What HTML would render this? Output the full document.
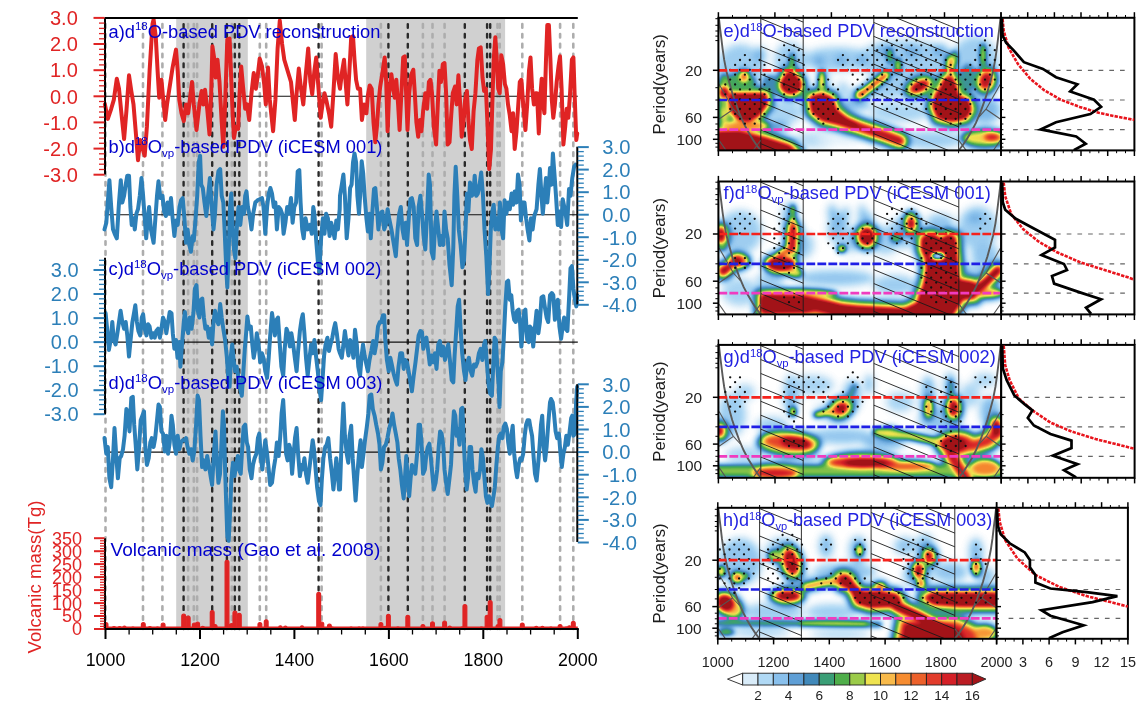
<!DOCTYPE html>
<html><head><meta charset="utf-8"><title>PDV reconstruction figure</title>
<style>html,body{margin:0;padding:0;background:#fff}svg{display:block}</style></head>
<body>
<svg width="1146" height="716" viewBox="0 0 1146 716">
<rect width="1146" height="716" fill="#fff"/>
<rect x="176.2" y="18.0" width="71.6" height="611.0" fill="#d0d0d0"/>
<rect x="366.2" y="18.0" width="138.9" height="611.0" fill="#d0d0d0"/>
<line x1="105.5" x2="105.5" y1="24.1" y2="629.0" stroke="#adadad" stroke-width="2.6" stroke-dasharray="3.6 6.268" stroke-linecap="round"/>
<line x1="143.0" x2="143.0" y1="24.1" y2="629.0" stroke="#adadad" stroke-width="2.6" stroke-dasharray="3.6 6.268" stroke-linecap="round"/>
<line x1="162.4" x2="162.4" y1="24.1" y2="629.0" stroke="#adadad" stroke-width="2.6" stroke-dasharray="3.6 6.268" stroke-linecap="round"/>
<line x1="188.1" x2="188.1" y1="24.1" y2="629.0" stroke="#adadad" stroke-width="2.6" stroke-dasharray="3.6 6.268" stroke-linecap="round"/>
<line x1="193.8" x2="193.8" y1="24.1" y2="629.0" stroke="#adadad" stroke-width="2.6" stroke-dasharray="3.6 6.268" stroke-linecap="round"/>
<line x1="197.1" x2="197.1" y1="24.1" y2="629.0" stroke="#adadad" stroke-width="2.6" stroke-dasharray="3.6 6.268" stroke-linecap="round"/>
<line x1="231.8" x2="231.8" y1="24.1" y2="629.0" stroke="#adadad" stroke-width="2.6" stroke-dasharray="3.6 6.268" stroke-linecap="round"/>
<line x1="259.8" x2="259.8" y1="24.1" y2="629.0" stroke="#adadad" stroke-width="2.6" stroke-dasharray="3.6 6.268" stroke-linecap="round"/>
<line x1="266.2" x2="266.2" y1="24.1" y2="629.0" stroke="#adadad" stroke-width="2.6" stroke-dasharray="3.6 6.268" stroke-linecap="round"/>
<line x1="321.6" x2="321.6" y1="24.1" y2="629.0" stroke="#adadad" stroke-width="2.6" stroke-dasharray="3.6 6.268" stroke-linecap="round"/>
<line x1="380.9" x2="380.9" y1="24.1" y2="629.0" stroke="#adadad" stroke-width="2.6" stroke-dasharray="3.6 6.268" stroke-linecap="round"/>
<line x1="422.9" x2="422.9" y1="24.1" y2="629.0" stroke="#adadad" stroke-width="2.6" stroke-dasharray="3.6 6.268" stroke-linecap="round"/>
<line x1="432.5" x2="432.5" y1="24.1" y2="629.0" stroke="#adadad" stroke-width="2.6" stroke-dasharray="3.6 6.268" stroke-linecap="round"/>
<line x1="444.6" x2="444.6" y1="24.1" y2="629.0" stroke="#adadad" stroke-width="2.6" stroke-dasharray="3.6 6.268" stroke-linecap="round"/>
<line x1="497.5" x2="497.5" y1="24.1" y2="629.0" stroke="#adadad" stroke-width="2.6" stroke-dasharray="3.6 6.268" stroke-linecap="round"/>
<line x1="499.7" x2="499.7" y1="24.1" y2="629.0" stroke="#adadad" stroke-width="2.6" stroke-dasharray="3.6 6.268" stroke-linecap="round"/>
<line x1="522.3" x2="522.3" y1="24.1" y2="629.0" stroke="#adadad" stroke-width="2.6" stroke-dasharray="3.6 6.268" stroke-linecap="round"/>
<line x1="560.1" x2="560.1" y1="24.1" y2="629.0" stroke="#adadad" stroke-width="2.6" stroke-dasharray="3.6 6.268" stroke-linecap="round"/>
<line x1="573.3" x2="573.3" y1="24.1" y2="629.0" stroke="#adadad" stroke-width="2.6" stroke-dasharray="3.6 6.268" stroke-linecap="round"/>
<line x1="183.6" x2="183.6" y1="24.1" y2="629.0" stroke="#2a2a2a" stroke-width="2.4" stroke-dasharray="3.6 6.268" stroke-linecap="round"/>
<line x1="212.2" x2="212.2" y1="24.1" y2="629.0" stroke="#2a2a2a" stroke-width="2.4" stroke-dasharray="3.6 6.268" stroke-linecap="round"/>
<line x1="226.9" x2="226.9" y1="24.1" y2="629.0" stroke="#2a2a2a" stroke-width="2.4" stroke-dasharray="3.6 6.268" stroke-linecap="round"/>
<line x1="234.8" x2="234.8" y1="24.1" y2="629.0" stroke="#2a2a2a" stroke-width="2.4" stroke-dasharray="3.6 6.268" stroke-linecap="round"/>
<line x1="239.3" x2="239.3" y1="24.1" y2="629.0" stroke="#2a2a2a" stroke-width="2.4" stroke-dasharray="3.6 6.268" stroke-linecap="round"/>
<line x1="318.6" x2="318.6" y1="24.1" y2="629.0" stroke="#2a2a2a" stroke-width="2.4" stroke-dasharray="3.6 6.268" stroke-linecap="round"/>
<line x1="388.4" x2="388.4" y1="24.1" y2="629.0" stroke="#2a2a2a" stroke-width="2.4" stroke-dasharray="3.6 6.268" stroke-linecap="round"/>
<line x1="407.8" x2="407.8" y1="24.1" y2="629.0" stroke="#2a2a2a" stroke-width="2.4" stroke-dasharray="3.6 6.268" stroke-linecap="round"/>
<line x1="464.8" x2="464.8" y1="24.1" y2="629.0" stroke="#2a2a2a" stroke-width="2.4" stroke-dasharray="3.6 6.268" stroke-linecap="round"/>
<line x1="487.1" x2="487.1" y1="24.1" y2="629.0" stroke="#2a2a2a" stroke-width="2.4" stroke-dasharray="3.6 6.268" stroke-linecap="round"/>
<line x1="490.2" x2="490.2" y1="24.1" y2="629.0" stroke="#2a2a2a" stroke-width="2.4" stroke-dasharray="3.6 6.268" stroke-linecap="round"/>
<line x1="105.5" x2="577.8" y1="96.3" y2="96.3" stroke="#111" stroke-width="1.1"/>
<line x1="105.5" x2="577.8" y1="214.7" y2="214.7" stroke="#111" stroke-width="1.1"/>
<line x1="105.5" x2="577.8" y1="342.1" y2="342.1" stroke="#111" stroke-width="1.1"/>
<line x1="105.5" x2="577.8" y1="452.1" y2="452.1" stroke="#111" stroke-width="1.1"/>
<path d="M105.5,629.0 L104.1,629.0 L104.1,624.4 Q104.1,622.5 106.0,622.5 L106.0,622.5 Q107.9,622.5 107.9,624.4 L107.9,629.0 L112.4,629.0 L112.4,628.1 Q112.4,626.7 113.8,626.7 L114.2,626.7 Q115.6,626.7 115.6,628.1 L115.6,629.0 L118.1,629.0 L118.1,628.0 Q118.1,626.5 119.6,626.5 L119.8,626.5 Q121.3,626.5 121.3,628.0 L121.3,629.0 L122.8,629.0 L122.8,627.6 Q122.8,626.0 124.4,626.0 L124.4,626.0 Q126.0,626.0 126.0,627.6 L126.0,629.0 L131.3,629.0 L131.3,628.2 Q131.3,627.0 132.5,627.0 L133.3,627.0 Q134.5,627.0 134.5,628.2 L134.5,629.0 L141.4,629.0 L141.4,624.4 Q141.4,622.5 143.3,622.5 L143.3,622.5 Q145.2,622.5 145.2,624.4 L145.2,629.0 L148.3,629.0 L148.3,628.0 Q148.3,626.5 149.8,626.5 L150.0,626.5 Q151.5,626.5 151.5,628.0 L151.5,629.0 L155.9,629.0 L155.9,628.2 Q155.9,627.0 157.1,627.0 L157.9,627.0 Q159.1,627.0 159.1,628.2 L159.1,629.0 L161.2,629.0 L161.2,624.9 Q161.2,623.0 163.1,623.0 L163.1,623.0 Q165.0,623.0 165.0,624.9 L165.0,629.0 L170.0,629.0 L170.0,628.4 Q170.0,627.5 170.9,627.5 L172.3,627.5 Q173.2,627.5 173.2,628.4 L173.2,629.0 L181.8,629.0 L181.8,616.1 Q181.8,614.2 183.7,614.2 L183.7,614.2 Q185.6,614.2 185.6,616.1 L185.6,629.0 L186.3,629.0 L186.3,617.9 Q186.3,616.0 188.2,616.0 L188.2,616.0 Q190.1,616.0 190.1,617.9 L190.1,629.0 L192.4,629.0 L192.4,624.9 Q192.4,623.0 194.3,623.0 L194.3,623.0 Q196.2,623.0 196.2,624.9 L196.2,629.0 L195.7,629.0 L195.7,623.9 Q195.7,622.0 197.6,622.0 L197.6,622.0 Q199.5,622.0 199.5,623.9 L199.5,629.0 L201.2,629.0 L201.2,628.0 Q201.2,626.4 202.8,626.4 L202.8,626.4 Q204.4,626.4 204.4,628.0 L204.4,629.0 L210.3,629.0 L210.3,612.4 Q210.3,610.5 212.2,610.5 L212.2,610.5 Q214.1,610.5 214.1,612.4 L214.1,629.0 L213.2,629.0 L213.2,626.4 Q213.2,624.5 215.1,624.5 L215.1,624.5 Q217.0,624.5 217.0,626.4 L217.0,629.0 L225.1,629.0 L225.1,562.2 Q225.1,560.3 227.0,560.3 L227.0,560.3 Q228.9,560.3 228.9,562.2 L228.9,629.0 L229.7,629.0 L229.7,625.4 Q229.7,623.5 231.6,623.5 L231.6,623.5 Q233.5,623.5 233.5,625.4 L233.5,629.0 L233.0,629.0 L233.0,612.9 Q233.0,611.0 234.9,611.0 L234.9,611.0 Q236.8,611.0 236.8,612.9 L236.8,629.0 L237.4,629.0 L237.4,615.2 Q237.4,613.3 239.3,613.3 L239.3,613.3 Q241.2,613.3 241.2,615.2 L241.2,629.0 L252.7,629.0 L252.7,628.4 Q252.7,627.5 253.6,627.5 L255.0,627.5 Q255.9,627.5 255.9,628.4 L255.9,629.0 L258.0,629.0 L258.0,624.4 Q258.0,622.5 259.9,622.5 L259.9,622.5 Q261.8,622.5 261.8,624.4 L261.8,629.0 L264.3,629.0 L264.3,621.7 Q264.3,619.8 266.2,619.8 L266.2,619.8 Q268.1,619.8 268.1,621.7 L268.1,629.0 L278.7,629.0 L278.7,627.4 Q278.7,625.8 280.3,625.8 L280.3,625.8 Q281.9,625.8 281.9,627.4 L281.9,629.0 L283.8,629.0 L283.8,627.6 Q283.8,626.0 285.4,626.0 L285.4,626.0 Q287.0,626.0 287.0,627.6 L287.0,629.0 L300.4,629.0 L300.4,627.4 Q300.4,625.8 302.0,625.8 L302.0,625.8 Q303.6,625.8 303.6,627.4 L303.6,629.0 L316.8,629.0 L316.8,594.3 Q316.8,592.4 318.7,592.4 L318.7,592.4 Q320.6,592.4 320.6,594.3 L320.6,629.0 L319.9,629.0 L319.9,623.9 Q319.9,622.0 321.8,622.0 L321.8,622.0 Q323.7,622.0 323.7,623.9 L323.7,629.0 L327.5,629.0 L327.5,626.1 Q327.5,624.2 329.4,624.2 L329.4,624.2 Q331.3,624.2 331.3,626.1 L331.3,629.0 L330.6,629.0 L330.6,628.2 Q330.6,627.0 331.8,627.0 L332.6,627.0 Q333.8,627.0 333.8,628.2 L333.8,629.0 L342.4,629.0 L342.4,628.4 Q342.4,627.5 343.3,627.5 L344.7,627.5 Q345.6,627.5 345.6,628.4 L345.6,629.0 L349.5,629.0 L349.5,628.2 Q349.5,627.0 350.7,627.0 L351.5,627.0 Q352.7,627.0 352.7,628.2 L352.7,629.0 L357.5,629.0 L357.5,628.2 Q357.5,627.0 358.7,627.0 L359.5,627.0 Q360.7,627.0 360.7,628.2 L360.7,629.0 L361.3,629.0 L361.3,628.2 Q361.3,627.0 362.5,627.0 L363.3,627.0 Q364.5,627.0 364.5,628.2 L364.5,629.0 L379.0,629.0 L379.0,624.4 Q379.0,622.5 380.9,622.5 L380.9,622.5 Q382.8,622.5 382.8,624.4 L382.8,629.0 L383.5,629.0 L383.5,628.0 Q383.5,626.4 385.1,626.4 L385.1,626.4 Q386.7,626.4 386.7,628.0 L386.7,629.0 L386.5,629.0 L386.5,616.3 Q386.5,614.4 388.4,614.4 L388.4,614.4 Q390.3,614.4 390.3,616.3 L390.3,629.0 L396.3,629.0 L396.3,628.3 Q396.3,627.2 397.3,627.2 L398.4,627.2 Q399.5,627.2 399.5,628.3 L399.5,629.0 L405.9,629.0 L405.9,617.2 Q405.9,615.3 407.8,615.3 L407.8,615.3 Q409.7,615.3 409.7,617.2 L409.7,629.0 L421.0,629.0 L421.0,626.5 Q421.0,624.6 422.9,624.6 L422.9,624.6 Q424.8,624.6 424.8,626.5 L424.8,629.0 L430.6,629.0 L430.6,623.7 Q430.6,621.8 432.5,621.8 L432.5,621.8 Q434.4,621.8 434.4,623.7 L434.4,629.0 L439.7,629.0 L439.7,628.5 Q439.7,627.8 440.4,627.8 L442.2,627.8 Q442.9,627.8 442.9,628.5 L442.9,629.0 L442.7,629.0 L442.7,622.9 Q442.7,621.0 444.6,621.0 L444.6,621.0 Q446.5,621.0 446.5,622.9 L446.5,629.0 L448.2,629.0 L448.2,627.8 Q448.2,626.2 449.8,626.2 L449.8,626.2 Q451.4,626.2 451.4,627.8 L451.4,629.0 L452.9,629.0 L452.9,628.5 Q452.9,627.8 453.6,627.8 L455.4,627.8 Q456.1,627.8 456.1,628.5 L456.1,629.0 L460.5,629.0 L460.5,628.3 Q460.5,627.2 461.6,627.2 L462.6,627.2 Q463.7,627.2 463.7,628.3 L463.7,629.0 L463.0,629.0 L463.0,606.5 Q463.0,604.6 464.9,604.6 L464.9,604.6 Q466.8,604.6 466.8,606.5 L466.8,629.0 L479.9,629.0 L479.9,628.3 Q479.9,627.2 480.9,627.2 L482.0,627.2 Q483.1,627.2 483.1,628.3 L483.1,629.0 L485.2,629.0 L485.2,617.2 Q485.2,615.3 487.1,615.3 L487.1,615.3 Q489.0,615.3 489.0,617.2 L489.0,629.0 L488.3,629.0 L488.3,602.5 Q488.3,600.6 490.2,600.6 L490.2,600.6 Q492.1,600.6 492.1,602.5 L492.1,629.0 L496.1,629.0 L496.1,626.5 Q496.1,624.6 498.0,624.6 L498.0,624.6 Q499.9,624.6 499.9,626.5 L499.9,629.0 L498.0,629.0 L498.0,620.4 Q498.0,618.5 499.9,618.5 L499.9,618.5 Q501.8,618.5 501.8,620.4 L501.8,629.0 L511.0,629.0 L511.0,628.5 Q511.0,627.8 511.7,627.8 L513.5,627.8 Q514.2,627.8 514.2,628.5 L514.2,629.0 L520.4,629.0 L520.4,625.0 Q520.4,623.1 522.3,623.1 L522.3,623.1 Q524.2,623.1 524.2,625.0 L524.2,629.0 L529.9,629.0 L529.9,628.5 Q529.9,627.8 530.6,627.8 L532.4,627.8 Q533.1,627.8 533.1,628.5 L533.1,629.0 L534.6,629.0 L534.6,628.0 Q534.6,626.4 536.2,626.4 L536.3,626.4 Q537.8,626.4 537.8,628.0 L537.8,629.0 L540.8,629.0 L540.8,628.0 Q540.8,626.4 542.3,626.4 L542.4,626.4 Q544.0,626.4 544.0,628.0 L544.0,629.0 L549.3,629.0 L549.3,628.3 Q549.3,627.2 550.4,627.2 L551.4,627.2 Q552.5,627.2 552.5,628.3 L552.5,629.0 L558.2,629.0 L558.2,626.5 Q558.2,624.6 560.1,624.6 L560.1,624.6 Q562.0,624.6 562.0,626.5 L562.0,629.0 L564.9,629.0 L564.9,628.3 Q564.9,627.2 565.9,627.2 L567.0,627.2 Q568.1,627.2 568.1,628.3 L568.1,629.0 L567.7,629.0 L567.7,627.4 Q567.7,625.8 569.3,625.8 L569.3,625.8 Q570.9,625.8 570.9,627.4 L570.9,629.0 L571.4,629.0 L571.4,623.3 Q571.4,621.4 573.3,621.4 L573.3,621.4 Q575.2,621.4 575.2,623.3 L575.2,629.0 L577.8,629.0 Z" fill="#e02424" stroke="#e02424" stroke-width="1.2" stroke-linejoin="round"/>
<line x1="105.5" x2="577.8" y1="627.8" y2="627.8" stroke="#e02424" stroke-width="2.4"/>
<polyline points="104.9,104.4 107.8,118.9 111.2,108.8 113.8,99.9 116.8,78.7 119.0,88.7 121.2,111.1 124.1,139.0 126.4,111.1 129.0,75.3 131.3,91.0 133.5,104.4 135.7,131.2 138.0,160.2 140.2,140.1 142.0,146.8 144.7,155.7 146.9,126.7 149.6,70.8 152.5,23.9 153.6,19.5 155.8,37.3 157.6,70.8 159.2,97.7 161.4,79.8 163.7,104.4 165.2,120.0 167.0,104.4 170.4,82.0 172.6,67.5 176.0,49.6 177.7,70.8 179.3,99.9 181.5,113.3 183.8,121.1 186.0,104.4 188.2,113.3 189.8,99.9 192.0,82.0 193.8,104.4 196.5,130.0 199.4,104.4 201.6,91.0 203.2,104.4 205.0,89.8 207.2,108.8 209.5,134.5 211.2,93.2 212.4,46.3 214.4,59.7 215.7,77.5 217.5,59.7 219.5,82.0 221.7,122.2 223.3,146.8 225.1,104.4 227.3,39.6 229.6,38.5 230.9,70.8 232.7,115.5 234.0,137.9 235.8,126.7 238.1,128.9 239.6,93.2 241.2,66.4 243.0,86.5 245.2,108.8 247.0,104.4 249.2,120.0 251.5,93.2 253.7,73.1 255.9,88.7 257.5,77.5 259.7,58.6 262.0,66.4 264.2,84.2 265.8,104.4 268.0,67.5 269.8,99.9 273.1,131.2 275.4,99.9 277.6,48.5 279.8,20.6 282.1,44.0 284.3,59.7 287.6,70.8 291.0,82.0 293.2,104.4 294.8,120.0 296.6,93.2 298.8,68.6 301.0,88.7 303.3,104.4 305.5,77.5 308.2,48.5 310.4,82.0 312.2,94.3 314.4,70.8 316.2,57.4 318.5,88.7 320.7,117.8 322.5,104.4 324.5,93.2 326.7,102.1 329.0,113.3 331.2,126.7 333.4,93.2 335.7,54.1 337.9,77.5 340.0,88.7 342.2,70.8 344.0,59.7 345.6,82.0 347.4,104.4 349.4,70.8 351.2,37.3 353.0,36.2 354.5,59.7 356.1,79.8 357.9,88.7 360.1,88.7 361.9,120.0 364.1,104.4 366.4,113.3 367.9,95.4 369.7,85.4 371.7,88.7 373.5,122.2 375.3,142.3 376.9,126.7 378.4,104.4 380.2,86.5 382.4,73.1 384.7,57.4 386.2,82.0 387.6,131.2 389.1,93.2 391.4,74.2 393.2,88.7 394.7,97.7 396.3,79.8 398.1,104.4 399.6,130.0 401.4,93.2 403.2,57.4 404.8,56.3 406.1,93.2 407.5,130.0 409.2,93.2 411.0,75.3 413.3,69.7 414.8,93.2 416.4,122.2 418.2,136.7 420.0,120.0 421.5,131.2 423.1,111.1 425.3,93.2 427.1,108.8 428.9,82.0 430.5,79.8 432.0,93.2 433.8,126.7 436.1,144.6 437.8,104.4 439.4,70.8 441.0,82.0 442.8,64.1 444.5,63.0 446.1,93.2 447.7,144.6 449.5,142.3 451.2,115.5 452.8,93.2 455.0,86.5 456.6,104.4 458.4,75.3 460.2,104.4 461.7,136.7 463.5,122.2 465.1,99.9 466.9,91.0 468.4,120.0 470.0,140.1 471.8,149.0 473.6,111.1 475.4,93.2 477.4,59.7 478.9,48.5 480.7,47.4 482.5,77.5 484.1,91.0 485.9,88.7 487.4,122.2 489.2,169.1 491.0,149.0 492.3,104.4 493.7,59.7 495.3,37.3 496.8,59.7 498.2,88.7 499.7,93.2 501.3,55.2 503.1,64.1 504.9,84.2 506.4,88.7 508.0,104.4 509.8,115.5 511.6,131.2 513.1,113.3 514.7,149.0 516.5,131.2 518.3,104.4 519.8,82.0 521.4,79.8 523.2,104.4 525.4,130.0 527.2,104.4 529.0,70.8 530.5,57.4 532.1,88.7 533.9,104.4 535.5,93.2 537.0,93.2 538.8,133.4 540.6,93.2 541.7,78.7 543.3,104.4 544.4,113.3 546.0,59.7 547.3,25.1 548.9,25.1 550.4,59.7 551.8,99.9 553.3,117.8 554.9,104.4 556.7,82.0 558.5,66.4 560.0,56.3 561.6,88.7 563.4,144.6 565.2,126.7 566.7,108.8 568.3,117.8 570.1,93.2 571.9,59.7 573.4,57.4 574.6,93.2 576.3,140.1 577.2,133.4" fill="none" stroke="#e02424" stroke-width="4" stroke-linejoin="round" stroke-linecap="round"/>
<polyline points="104.5,229.4 106.3,222.7 107.8,202.5 109.4,180.2 111.2,207.0 113.0,229.4 114.7,233.8 116.8,238.3 119.0,202.5 120.8,180.2 122.3,202.5 124.1,195.8 125.7,184.7 127.3,175.7 129.0,175.7 130.4,207.0 131.7,224.9 133.5,218.2 134.8,229.4 136.4,213.7 138.0,209.2 139.8,195.8 141.5,178.0 143.1,195.8 144.7,218.2 146.2,238.3 147.8,218.2 149.1,207.0 150.9,229.4 153.6,242.8 155.4,218.2 157.0,195.8 158.5,181.3 160.3,198.1 162.5,195.8 164.1,211.5 165.9,216.0 167.5,202.5 169.2,213.7 171.0,198.1 172.6,218.2 174.4,236.1 176.0,220.4 177.7,224.9 179.5,207.0 181.1,200.3 182.7,198.1 184.4,218.2 186.0,242.8 187.6,229.4 189.4,245.0 190.9,251.7 192.7,236.1 193.8,240.5 195.6,218.2 197.2,195.8 198.7,162.3 200.1,155.6 201.2,184.7 202.8,188.0 204.5,202.5 206.3,216.0 208.1,195.8 209.9,178.0 211.7,207.0 213.5,229.4 215.0,213.7 216.6,184.7 218.4,171.3 220.2,169.0 221.7,195.8 223.3,202.5 224.6,229.4 226.2,267.3 227.3,287.4 228.7,251.7 230.0,207.0 231.3,193.6 232.7,229.4 234.0,249.5 235.4,258.4 236.7,229.4 238.5,207.0 240.3,224.9 242.1,207.0 243.9,213.7 245.2,195.8 246.5,191.4 247.9,207.0 249.7,216.0 251.5,229.4 253.2,213.7 255.3,202.5 257.5,200.3 259.7,199.2 262.0,198.1 263.5,207.0 265.3,233.8 267.1,207.0 268.7,193.6 270.4,188.0 272.0,193.6 273.8,207.0 275.4,202.5 276.9,229.4 278.7,207.0 280.5,209.2 282.1,213.7 283.6,233.8 285.4,222.7 287.2,207.0 289.0,213.7 291.0,198.1 292.6,222.7 294.3,207.0 296.1,202.5 297.7,171.3 299.3,170.2 300.6,202.5 302.2,229.4 303.7,238.3 305.5,218.2 307.7,229.4 310.0,224.9 311.8,233.8 313.3,207.0 314.4,213.7 316.2,240.5 317.8,260.6 319.4,271.8 321.1,238.3 322.9,218.2 324.5,233.8 326.1,213.7 327.9,218.2 329.6,236.1 331.2,222.7 332.8,229.4 334.6,238.3 336.3,220.4 337.9,229.4 339.7,209.2 340.0,195.8 341.8,184.7 343.4,174.6 344.9,195.8 346.7,238.3 348.5,218.2 350.1,188.0 351.6,184.7 353.0,162.3 354.5,153.4 356.1,162.3 357.4,195.8 359.0,213.7 360.1,195.8 361.7,161.2 363.2,173.5 364.6,195.8 366.4,218.2 367.9,231.6 369.5,213.7 370.8,238.3 372.4,211.5 374.0,189.1 375.3,188.0 376.9,207.0 378.4,229.4 380.2,213.7 382.4,211.5 384.2,229.4 385.8,224.9 387.6,209.2 389.1,218.2 391.4,229.4 393.6,242.8 395.8,256.2 397.6,229.4 399.2,213.7 400.8,207.0 402.5,229.4 404.1,238.3 405.7,222.7 407.0,245.0 408.8,218.2 410.4,199.2 411.9,198.1 413.7,207.0 415.3,238.3 417.1,245.0 418.6,207.0 420.4,195.8 422.0,213.7 423.8,238.3 425.3,249.5 427.1,213.7 428.7,174.6 430.0,184.7 431.6,251.7 433.4,258.4 434.9,229.4 436.5,211.5 438.3,229.4 439.9,245.0 441.6,236.1 443.2,245.0 444.5,211.5 446.1,229.4 447.7,238.3 449.5,265.1 451.7,285.2 453.3,247.2 454.4,195.8 455.7,166.8 457.3,195.8 458.8,229.4 460.6,245.0 462.4,267.3 464.0,260.6 465.5,229.4 466.9,193.6 468.4,211.5 470.0,182.4 471.8,195.8 473.4,193.6 474.7,175.7 476.3,195.8 477.8,193.6 479.6,184.7 481.2,172.4 483.0,195.8 484.5,229.4 486.3,256.2 488.1,294.1 489.2,274.0 490.8,229.4 492.3,211.5 493.7,204.8 495.3,229.4 497.0,218.2 498.6,229.4 499.9,202.5 501.5,229.4 503.1,238.3 504.6,200.3 506.4,213.7 508.0,202.5 509.8,209.2 511.6,193.6 513.1,204.8 514.7,191.4 516.5,202.5 518.0,174.6 519.6,184.7 520.9,220.4 522.7,202.5 524.5,202.5 526.1,218.2 527.6,229.4 529.4,240.5 531.0,218.2 532.6,229.4 534.3,216.0 536.6,209.2 538.4,184.7 539.9,169.0 541.5,195.8 542.8,213.7 544.4,195.8 546.0,178.0 547.3,202.5 548.9,184.7 550.0,167.9 551.5,184.7 552.9,153.4 554.4,173.5 556.0,195.8 557.8,224.9 559.4,211.5 561.1,227.1 562.7,199.2 564.3,207.0 565.6,213.7 567.2,224.9 569.0,189.1 570.5,195.8 572.3,178.0 574.1,166.8 575.7,164.6" fill="none" stroke="#2c7fb8" stroke-width="4" stroke-linejoin="round" stroke-linecap="round"/>
<polyline points="105.6,313.1 107.1,328.7 108.9,349.9 110.7,339.9 112.3,322.0 113.8,339.9 115.6,344.4 117.4,333.2 119.0,322.0 120.6,310.8 122.3,322.0 124.1,328.7 125.7,322.0 127.3,335.4 129.0,356.6 130.6,339.9 132.4,322.0 134.0,313.1 135.3,305.3 136.9,322.0 138.4,331.0 140.2,335.4 141.8,317.5 143.1,314.2 144.7,328.7 146.5,335.4 148.0,324.2 149.6,326.5 151.4,337.7 153.2,333.2 154.7,337.7 156.3,331.0 158.1,328.7 159.9,337.7 161.4,328.7 163.0,317.5 164.8,322.0 166.3,333.2 168.1,322.0 169.7,312.0 171.5,313.1 172.8,333.2 174.4,348.8 176.0,339.9 177.5,357.8 179.3,342.1 180.4,366.7 182.0,344.4 183.8,322.0 184.9,312.0 186.7,328.7 188.2,333.2 189.8,317.5 191.6,328.7 193.4,313.1 194.9,288.5 196.5,285.2 197.8,310.8 199.4,317.5 201.0,299.7 202.3,298.6 203.9,317.5 205.4,328.7 207.2,326.5 208.8,337.7 210.6,328.7 212.1,344.4 213.5,322.0 215.0,310.8 216.6,319.8 218.4,324.2 220.2,304.1 221.7,317.5 223.3,328.7 225.1,339.9 226.9,357.8 228.4,380.1 229.6,386.8 230.9,355.5 232.2,344.4 233.6,360.0 235.1,371.2 236.7,366.7 238.5,377.9 240.3,389.0 241.8,395.7 243.4,371.2 244.8,348.8 246.3,331.0 247.4,316.4 249.0,328.7 250.8,326.5 252.3,344.4 253.7,357.8 255.3,348.8 256.8,333.2 258.6,344.4 260.2,362.2 262.0,353.3 263.5,357.8 265.3,371.2 267.1,377.9 268.7,357.8 270.2,335.4 272.0,313.1 273.3,322.0 274.9,335.4 276.5,319.8 278.0,317.5 279.8,344.4 281.4,366.7 283.2,375.6 284.7,348.8 286.5,328.7 288.1,333.2 289.9,346.6 291.4,333.2 293.2,344.4 294.8,357.8 296.6,371.2 298.1,351.1 299.9,331.0 301.5,319.8 302.8,314.2 304.4,333.2 306.0,357.8 307.7,375.6 309.3,360.0 311.1,344.4 312.7,353.3 314.4,339.9 316.2,357.8 317.8,371.2 319.4,389.0 321.1,400.2 322.5,380.1 324.1,355.5 325.6,344.4 327.4,337.7 329.0,351.1 330.5,344.4 332.3,337.7 333.9,328.7 335.2,323.1 336.8,333.2 338.6,348.8 340.0,353.3 341.8,357.8 343.4,344.4 344.9,331.0 346.7,344.4 348.5,355.5 350.1,339.9 351.6,344.4 353.4,357.8 355.0,329.8 356.8,344.4 358.3,366.7 360.1,375.6 361.7,355.5 363.0,344.4 364.6,355.5 366.4,364.5 367.9,371.2 369.5,360.0 371.3,351.1 373.1,341.0 374.6,353.3 376.2,344.4 378.0,326.5 379.8,322.0 381.3,322.0 382.9,315.3 384.2,315.3 385.3,339.9 386.9,360.0 388.7,371.2 390.3,357.8 391.8,364.5 393.6,373.4 395.4,380.1 397.0,384.6 398.5,366.7 400.3,353.3 402.1,353.3 403.7,368.9 405.2,360.0 407.0,362.2 408.6,371.2 410.4,382.3 411.9,391.3 413.7,375.6 415.5,362.2 417.1,348.8 418.6,335.4 420.4,331.0 422.0,332.1 423.3,348.8 424.9,339.9 426.4,337.7 428.2,351.1 429.8,364.5 431.6,355.5 433.4,362.2 434.9,353.3 436.5,368.9 438.3,344.4 439.9,341.0 441.6,355.5 443.2,346.6 445.0,360.0 446.6,351.1 448.3,344.4 449.9,360.0 451.7,380.1 453.3,382.3 454.6,355.5 456.2,331.0 457.7,306.4 459.1,299.7 460.6,328.7 462.2,353.3 464.0,371.2 465.5,380.1 467.3,362.2 468.9,357.8 470.7,371.2 472.2,375.6 474.0,364.5 475.6,366.7 477.4,362.2 478.9,353.3 480.7,348.8 482.3,360.0 484.1,344.4 485.2,341.0 486.8,362.2 488.6,384.6 490.1,393.5 491.9,395.7 493.2,366.7 494.6,337.7 495.9,339.9 497.3,366.7 498.6,384.6 499.5,406.9 500.8,371.2 502.4,362.2 503.7,339.9 505.3,306.4 506.9,281.8 508.2,280.7 509.8,299.7 511.3,295.2 512.7,310.8 514.2,319.8 515.8,322.0 517.1,310.8 518.7,309.7 520.0,322.0 521.4,346.6 522.7,331.0 524.3,310.8 525.4,309.7 527.2,339.9 528.8,342.1 529.9,326.5 531.7,328.7 533.2,346.6 534.8,328.7 536.6,310.8 538.4,333.2 539.9,322.0 541.5,297.4 543.3,296.3 545.1,308.6 546.6,317.5 548.2,322.0 550.0,295.2 551.8,293.0 553.3,295.2 554.9,319.8 556.2,306.4 557.8,299.7 559.4,326.5 561.1,338.8 562.7,326.5 564.1,317.5 565.6,328.7 567.4,331.0 569.0,299.7 570.5,268.4 571.9,266.2 573.4,288.5 574.6,297.4 576.3,306.4 577.2,295.2" fill="none" stroke="#2c7fb8" stroke-width="4" stroke-linejoin="round" stroke-linecap="round"/>
<polyline points="104.5,438.1 106.3,453.7 107.8,447.0 109.4,478.3 111.2,487.2 113.0,458.2 114.5,428.0 116.1,453.7 117.9,478.3 119.7,458.2 121.2,456.0 123.0,449.2 124.6,435.8 126.4,409.0 127.9,413.5 129.5,431.4 131.3,397.9 132.8,396.8 134.2,424.7 135.7,444.8 137.3,469.4 139.1,447.0 140.7,420.2 142.4,415.7 144.0,411.3 145.3,447.0 146.9,464.9 148.7,458.2 150.3,442.5 151.8,438.1 153.6,447.0 155.2,438.1 157.0,420.2 158.5,404.6 159.9,406.8 161.4,431.4 163.0,433.6 164.8,451.5 166.3,435.8 168.1,453.7 169.7,442.5 171.5,415.7 172.8,424.7 174.4,444.8 176.0,453.7 177.7,435.8 179.3,449.2 180.9,442.5 182.7,440.3 184.4,440.3 186.0,438.1 187.6,447.0 189.4,453.7 191.1,449.2 192.7,460.4 194.3,451.5 196.1,424.7 197.6,395.6 199.0,400.1 200.5,435.8 202.1,467.1 203.9,460.4 205.4,469.4 207.2,456.0 208.8,464.9 210.6,476.1 212.1,485.0 213.9,453.7 215.5,431.4 216.8,458.2 218.4,482.8 220.0,473.8 221.3,447.0 222.9,411.3 224.0,424.7 225.1,469.4 226.2,502.9 227.3,536.4 228.7,540.8 230.0,514.0 231.3,480.5 232.9,462.7 234.5,476.1 236.3,464.9 237.8,456.0 239.2,469.4 240.7,473.8 242.3,447.0 243.6,426.9 245.2,424.7 246.8,442.5 248.1,447.0 249.7,469.4 251.5,478.3 253.0,464.9 254.6,458.2 256.4,453.7 257.9,438.1 259.3,433.6 260.8,458.2 262.4,469.4 263.7,453.7 265.3,440.3 267.1,453.7 268.7,469.4 270.2,485.0 272.0,482.8 273.6,469.4 275.4,458.2 276.9,442.5 278.7,456.0 280.3,435.8 281.6,413.5 283.2,400.1 284.5,424.7 286.1,453.7 287.6,460.4 289.2,444.8 290.5,449.2 292.1,473.8 293.7,453.7 295.0,438.1 296.6,428.0 298.1,453.7 299.9,476.1 301.5,464.9 302.8,469.4 304.4,458.2 306.0,473.8 307.7,482.8 309.3,469.4 311.1,453.7 312.7,440.3 314.0,449.2 315.6,469.4 317.1,487.2 318.9,500.6 320.5,505.1 321.8,480.5 323.4,458.2 325.2,447.0 326.7,444.8 328.3,438.1 330.1,458.2 331.9,473.8 333.4,489.5 335.0,473.8 336.3,458.2 337.9,473.8 339.0,489.5 340.0,489.5 341.8,435.8 343.4,403.5 344.9,435.8 346.7,453.7 348.3,462.7 349.6,435.8 351.2,425.8 352.7,458.2 354.1,478.3 355.6,500.6 357.2,476.1 359.0,453.7 360.6,440.3 361.9,467.1 363.5,453.7 365.0,440.3 366.8,426.9 368.4,413.5 369.7,395.6 371.3,394.5 372.8,409.0 374.6,415.7 376.2,424.7 378.0,433.6 379.5,444.8 380.9,469.4 382.4,462.7 384.0,447.0 385.8,444.8 387.4,438.1 389.1,429.1 390.9,422.4 392.5,413.5 394.1,424.7 395.8,433.6 397.4,442.5 398.7,458.2 400.3,469.4 401.9,485.0 403.7,498.4 405.2,473.8 406.3,456.0 407.7,478.3 409.2,496.2 410.6,478.3 411.9,464.9 413.7,469.4 415.3,473.8 417.1,453.7 418.6,424.7 420.0,424.7 421.5,442.5 423.1,473.8 424.9,469.4 426.4,453.7 427.8,447.0 429.4,443.7 430.9,458.2 432.3,473.8 433.8,489.5 435.6,482.8 437.2,469.4 438.7,447.0 440.1,431.4 441.6,433.6 443.2,444.8 444.5,469.4 446.1,482.8 447.7,493.9 449.5,478.3 451.0,464.9 452.4,435.8 453.9,411.3 455.3,415.7 456.6,435.8 457.9,429.1 459.5,444.8 461.1,409.0 462.4,407.9 463.5,435.8 465.1,469.4 466.7,489.5 468.0,478.3 469.6,447.0 471.1,447.0 472.5,469.4 474.0,482.8 475.6,491.7 476.9,473.8 478.5,478.3 480.1,469.4 481.4,449.2 483.0,458.2 484.5,478.3 485.9,496.2 487.4,502.9 489.0,496.2 490.3,500.6 491.9,506.2 493.5,496.2 494.8,487.2 496.4,464.9 497.9,447.0 499.3,435.8 500.8,433.6 502.4,438.1 503.7,426.9 505.3,423.6 506.9,429.1 508.2,442.5 509.8,453.7 511.3,435.8 512.7,425.8 514.2,453.7 515.8,469.4 517.1,477.2 518.7,464.9 520.3,458.2 521.6,460.4 523.2,453.7 524.7,435.8 526.1,424.7 527.6,420.2 529.2,420.2 530.5,428.0 532.1,435.8 533.7,458.2 535.0,473.8 536.6,480.5 538.1,464.9 539.5,447.0 541.0,424.7 542.2,415.7 543.7,447.0 545.1,460.4 546.6,447.0 548.2,424.7 550.0,402.3 551.1,399.0 552.7,402.3 554.0,413.5 555.6,431.4 557.1,438.1 558.9,433.6 560.5,453.7 561.8,467.1 563.4,453.7 564.9,447.0 566.3,435.8 567.9,444.8 569.4,433.6 571.2,418.0 572.3,415.7 573.4,435.8 575.0,433.6 576.1,402.3 577.2,386.7" fill="none" stroke="#2c7fb8" stroke-width="4" stroke-linejoin="round" stroke-linecap="round"/>
<line x1="104.5" x2="577.8" y1="18.0" y2="18.0" stroke="#000" stroke-width="2"/>
<line x1="104.5" x2="578.8" y1="629.0" y2="629.0" stroke="#000" stroke-width="2"/>
<line x1="105.0" x2="105.0" y1="18.0" y2="174.6" stroke="#000" stroke-width="2"/>
<line x1="105.0" x2="105.0" y1="257.8" y2="414.5" stroke="#000" stroke-width="2"/>
<line x1="105.0" x2="105.0" y1="538.3" y2="629.0" stroke="#000" stroke-width="2"/>
<line x1="577.3" x2="577.3" y1="146.7" y2="304.4" stroke="#000" stroke-width="2"/>
<line x1="577.3" x2="577.3" y1="384.1" y2="542.0" stroke="#000" stroke-width="2"/>
<line x1="93.5" x2="104.5" y1="17.9" y2="17.9" stroke="#e02424" stroke-width="2"/>
<text x="77.8" y="25.1" font-family="Liberation Sans, Arial, sans-serif" font-size="20.0" fill="#e02424" text-anchor="end">3.0</text>
<line x1="99.0" x2="104.5" y1="23.1" y2="23.1" stroke="#e02424" stroke-width="1.3"/>
<line x1="99.0" x2="104.5" y1="28.4" y2="28.4" stroke="#e02424" stroke-width="1.3"/>
<line x1="99.0" x2="104.5" y1="33.6" y2="33.6" stroke="#e02424" stroke-width="1.3"/>
<line x1="99.0" x2="104.5" y1="38.8" y2="38.8" stroke="#e02424" stroke-width="1.3"/>
<line x1="93.5" x2="104.5" y1="44.0" y2="44.0" stroke="#e02424" stroke-width="2"/>
<text x="77.8" y="51.2" font-family="Liberation Sans, Arial, sans-serif" font-size="20.0" fill="#e02424" text-anchor="end">2.0</text>
<line x1="99.0" x2="104.5" y1="49.3" y2="49.3" stroke="#e02424" stroke-width="1.3"/>
<line x1="99.0" x2="104.5" y1="54.5" y2="54.5" stroke="#e02424" stroke-width="1.3"/>
<line x1="99.0" x2="104.5" y1="59.7" y2="59.7" stroke="#e02424" stroke-width="1.3"/>
<line x1="99.0" x2="104.5" y1="64.9" y2="64.9" stroke="#e02424" stroke-width="1.3"/>
<line x1="93.5" x2="104.5" y1="70.2" y2="70.2" stroke="#e02424" stroke-width="2"/>
<text x="77.8" y="77.3" font-family="Liberation Sans, Arial, sans-serif" font-size="20.0" fill="#e02424" text-anchor="end">1.0</text>
<line x1="99.0" x2="104.5" y1="75.4" y2="75.4" stroke="#e02424" stroke-width="1.3"/>
<line x1="99.0" x2="104.5" y1="80.6" y2="80.6" stroke="#e02424" stroke-width="1.3"/>
<line x1="99.0" x2="104.5" y1="85.8" y2="85.8" stroke="#e02424" stroke-width="1.3"/>
<line x1="99.0" x2="104.5" y1="91.1" y2="91.1" stroke="#e02424" stroke-width="1.3"/>
<line x1="93.5" x2="104.5" y1="96.3" y2="96.3" stroke="#e02424" stroke-width="2"/>
<text x="77.8" y="103.5" font-family="Liberation Sans, Arial, sans-serif" font-size="20.0" fill="#e02424" text-anchor="end">0.0</text>
<line x1="99.0" x2="104.5" y1="101.5" y2="101.5" stroke="#e02424" stroke-width="1.3"/>
<line x1="99.0" x2="104.5" y1="106.8" y2="106.8" stroke="#e02424" stroke-width="1.3"/>
<line x1="99.0" x2="104.5" y1="112.0" y2="112.0" stroke="#e02424" stroke-width="1.3"/>
<line x1="99.0" x2="104.5" y1="117.2" y2="117.2" stroke="#e02424" stroke-width="1.3"/>
<line x1="93.5" x2="104.5" y1="122.4" y2="122.4" stroke="#e02424" stroke-width="2"/>
<text x="77.8" y="129.6" font-family="Liberation Sans, Arial, sans-serif" font-size="20.0" fill="#e02424" text-anchor="end">-1.0</text>
<line x1="99.0" x2="104.5" y1="127.7" y2="127.7" stroke="#e02424" stroke-width="1.3"/>
<line x1="99.0" x2="104.5" y1="132.9" y2="132.9" stroke="#e02424" stroke-width="1.3"/>
<line x1="99.0" x2="104.5" y1="138.1" y2="138.1" stroke="#e02424" stroke-width="1.3"/>
<line x1="99.0" x2="104.5" y1="143.3" y2="143.3" stroke="#e02424" stroke-width="1.3"/>
<line x1="93.5" x2="104.5" y1="148.6" y2="148.6" stroke="#e02424" stroke-width="2"/>
<text x="77.8" y="155.7" font-family="Liberation Sans, Arial, sans-serif" font-size="20.0" fill="#e02424" text-anchor="end">-2.0</text>
<line x1="99.0" x2="104.5" y1="153.8" y2="153.8" stroke="#e02424" stroke-width="1.3"/>
<line x1="99.0" x2="104.5" y1="159.0" y2="159.0" stroke="#e02424" stroke-width="1.3"/>
<line x1="99.0" x2="104.5" y1="164.2" y2="164.2" stroke="#e02424" stroke-width="1.3"/>
<line x1="99.0" x2="104.5" y1="169.5" y2="169.5" stroke="#e02424" stroke-width="1.3"/>
<line x1="93.5" x2="104.5" y1="174.7" y2="174.7" stroke="#e02424" stroke-width="2"/>
<text x="77.8" y="181.8" font-family="Liberation Sans, Arial, sans-serif" font-size="20.0" fill="#e02424" text-anchor="end">-3.0</text>
<line x1="577.8" x2="588.8" y1="147.1" y2="147.1" stroke="#2c7fb8" stroke-width="2"/>
<text x="602.3" y="154.3" font-family="Liberation Sans, Arial, sans-serif" font-size="20.2" fill="#2c7fb8" text-anchor="start">3.0</text>
<line x1="577.8" x2="583.8" y1="151.6" y2="151.6" stroke="#2c7fb8" stroke-width="1.3"/>
<line x1="577.8" x2="583.8" y1="156.1" y2="156.1" stroke="#2c7fb8" stroke-width="1.3"/>
<line x1="577.8" x2="583.8" y1="160.6" y2="160.6" stroke="#2c7fb8" stroke-width="1.3"/>
<line x1="577.8" x2="583.8" y1="165.1" y2="165.1" stroke="#2c7fb8" stroke-width="1.3"/>
<line x1="577.8" x2="588.8" y1="169.6" y2="169.6" stroke="#2c7fb8" stroke-width="2"/>
<text x="602.3" y="176.9" font-family="Liberation Sans, Arial, sans-serif" font-size="20.2" fill="#2c7fb8" text-anchor="start">2.0</text>
<line x1="577.8" x2="583.8" y1="174.1" y2="174.1" stroke="#2c7fb8" stroke-width="1.3"/>
<line x1="577.8" x2="583.8" y1="178.7" y2="178.7" stroke="#2c7fb8" stroke-width="1.3"/>
<line x1="577.8" x2="583.8" y1="183.2" y2="183.2" stroke="#2c7fb8" stroke-width="1.3"/>
<line x1="577.8" x2="583.8" y1="187.7" y2="187.7" stroke="#2c7fb8" stroke-width="1.3"/>
<line x1="577.8" x2="588.8" y1="192.2" y2="192.2" stroke="#2c7fb8" stroke-width="2"/>
<text x="602.3" y="199.4" font-family="Liberation Sans, Arial, sans-serif" font-size="20.2" fill="#2c7fb8" text-anchor="start">1.0</text>
<line x1="577.8" x2="583.8" y1="196.7" y2="196.7" stroke="#2c7fb8" stroke-width="1.3"/>
<line x1="577.8" x2="583.8" y1="201.2" y2="201.2" stroke="#2c7fb8" stroke-width="1.3"/>
<line x1="577.8" x2="583.8" y1="205.7" y2="205.7" stroke="#2c7fb8" stroke-width="1.3"/>
<line x1="577.8" x2="583.8" y1="210.2" y2="210.2" stroke="#2c7fb8" stroke-width="1.3"/>
<line x1="577.8" x2="588.8" y1="214.7" y2="214.7" stroke="#2c7fb8" stroke-width="2"/>
<text x="602.3" y="221.9" font-family="Liberation Sans, Arial, sans-serif" font-size="20.2" fill="#2c7fb8" text-anchor="start">0.0</text>
<line x1="577.8" x2="583.8" y1="219.2" y2="219.2" stroke="#2c7fb8" stroke-width="1.3"/>
<line x1="577.8" x2="583.8" y1="223.7" y2="223.7" stroke="#2c7fb8" stroke-width="1.3"/>
<line x1="577.8" x2="583.8" y1="228.2" y2="228.2" stroke="#2c7fb8" stroke-width="1.3"/>
<line x1="577.8" x2="583.8" y1="232.7" y2="232.7" stroke="#2c7fb8" stroke-width="1.3"/>
<line x1="577.8" x2="588.8" y1="237.2" y2="237.2" stroke="#2c7fb8" stroke-width="2"/>
<text x="602.3" y="244.5" font-family="Liberation Sans, Arial, sans-serif" font-size="20.2" fill="#2c7fb8" text-anchor="start">-1.0</text>
<line x1="577.8" x2="583.8" y1="241.7" y2="241.7" stroke="#2c7fb8" stroke-width="1.3"/>
<line x1="577.8" x2="583.8" y1="246.2" y2="246.2" stroke="#2c7fb8" stroke-width="1.3"/>
<line x1="577.8" x2="583.8" y1="250.7" y2="250.7" stroke="#2c7fb8" stroke-width="1.3"/>
<line x1="577.8" x2="583.8" y1="255.3" y2="255.3" stroke="#2c7fb8" stroke-width="1.3"/>
<line x1="577.8" x2="588.8" y1="259.8" y2="259.8" stroke="#2c7fb8" stroke-width="2"/>
<text x="602.3" y="267.0" font-family="Liberation Sans, Arial, sans-serif" font-size="20.2" fill="#2c7fb8" text-anchor="start">-2.0</text>
<line x1="577.8" x2="583.8" y1="264.3" y2="264.3" stroke="#2c7fb8" stroke-width="1.3"/>
<line x1="577.8" x2="583.8" y1="268.8" y2="268.8" stroke="#2c7fb8" stroke-width="1.3"/>
<line x1="577.8" x2="583.8" y1="273.3" y2="273.3" stroke="#2c7fb8" stroke-width="1.3"/>
<line x1="577.8" x2="583.8" y1="277.8" y2="277.8" stroke="#2c7fb8" stroke-width="1.3"/>
<line x1="577.8" x2="588.8" y1="282.3" y2="282.3" stroke="#2c7fb8" stroke-width="2"/>
<text x="602.3" y="289.5" font-family="Liberation Sans, Arial, sans-serif" font-size="20.2" fill="#2c7fb8" text-anchor="start">-3.0</text>
<line x1="577.8" x2="583.8" y1="286.8" y2="286.8" stroke="#2c7fb8" stroke-width="1.3"/>
<line x1="577.8" x2="583.8" y1="291.3" y2="291.3" stroke="#2c7fb8" stroke-width="1.3"/>
<line x1="577.8" x2="583.8" y1="295.8" y2="295.8" stroke="#2c7fb8" stroke-width="1.3"/>
<line x1="577.8" x2="583.8" y1="300.3" y2="300.3" stroke="#2c7fb8" stroke-width="1.3"/>
<line x1="577.8" x2="588.8" y1="304.8" y2="304.8" stroke="#2c7fb8" stroke-width="2"/>
<text x="602.3" y="312.1" font-family="Liberation Sans, Arial, sans-serif" font-size="20.2" fill="#2c7fb8" text-anchor="start">-4.0</text>
<line x1="99.0" x2="104.5" y1="260.3" y2="260.3" stroke="#2c7fb8" stroke-width="1.3"/>
<line x1="99.0" x2="104.5" y1="265.1" y2="265.1" stroke="#2c7fb8" stroke-width="1.3"/>
<line x1="93.5" x2="104.5" y1="270.0" y2="270.0" stroke="#2c7fb8" stroke-width="2"/>
<text x="78.6" y="277.1" font-family="Liberation Sans, Arial, sans-serif" font-size="20.0" fill="#2c7fb8" text-anchor="end">3.0</text>
<line x1="99.0" x2="104.5" y1="274.8" y2="274.8" stroke="#2c7fb8" stroke-width="1.3"/>
<line x1="99.0" x2="104.5" y1="279.6" y2="279.6" stroke="#2c7fb8" stroke-width="1.3"/>
<line x1="99.0" x2="104.5" y1="284.4" y2="284.4" stroke="#2c7fb8" stroke-width="1.3"/>
<line x1="99.0" x2="104.5" y1="289.2" y2="289.2" stroke="#2c7fb8" stroke-width="1.3"/>
<line x1="93.5" x2="104.5" y1="294.0" y2="294.0" stroke="#2c7fb8" stroke-width="2"/>
<text x="78.6" y="301.2" font-family="Liberation Sans, Arial, sans-serif" font-size="20.0" fill="#2c7fb8" text-anchor="end">2.0</text>
<line x1="99.0" x2="104.5" y1="298.8" y2="298.8" stroke="#2c7fb8" stroke-width="1.3"/>
<line x1="99.0" x2="104.5" y1="303.6" y2="303.6" stroke="#2c7fb8" stroke-width="1.3"/>
<line x1="99.0" x2="104.5" y1="308.4" y2="308.4" stroke="#2c7fb8" stroke-width="1.3"/>
<line x1="99.0" x2="104.5" y1="313.2" y2="313.2" stroke="#2c7fb8" stroke-width="1.3"/>
<line x1="93.5" x2="104.5" y1="318.1" y2="318.1" stroke="#2c7fb8" stroke-width="2"/>
<text x="78.6" y="325.2" font-family="Liberation Sans, Arial, sans-serif" font-size="20.0" fill="#2c7fb8" text-anchor="end">1.0</text>
<line x1="99.0" x2="104.5" y1="322.9" y2="322.9" stroke="#2c7fb8" stroke-width="1.3"/>
<line x1="99.0" x2="104.5" y1="327.7" y2="327.7" stroke="#2c7fb8" stroke-width="1.3"/>
<line x1="99.0" x2="104.5" y1="332.5" y2="332.5" stroke="#2c7fb8" stroke-width="1.3"/>
<line x1="99.0" x2="104.5" y1="337.3" y2="337.3" stroke="#2c7fb8" stroke-width="1.3"/>
<line x1="93.5" x2="104.5" y1="342.1" y2="342.1" stroke="#2c7fb8" stroke-width="2"/>
<text x="78.6" y="349.3" font-family="Liberation Sans, Arial, sans-serif" font-size="20.0" fill="#2c7fb8" text-anchor="end">0.0</text>
<line x1="99.0" x2="104.5" y1="346.9" y2="346.9" stroke="#2c7fb8" stroke-width="1.3"/>
<line x1="99.0" x2="104.5" y1="351.7" y2="351.7" stroke="#2c7fb8" stroke-width="1.3"/>
<line x1="99.0" x2="104.5" y1="356.5" y2="356.5" stroke="#2c7fb8" stroke-width="1.3"/>
<line x1="99.0" x2="104.5" y1="361.3" y2="361.3" stroke="#2c7fb8" stroke-width="1.3"/>
<line x1="93.5" x2="104.5" y1="366.2" y2="366.2" stroke="#2c7fb8" stroke-width="2"/>
<text x="78.6" y="373.3" font-family="Liberation Sans, Arial, sans-serif" font-size="20.0" fill="#2c7fb8" text-anchor="end">-1.0</text>
<line x1="99.0" x2="104.5" y1="371.0" y2="371.0" stroke="#2c7fb8" stroke-width="1.3"/>
<line x1="99.0" x2="104.5" y1="375.8" y2="375.8" stroke="#2c7fb8" stroke-width="1.3"/>
<line x1="99.0" x2="104.5" y1="380.6" y2="380.6" stroke="#2c7fb8" stroke-width="1.3"/>
<line x1="99.0" x2="104.5" y1="385.4" y2="385.4" stroke="#2c7fb8" stroke-width="1.3"/>
<line x1="93.5" x2="104.5" y1="390.2" y2="390.2" stroke="#2c7fb8" stroke-width="2"/>
<text x="78.6" y="397.4" font-family="Liberation Sans, Arial, sans-serif" font-size="20.0" fill="#2c7fb8" text-anchor="end">-2.0</text>
<line x1="99.0" x2="104.5" y1="395.0" y2="395.0" stroke="#2c7fb8" stroke-width="1.3"/>
<line x1="99.0" x2="104.5" y1="399.8" y2="399.8" stroke="#2c7fb8" stroke-width="1.3"/>
<line x1="99.0" x2="104.5" y1="404.6" y2="404.6" stroke="#2c7fb8" stroke-width="1.3"/>
<line x1="99.0" x2="104.5" y1="409.4" y2="409.4" stroke="#2c7fb8" stroke-width="1.3"/>
<line x1="93.5" x2="104.5" y1="414.2" y2="414.2" stroke="#2c7fb8" stroke-width="2"/>
<text x="78.6" y="421.4" font-family="Liberation Sans, Arial, sans-serif" font-size="20.0" fill="#2c7fb8" text-anchor="end">-3.0</text>
<line x1="577.8" x2="588.8" y1="384.3" y2="384.3" stroke="#2c7fb8" stroke-width="2"/>
<text x="602.3" y="391.5" font-family="Liberation Sans, Arial, sans-serif" font-size="20.2" fill="#2c7fb8" text-anchor="start">3.0</text>
<line x1="577.8" x2="583.8" y1="388.8" y2="388.8" stroke="#2c7fb8" stroke-width="1.3"/>
<line x1="577.8" x2="583.8" y1="393.3" y2="393.3" stroke="#2c7fb8" stroke-width="1.3"/>
<line x1="577.8" x2="583.8" y1="397.9" y2="397.9" stroke="#2c7fb8" stroke-width="1.3"/>
<line x1="577.8" x2="583.8" y1="402.4" y2="402.4" stroke="#2c7fb8" stroke-width="1.3"/>
<line x1="577.8" x2="588.8" y1="406.9" y2="406.9" stroke="#2c7fb8" stroke-width="2"/>
<text x="602.3" y="414.1" font-family="Liberation Sans, Arial, sans-serif" font-size="20.2" fill="#2c7fb8" text-anchor="start">2.0</text>
<line x1="577.8" x2="583.8" y1="411.4" y2="411.4" stroke="#2c7fb8" stroke-width="1.3"/>
<line x1="577.8" x2="583.8" y1="415.9" y2="415.9" stroke="#2c7fb8" stroke-width="1.3"/>
<line x1="577.8" x2="583.8" y1="420.5" y2="420.5" stroke="#2c7fb8" stroke-width="1.3"/>
<line x1="577.8" x2="583.8" y1="425.0" y2="425.0" stroke="#2c7fb8" stroke-width="1.3"/>
<line x1="577.8" x2="588.8" y1="429.5" y2="429.5" stroke="#2c7fb8" stroke-width="2"/>
<text x="602.3" y="436.7" font-family="Liberation Sans, Arial, sans-serif" font-size="20.2" fill="#2c7fb8" text-anchor="start">1.0</text>
<line x1="577.8" x2="583.8" y1="434.0" y2="434.0" stroke="#2c7fb8" stroke-width="1.3"/>
<line x1="577.8" x2="583.8" y1="438.5" y2="438.5" stroke="#2c7fb8" stroke-width="1.3"/>
<line x1="577.8" x2="583.8" y1="443.1" y2="443.1" stroke="#2c7fb8" stroke-width="1.3"/>
<line x1="577.8" x2="583.8" y1="447.6" y2="447.6" stroke="#2c7fb8" stroke-width="1.3"/>
<line x1="577.8" x2="588.8" y1="452.1" y2="452.1" stroke="#2c7fb8" stroke-width="2"/>
<text x="602.3" y="459.3" font-family="Liberation Sans, Arial, sans-serif" font-size="20.2" fill="#2c7fb8" text-anchor="start">0.0</text>
<line x1="577.8" x2="583.8" y1="456.6" y2="456.6" stroke="#2c7fb8" stroke-width="1.3"/>
<line x1="577.8" x2="583.8" y1="461.1" y2="461.1" stroke="#2c7fb8" stroke-width="1.3"/>
<line x1="577.8" x2="583.8" y1="465.7" y2="465.7" stroke="#2c7fb8" stroke-width="1.3"/>
<line x1="577.8" x2="583.8" y1="470.2" y2="470.2" stroke="#2c7fb8" stroke-width="1.3"/>
<line x1="577.8" x2="588.8" y1="474.7" y2="474.7" stroke="#2c7fb8" stroke-width="2"/>
<text x="602.3" y="481.9" font-family="Liberation Sans, Arial, sans-serif" font-size="20.2" fill="#2c7fb8" text-anchor="start">-1.0</text>
<line x1="577.8" x2="583.8" y1="479.2" y2="479.2" stroke="#2c7fb8" stroke-width="1.3"/>
<line x1="577.8" x2="583.8" y1="483.7" y2="483.7" stroke="#2c7fb8" stroke-width="1.3"/>
<line x1="577.8" x2="583.8" y1="488.3" y2="488.3" stroke="#2c7fb8" stroke-width="1.3"/>
<line x1="577.8" x2="583.8" y1="492.8" y2="492.8" stroke="#2c7fb8" stroke-width="1.3"/>
<line x1="577.8" x2="588.8" y1="497.3" y2="497.3" stroke="#2c7fb8" stroke-width="2"/>
<text x="602.3" y="504.5" font-family="Liberation Sans, Arial, sans-serif" font-size="20.2" fill="#2c7fb8" text-anchor="start">-2.0</text>
<line x1="577.8" x2="583.8" y1="501.8" y2="501.8" stroke="#2c7fb8" stroke-width="1.3"/>
<line x1="577.8" x2="583.8" y1="506.3" y2="506.3" stroke="#2c7fb8" stroke-width="1.3"/>
<line x1="577.8" x2="583.8" y1="510.9" y2="510.9" stroke="#2c7fb8" stroke-width="1.3"/>
<line x1="577.8" x2="583.8" y1="515.4" y2="515.4" stroke="#2c7fb8" stroke-width="1.3"/>
<line x1="577.8" x2="588.8" y1="519.9" y2="519.9" stroke="#2c7fb8" stroke-width="2"/>
<text x="602.3" y="527.1" font-family="Liberation Sans, Arial, sans-serif" font-size="20.2" fill="#2c7fb8" text-anchor="start">-3.0</text>
<line x1="577.8" x2="583.8" y1="524.4" y2="524.4" stroke="#2c7fb8" stroke-width="1.3"/>
<line x1="577.8" x2="583.8" y1="528.9" y2="528.9" stroke="#2c7fb8" stroke-width="1.3"/>
<line x1="577.8" x2="583.8" y1="533.5" y2="533.5" stroke="#2c7fb8" stroke-width="1.3"/>
<line x1="577.8" x2="583.8" y1="538.0" y2="538.0" stroke="#2c7fb8" stroke-width="1.3"/>
<line x1="577.8" x2="588.8" y1="542.5" y2="542.5" stroke="#2c7fb8" stroke-width="2"/>
<text x="602.3" y="549.7" font-family="Liberation Sans, Arial, sans-serif" font-size="20.2" fill="#2c7fb8" text-anchor="start">-4.0</text>
<line x1="94.0" x2="104.5" y1="629.0" y2="629.0" stroke="#e02424" stroke-width="2"/>
<text x="82" y="635.4" font-family="Liberation Sans, Arial, sans-serif" font-size="18" fill="#e02424" text-anchor="end">0</text>
<line x1="100.0" x2="104.5" y1="626.4" y2="626.4" stroke="#e02424" stroke-width="1.2"/>
<line x1="100.0" x2="104.5" y1="623.8" y2="623.8" stroke="#e02424" stroke-width="1.2"/>
<line x1="100.0" x2="104.5" y1="621.2" y2="621.2" stroke="#e02424" stroke-width="1.2"/>
<line x1="100.0" x2="104.5" y1="618.6" y2="618.6" stroke="#e02424" stroke-width="1.2"/>
<line x1="94.0" x2="104.5" y1="616.0" y2="616.0" stroke="#e02424" stroke-width="2"/>
<text x="82" y="622.4" font-family="Liberation Sans, Arial, sans-serif" font-size="18" fill="#e02424" text-anchor="end">50</text>
<line x1="100.0" x2="104.5" y1="613.4" y2="613.4" stroke="#e02424" stroke-width="1.2"/>
<line x1="100.0" x2="104.5" y1="610.8" y2="610.8" stroke="#e02424" stroke-width="1.2"/>
<line x1="100.0" x2="104.5" y1="608.2" y2="608.2" stroke="#e02424" stroke-width="1.2"/>
<line x1="100.0" x2="104.5" y1="605.7" y2="605.7" stroke="#e02424" stroke-width="1.2"/>
<line x1="94.0" x2="104.5" y1="603.1" y2="603.1" stroke="#e02424" stroke-width="2"/>
<text x="82" y="609.5" font-family="Liberation Sans, Arial, sans-serif" font-size="18" fill="#e02424" text-anchor="end">100</text>
<line x1="100.0" x2="104.5" y1="600.5" y2="600.5" stroke="#e02424" stroke-width="1.2"/>
<line x1="100.0" x2="104.5" y1="597.9" y2="597.9" stroke="#e02424" stroke-width="1.2"/>
<line x1="100.0" x2="104.5" y1="595.3" y2="595.3" stroke="#e02424" stroke-width="1.2"/>
<line x1="100.0" x2="104.5" y1="592.7" y2="592.7" stroke="#e02424" stroke-width="1.2"/>
<line x1="94.0" x2="104.5" y1="590.1" y2="590.1" stroke="#e02424" stroke-width="2"/>
<text x="82" y="596.5" font-family="Liberation Sans, Arial, sans-serif" font-size="18" fill="#e02424" text-anchor="end">150</text>
<line x1="100.0" x2="104.5" y1="587.5" y2="587.5" stroke="#e02424" stroke-width="1.2"/>
<line x1="100.0" x2="104.5" y1="584.9" y2="584.9" stroke="#e02424" stroke-width="1.2"/>
<line x1="100.0" x2="104.5" y1="582.3" y2="582.3" stroke="#e02424" stroke-width="1.2"/>
<line x1="100.0" x2="104.5" y1="579.7" y2="579.7" stroke="#e02424" stroke-width="1.2"/>
<line x1="94.0" x2="104.5" y1="577.1" y2="577.1" stroke="#e02424" stroke-width="2"/>
<text x="82" y="583.5" font-family="Liberation Sans, Arial, sans-serif" font-size="18" fill="#e02424" text-anchor="end">200</text>
<line x1="100.0" x2="104.5" y1="574.5" y2="574.5" stroke="#e02424" stroke-width="1.2"/>
<line x1="100.0" x2="104.5" y1="571.9" y2="571.9" stroke="#e02424" stroke-width="1.2"/>
<line x1="100.0" x2="104.5" y1="569.3" y2="569.3" stroke="#e02424" stroke-width="1.2"/>
<line x1="100.0" x2="104.5" y1="566.7" y2="566.7" stroke="#e02424" stroke-width="1.2"/>
<line x1="94.0" x2="104.5" y1="564.1" y2="564.1" stroke="#e02424" stroke-width="2"/>
<text x="82" y="570.5" font-family="Liberation Sans, Arial, sans-serif" font-size="18" fill="#e02424" text-anchor="end">250</text>
<line x1="100.0" x2="104.5" y1="561.6" y2="561.6" stroke="#e02424" stroke-width="1.2"/>
<line x1="100.0" x2="104.5" y1="559.0" y2="559.0" stroke="#e02424" stroke-width="1.2"/>
<line x1="100.0" x2="104.5" y1="556.4" y2="556.4" stroke="#e02424" stroke-width="1.2"/>
<line x1="100.0" x2="104.5" y1="553.8" y2="553.8" stroke="#e02424" stroke-width="1.2"/>
<line x1="94.0" x2="104.5" y1="551.2" y2="551.2" stroke="#e02424" stroke-width="2"/>
<text x="82" y="557.6" font-family="Liberation Sans, Arial, sans-serif" font-size="18" fill="#e02424" text-anchor="end">300</text>
<line x1="100.0" x2="104.5" y1="548.6" y2="548.6" stroke="#e02424" stroke-width="1.2"/>
<line x1="100.0" x2="104.5" y1="546.0" y2="546.0" stroke="#e02424" stroke-width="1.2"/>
<line x1="100.0" x2="104.5" y1="543.4" y2="543.4" stroke="#e02424" stroke-width="1.2"/>
<line x1="100.0" x2="104.5" y1="540.8" y2="540.8" stroke="#e02424" stroke-width="1.2"/>
<line x1="94.0" x2="104.5" y1="538.2" y2="538.2" stroke="#e02424" stroke-width="2"/>
<text x="82" y="544.6" font-family="Liberation Sans, Arial, sans-serif" font-size="18" fill="#e02424" text-anchor="end">350</text>
<text transform="translate(41,577) rotate(-90)" font-family="Liberation Sans, Arial, sans-serif" font-size="18.6" fill="#e02424" text-anchor="middle">Volcanic mass(Tg)</text>
<line x1="105.5" x2="105.5" y1="629.0" y2="639.0" stroke="#000" stroke-width="2"/>
<text x="105.5" y="665.7" font-family="Liberation Sans, Arial, sans-serif" font-size="17.8" fill="#000" text-anchor="middle">1000</text>
<line x1="129.1" x2="129.1" y1="629.0" y2="634.5" stroke="#000" stroke-width="1.3"/>
<line x1="152.7" x2="152.7" y1="629.0" y2="634.5" stroke="#000" stroke-width="1.3"/>
<line x1="176.3" x2="176.3" y1="629.0" y2="634.5" stroke="#000" stroke-width="1.3"/>
<line x1="200.0" x2="200.0" y1="629.0" y2="639.0" stroke="#000" stroke-width="2"/>
<text x="200.0" y="665.7" font-family="Liberation Sans, Arial, sans-serif" font-size="17.8" fill="#000" text-anchor="middle">1200</text>
<line x1="223.6" x2="223.6" y1="629.0" y2="634.5" stroke="#000" stroke-width="1.3"/>
<line x1="247.2" x2="247.2" y1="629.0" y2="634.5" stroke="#000" stroke-width="1.3"/>
<line x1="270.8" x2="270.8" y1="629.0" y2="634.5" stroke="#000" stroke-width="1.3"/>
<line x1="294.4" x2="294.4" y1="629.0" y2="639.0" stroke="#000" stroke-width="2"/>
<text x="294.4" y="665.7" font-family="Liberation Sans, Arial, sans-serif" font-size="17.8" fill="#000" text-anchor="middle">1400</text>
<line x1="318.0" x2="318.0" y1="629.0" y2="634.5" stroke="#000" stroke-width="1.3"/>
<line x1="341.6" x2="341.6" y1="629.0" y2="634.5" stroke="#000" stroke-width="1.3"/>
<line x1="365.3" x2="365.3" y1="629.0" y2="634.5" stroke="#000" stroke-width="1.3"/>
<line x1="388.9" x2="388.9" y1="629.0" y2="639.0" stroke="#000" stroke-width="2"/>
<text x="388.9" y="665.7" font-family="Liberation Sans, Arial, sans-serif" font-size="17.8" fill="#000" text-anchor="middle">1600</text>
<line x1="412.5" x2="412.5" y1="629.0" y2="634.5" stroke="#000" stroke-width="1.3"/>
<line x1="436.1" x2="436.1" y1="629.0" y2="634.5" stroke="#000" stroke-width="1.3"/>
<line x1="459.7" x2="459.7" y1="629.0" y2="634.5" stroke="#000" stroke-width="1.3"/>
<line x1="483.3" x2="483.3" y1="629.0" y2="639.0" stroke="#000" stroke-width="2"/>
<text x="483.3" y="665.7" font-family="Liberation Sans, Arial, sans-serif" font-size="17.8" fill="#000" text-anchor="middle">1800</text>
<line x1="507.0" x2="507.0" y1="629.0" y2="634.5" stroke="#000" stroke-width="1.3"/>
<line x1="530.6" x2="530.6" y1="629.0" y2="634.5" stroke="#000" stroke-width="1.3"/>
<line x1="554.2" x2="554.2" y1="629.0" y2="634.5" stroke="#000" stroke-width="1.3"/>
<line x1="577.8" x2="577.8" y1="629.0" y2="639.0" stroke="#000" stroke-width="2"/>
<text x="577.8" y="665.7" font-family="Liberation Sans, Arial, sans-serif" font-size="17.8" fill="#000" text-anchor="middle">2000</text>
<text x="108.5" y="37.6" font-family="Liberation Sans, Arial, sans-serif" font-size="18.3" fill="#0000cd">a)d<tspan font-size="11.5" dy="-7.5">18</tspan><tspan dy="7.5">O</tspan>-based PDV reconstruction</text>
<text x="108.5" y="152.6" font-family="Liberation Sans, Arial, sans-serif" font-size="18.3" fill="#0000cd">b)d<tspan font-size="11.5" dy="-7.5">18</tspan><tspan dy="7.5">O</tspan><tspan font-size="11.5" dy="4">vp</tspan><tspan dy="-4">-based PDV (iCESM 001)</tspan></text>
<text x="108.5" y="275.4" font-family="Liberation Sans, Arial, sans-serif" font-size="18.3" fill="#0000cd">c)d<tspan font-size="11.5" dy="-7.5">18</tspan><tspan dy="7.5">O</tspan><tspan font-size="11.5" dy="4">vp</tspan><tspan dy="-4">-based PDV (iCESM 002)</tspan></text>
<text x="108.5" y="389.0" font-family="Liberation Sans, Arial, sans-serif" font-size="18.3" fill="#0000cd">d)d<tspan font-size="11.5" dy="-7.5">18</tspan><tspan dy="7.5">O</tspan><tspan font-size="11.5" dy="4">vp</tspan><tspan dy="-4">-based PDV (iCESM 003)</tspan></text>
<text x="110.5" y="556" font-family="Liberation Sans, Arial, sans-serif" font-size="19.05" fill="#0000cd">Volcanic mass (Gao et al. 2008)</text>
<defs>
<filter id="cm" filterUnits="userSpaceOnUse" x="700" y="0" width="320" height="716" color-interpolation-filters="sRGB"><feGaussianBlur stdDeviation="2.8"/><feComponentTransfer><feFuncR type="table" tableValues="1.000 0.851 0.690 0.537 0.373 0.255 0.227 0.310 0.608 0.937 0.973 0.965 0.925 0.886 0.831 0.733 0.639 0.639 0.639 0.639"/><feFuncG type="table" tableValues="1.000 0.925 0.851 0.753 0.624 0.537 0.620 0.682 0.796 0.890 0.729 0.549 0.380 0.235 0.125 0.110 0.078 0.078 0.078 0.078"/><feFuncB type="table" tableValues="1.000 0.976 0.961 0.925 0.839 0.729 0.463 0.290 0.286 0.310 0.294 0.188 0.169 0.169 0.153 0.137 0.098 0.098 0.098 0.098"/></feComponentTransfer></filter>
<filter id="bl2" filterUnits="userSpaceOnUse" x="700" y="0" width="320" height="716" color-interpolation-filters="sRGB"><feGaussianBlur stdDeviation="1.6"/></filter>
<filter id="bl" filterUnits="userSpaceOnUse" x="700" y="0" width="320" height="716" color-interpolation-filters="sRGB"><feGaussianBlur stdDeviation="3"/></filter>
<clipPath id="cpe"><rect x="718.4" y="17.8" width="282.6" height="132.6"/></clipPath>
<clipPath id="cpf"><rect x="718.4" y="181.5" width="282.8" height="132.9"/></clipPath>
<clipPath id="cpg"><rect x="718.4" y="344.9" width="282.8" height="132.9"/></clipPath>
<clipPath id="cph"><rect x="717.8" y="507.8" width="278.8" height="131.0"/></clipPath>
</defs>
<defs><clipPath id="cse"><rect x="1001.0" y="17.8" width="133.4" height="132.6"/></clipPath><clipPath id="csf"><rect x="1001.2" y="181.5" width="133.2" height="132.9"/></clipPath><clipPath id="csg"><rect x="1001.2" y="344.9" width="133.4" height="132.9"/></clipPath><clipPath id="csh"><rect x="996.6" y="507.8" width="131.3" height="131.0"/></clipPath></defs>
<g clip-path="url(#cpe)">
<g filter="url(#cm)">
<rect x="703.4" y="2.8" width="312.6" height="162.6" fill="#000000"/>
<g filter="url(#bl)">
<rect x="703.4" y="2.8" width="312.6" height="162.6" fill="#000000"/>
<ellipse cx="740.0" cy="70.0" rx="24.0" ry="26.0" fill="#212121"/>
<ellipse cx="790.0" cy="62.0" rx="16.0" ry="20.0" fill="#212121"/>
<ellipse cx="838.0" cy="59.0" rx="36.0" ry="12.0" fill="#212121"/>
<ellipse cx="823.0" cy="84.0" rx="6.0" ry="14.0" fill="#343434"/>
<ellipse cx="905.0" cy="60.0" rx="50.0" ry="20.0" fill="#212121"/>
<ellipse cx="975.0" cy="62.0" rx="24.0" ry="26.0" fill="#212121"/>
<ellipse cx="900.0" cy="88.0" rx="40.0" ry="12.0" fill="#212121"/>
<ellipse cx="819.0" cy="62.0" rx="5.0" ry="7.0" fill="#343434"/>
<ellipse cx="841.0" cy="60.0" rx="5.0" ry="6.0" fill="#343434"/>
<ellipse cx="862.0" cy="60.0" rx="5.0" ry="6.0" fill="#343434"/>
<ellipse cx="885.0" cy="50.0" rx="8.0" ry="6.0" fill="#343434"/>
<ellipse cx="912.0" cy="52.0" rx="8.0" ry="6.0" fill="#343434"/>
<ellipse cx="940.0" cy="50.0" rx="8.0" ry="6.0" fill="#343434"/>
<ellipse cx="760.0" cy="55.0" rx="6.0" ry="8.0" fill="#303030"/>
<ellipse cx="785.0" cy="112.0" rx="18.0" ry="12.0" fill="#1d1d1d"/>
<ellipse cx="855.0" cy="104.0" rx="16.0" ry="7.0" fill="#2b2b2b"/>
<ellipse cx="900.0" cy="112.0" rx="30.0" ry="10.0" fill="#1d1d1d"/>
<ellipse cx="985.0" cy="110.0" rx="16.0" ry="14.0" fill="#2b2b2b"/>
<ellipse cx="845.0" cy="88.0" rx="8.0" ry="8.0" fill="#1d1d1d"/>
<ellipse cx="760.0" cy="127.0" rx="30.0" ry="5.0" fill="#444444"/>
<ellipse cx="930.0" cy="140.0" rx="32.0" ry="9.0" fill="#212121"/>
<ellipse cx="985.0" cy="140.0" rx="20.0" ry="10.0" fill="#444444"/>
<ellipse cx="815.0" cy="140.0" rx="22.0" ry="8.0" fill="#181818"/>
<ellipse cx="722.0" cy="105.0" rx="6.0" ry="30.0" fill="#444444"/>
<ellipse cx="858.0" cy="80.0" rx="14.0" ry="9.0" fill="#000000"/>
<ellipse cx="976.0" cy="77.0" rx="5.0" ry="5.0" fill="#000000"/>
<ellipse cx="838.0" cy="140.0" rx="22.0" ry="5.0" fill="#0a0a0a"/>
<ellipse cx="905.0" cy="100.0" rx="14.0" ry="5.0" fill="#0a0a0a"/>
</g>
<g filter="url(#bl2)">
<ellipse cx="745.0" cy="126.0" rx="28.5" ry="9.0" fill="#3e3e3e"/>
<ellipse cx="744.0" cy="76.6" rx="8.5" ry="9.5" fill="#3e3e3e"/>
<ellipse cx="860.7" cy="94.0" rx="8.5" ry="7.5" fill="#3e3e3e"/>
<ellipse cx="724.0" cy="92.5" rx="11.5" ry="13.0" fill="#3e3e3e"/>
<polyline points="729.0,94.0 766.0,94.0 767.0,104.0 758.0,116.0 748.0,121.0 738.0,119.0 731.0,110.0 729.0,94.0" fill="none" stroke="#3e3e3e" stroke-width="18.0" stroke-linecap="round" stroke-linejoin="round"/>
<ellipse cx="791.0" cy="84.5" rx="18.0" ry="17.0" fill="#3e3e3e"/>
<ellipse cx="790.0" cy="76.0" rx="13.0" ry="12.0" fill="#3e3e3e"/>
<polyline points="850.0,124.0 868.0,130.0 885.0,135.5 900.0,141.0" fill="none" stroke="#3e3e3e" stroke-width="23.5" stroke-linecap="round" stroke-linejoin="round"/>
<polyline points="810.0,97.0 822.0,94.0 832.0,98.0 836.0,110.0 846.0,118.0 856.0,123.0 858.0,128.0 848.0,127.0 838.0,124.0 822.0,120.0 812.0,112.0 810.0,97.0" fill="none" stroke="#3e3e3e" stroke-width="18.0" stroke-linecap="round" stroke-linejoin="round"/>
<ellipse cx="985.0" cy="138.0" rx="26.5" ry="11.5" fill="#3e3e3e"/>
<ellipse cx="992.0" cy="137.0" rx="12.5" ry="7.5" fill="#3e3e3e"/>
<polyline points="716.0,132.0 740.0,132.0 765.0,138.0 790.0,146.0 797.0,153.0 716.0,153.0 716.0,132.0" fill="none" stroke="#3e3e3e" stroke-width="18.0" stroke-linecap="round" stroke-linejoin="round"/>
<polyline points="859.0,96.0 872.0,86.0 886.0,75.0" fill="none" stroke="#3e3e3e" stroke-width="14.0" stroke-linecap="round" stroke-linejoin="round"/>
<polyline points="862.0,94.0 874.0,85.0 884.0,77.0" fill="none" stroke="#3e3e3e" stroke-width="11.0" stroke-linecap="round" stroke-linejoin="round"/>
<ellipse cx="919.5" cy="86.4" rx="18.5" ry="12.5" fill="#3e3e3e" transform="rotate(-25 919.5 86.4)"/>
<ellipse cx="919.5" cy="86.4" rx="13.0" ry="10.5" fill="#3e3e3e" transform="rotate(-25 919.5 86.4)"/>
<ellipse cx="950.0" cy="66.0" rx="7.0" ry="14.5" fill="#3e3e3e"/>
<polyline points="944.0,80.0 951.0,76.0 955.0,84.0 958.0,96.0 968.0,100.0 971.0,110.0 966.0,118.0 952.0,121.0 938.0,118.0 933.0,106.0 936.0,94.0 941.0,88.0 944.0,80.0" fill="none" stroke="#3e3e3e" stroke-width="18.0" stroke-linecap="round" stroke-linejoin="round"/>
<ellipse cx="986.0" cy="80.5" rx="14.0" ry="16.5" fill="#3e3e3e" transform="rotate(15 986.0 80.5)"/>
<ellipse cx="724.0" cy="92.5" rx="8.0" ry="9.5" fill="#6b6b6b"/>
<polyline points="729.0,94.0 766.0,94.0 767.0,104.0 758.0,116.0 748.0,121.0 738.0,119.0 731.0,110.0 729.0,94.0" fill="none" stroke="#6b6b6b" stroke-width="11.0" stroke-linecap="round" stroke-linejoin="round"/>
<ellipse cx="791.0" cy="84.5" rx="14.5" ry="13.5" fill="#6b6b6b"/>
<ellipse cx="790.0" cy="76.0" rx="9.5" ry="8.5" fill="#6b6b6b"/>
<polyline points="850.0,124.0 868.0,130.0 885.0,135.5 900.0,141.0" fill="none" stroke="#6b6b6b" stroke-width="16.5" stroke-linecap="round" stroke-linejoin="round"/>
<polyline points="810.0,97.0 822.0,94.0 832.0,98.0 836.0,110.0 846.0,118.0 856.0,123.0 858.0,128.0 848.0,127.0 838.0,124.0 822.0,120.0 812.0,112.0 810.0,97.0" fill="none" stroke="#6b6b6b" stroke-width="11.0" stroke-linecap="round" stroke-linejoin="round"/>
<polyline points="716.0,132.0 740.0,132.0 765.0,138.0 790.0,146.0 797.0,153.0 716.0,153.0 716.0,132.0" fill="none" stroke="#6b6b6b" stroke-width="11.0" stroke-linecap="round" stroke-linejoin="round"/>
<ellipse cx="919.5" cy="86.4" rx="15.0" ry="9.0" fill="#6b6b6b" transform="rotate(-25 919.5 86.4)"/>
<ellipse cx="919.5" cy="86.4" rx="9.5" ry="7.0" fill="#6b6b6b" transform="rotate(-25 919.5 86.4)"/>
<polyline points="944.0,80.0 951.0,76.0 955.0,84.0 958.0,96.0 968.0,100.0 971.0,110.0 966.0,118.0 952.0,121.0 938.0,118.0 933.0,106.0 936.0,94.0 941.0,88.0 944.0,80.0" fill="none" stroke="#6b6b6b" stroke-width="11.0" stroke-linecap="round" stroke-linejoin="round"/>
<ellipse cx="986.0" cy="80.5" rx="10.5" ry="13.0" fill="#6b6b6b" transform="rotate(15 986.0 80.5)"/>
</g>
<ellipse cx="740.0" cy="82.0" rx="16.0" ry="9.0" fill="#575757"/>
<ellipse cx="770.0" cy="82.0" rx="8.0" ry="8.0" fill="#444444"/>
<ellipse cx="745.0" cy="126.0" rx="24.0" ry="4.5" fill="#969696"/>
<ellipse cx="724.0" cy="112.0" rx="5.0" ry="14.0" fill="#787878"/>
<ellipse cx="968.0" cy="78.0" rx="8.0" ry="14.0" fill="#4a4a4a"/>
<ellipse cx="898.0" cy="66.0" rx="3.0" ry="8.0" fill="#808080"/>
<ellipse cx="744.0" cy="76.6" rx="4.0" ry="5.0" fill="#a9a9a9"/>
<ellipse cx="792.0" cy="61.0" rx="2.5" ry="8.0" fill="#767676"/>
<ellipse cx="821.6" cy="80.0" rx="2.8" ry="10.0" fill="#9e9e9e"/>
<ellipse cx="860.7" cy="94.0" rx="4.0" ry="3.0" fill="#b2b2b2"/>
<ellipse cx="890.0" cy="56.0" rx="2.5" ry="8.0" fill="#767676"/>
<ellipse cx="955.0" cy="58.0" rx="2.5" ry="8.0" fill="#767676"/>
<ellipse cx="983.0" cy="55.0" rx="2.5" ry="12.0" fill="#8a8a8a"/>
<ellipse cx="724.0" cy="92.0" rx="5.0" ry="18.0" fill="#696969"/>
<ellipse cx="724.0" cy="92.5" rx="3.5" ry="5.0" fill="#ffffff"/>
<polygon points="729.0,94.0 766.0,94.0 767.0,104.0 758.0,116.0 748.0,121.0 738.0,119.0 731.0,110.0" fill="#ffffff"/>
<ellipse cx="791.0" cy="84.5" rx="10.0" ry="9.0" fill="#ffffff"/>
<ellipse cx="790.0" cy="76.0" rx="5.0" ry="4.0" fill="#ffffff"/>
<polyline points="850.0,124.0 868.0,130.0 885.0,135.5 900.0,141.0" fill="none" stroke="#dbdbdb" stroke-width="7.5" stroke-linecap="round" stroke-linejoin="round"/>
<polygon points="810.0,97.0 822.0,94.0 832.0,98.0 836.0,110.0 846.0,118.0 856.0,123.0 858.0,128.0 848.0,127.0 838.0,124.0 822.0,120.0 812.0,112.0" fill="#ffffff"/>
<ellipse cx="985.0" cy="138.0" rx="22.0" ry="7.0" fill="#7c7c7c"/>
<ellipse cx="992.0" cy="137.0" rx="8.0" ry="3.0" fill="#cfcfcf"/>
<polygon points="716.0,132.0 740.0,132.0 765.0,138.0 790.0,146.0 797.0,153.0 716.0,153.0" fill="#ffffff"/>
<polyline points="859.0,96.0 872.0,86.0 886.0,75.0" fill="none" stroke="#c5c5c5" stroke-width="5.0" stroke-linecap="round" stroke-linejoin="round"/>
<polyline points="862.0,94.0 874.0,85.0 884.0,77.0" fill="none" stroke="#c5c5c5" stroke-width="2.0" stroke-linecap="round" stroke-linejoin="round"/>
<ellipse cx="919.5" cy="86.4" rx="10.5" ry="4.5" fill="#d2d2d2" transform="rotate(-25 919.5 86.4)"/>
<ellipse cx="919.5" cy="86.4" rx="5.0" ry="2.5" fill="#ffffff" transform="rotate(-25 919.5 86.4)"/>
<ellipse cx="950.0" cy="66.0" rx="2.5" ry="10.0" fill="#b2b2b2"/>
<polygon points="944.0,80.0 951.0,76.0 955.0,84.0 958.0,96.0 968.0,100.0 971.0,110.0 966.0,118.0 952.0,121.0 938.0,118.0 933.0,106.0 936.0,94.0 941.0,88.0" fill="#ffffff"/>
<ellipse cx="986.0" cy="80.5" rx="6.0" ry="8.5" fill="#d0d0d0" transform="rotate(15 986.0 80.5)"/>
</g>
<g stroke="#1a1a1a" stroke-width="0.9">
<line x1="760.8" x2="760.8" y1="17.8" y2="150.4"/>
<line x1="803.2" x2="803.2" y1="17.8" y2="150.4"/>
<line x1="760.8" y1="4.7" x2="803.2" y2="22.1"/>
<line x1="760.8" y1="18.6" x2="803.2" y2="36.0"/>
<line x1="760.8" y1="32.5" x2="803.2" y2="49.9"/>
<line x1="760.8" y1="46.4" x2="803.2" y2="63.8"/>
<line x1="760.8" y1="60.3" x2="803.2" y2="77.7"/>
<line x1="760.8" y1="74.2" x2="803.2" y2="91.6"/>
<line x1="760.8" y1="88.1" x2="803.2" y2="105.5"/>
<line x1="760.8" y1="102.0" x2="803.2" y2="119.4"/>
<line x1="760.8" y1="115.9" x2="803.2" y2="133.3"/>
<line x1="760.8" y1="129.8" x2="803.2" y2="147.2"/>
<line x1="760.8" y1="143.7" x2="803.2" y2="161.1"/>
</g>
<g stroke="#1a1a1a" stroke-width="0.9">
<line x1="873.8" x2="873.8" y1="17.8" y2="150.4"/>
<line x1="958.6" x2="958.6" y1="17.8" y2="150.4"/>
<line x1="873.8" y1="-5.3" x2="958.6" y2="29.5"/>
<line x1="873.8" y1="8.6" x2="958.6" y2="43.4"/>
<line x1="873.8" y1="22.5" x2="958.6" y2="57.3"/>
<line x1="873.8" y1="36.4" x2="958.6" y2="71.2"/>
<line x1="873.8" y1="50.3" x2="958.6" y2="85.1"/>
<line x1="873.8" y1="64.2" x2="958.6" y2="99.0"/>
<line x1="873.8" y1="78.1" x2="958.6" y2="112.9"/>
<line x1="873.8" y1="92.0" x2="958.6" y2="126.8"/>
<line x1="873.8" y1="105.9" x2="958.6" y2="140.7"/>
<line x1="873.8" y1="119.8" x2="958.6" y2="154.6"/>
<line x1="873.8" y1="133.7" x2="958.6" y2="168.5"/>
<line x1="873.8" y1="147.6" x2="958.6" y2="182.4"/>
</g>
<polyline points="718.9,17.8 720.0,27.8 721.2,37.4 722.6,48.8 724.2,59.9 726.5,71.8 729.3,82.3 732.2,92.8 735.5,102.7 739.2,112.8 743.6,123.1 747.9,131.3 752.8,139.4 756.7,145.3 761.0,150.8 762.4,152.8" fill="none" stroke="#5a5a5a" stroke-width="1.9"/>
<polyline points="1000.5,17.8 999.4,27.8 998.2,37.4 996.8,48.8 995.2,59.9 992.9,71.8 990.1,82.3 987.2,92.8 983.9,102.7 980.2,112.8 975.8,123.1 971.5,131.3 966.6,139.4 962.7,145.3 958.4,150.8 957.0,152.8" fill="none" stroke="#5a5a5a" stroke-width="1.9"/>
<line x1="719.1" y1="84.3" x2="733.4" y2="109.2" stroke="#555" stroke-width="1.1"/>
<line x1="719.1" y1="119.0" x2="733.4" y2="109.2" stroke="#555" stroke-width="1.1"/>
<line x1="719.1" y1="140.4" x2="728.3" y2="153.7" stroke="#555" stroke-width="1.1"/>
<line x1="750.8" y1="153.7" x2="760.6" y2="140.4" stroke="#555" stroke-width="1.1"/>
<line x1="733.4" y1="109.2" x2="740.4" y2="116.8" stroke="#555" stroke-width="1.1"/>
<line x1="1000.3" y1="84.3" x2="986.0" y2="109.2" stroke="#555" stroke-width="1.1"/>
<line x1="1000.3" y1="119.0" x2="986.0" y2="109.2" stroke="#555" stroke-width="1.1"/>
<line x1="1000.3" y1="140.4" x2="991.1" y2="153.7" stroke="#555" stroke-width="1.1"/>
<line x1="968.6" y1="153.7" x2="958.8" y2="140.4" stroke="#555" stroke-width="1.1"/>
<line x1="986.0" y1="109.2" x2="979.0" y2="116.8" stroke="#555" stroke-width="1.1"/>
<g fill="#111">
<circle cx="887.0" cy="40.4" r="1.15"/>
<circle cx="896.8" cy="40.4" r="1.15"/>
<circle cx="906.6" cy="40.4" r="1.15"/>
<circle cx="916.4" cy="40.4" r="1.15"/>
<circle cx="985.0" cy="40.4" r="1.15"/>
<circle cx="784.1" cy="45.3" r="1.15"/>
<circle cx="793.9" cy="45.3" r="1.15"/>
<circle cx="872.3" cy="45.3" r="1.15"/>
<circle cx="882.1" cy="45.3" r="1.15"/>
<circle cx="891.9" cy="45.3" r="1.15"/>
<circle cx="901.7" cy="45.3" r="1.15"/>
<circle cx="911.5" cy="45.3" r="1.15"/>
<circle cx="921.3" cy="45.3" r="1.15"/>
<circle cx="931.1" cy="45.3" r="1.15"/>
<circle cx="980.1" cy="45.3" r="1.15"/>
<circle cx="989.9" cy="45.3" r="1.15"/>
<circle cx="789.0" cy="50.2" r="1.15"/>
<circle cx="798.8" cy="50.2" r="1.15"/>
<circle cx="867.4" cy="50.2" r="1.15"/>
<circle cx="877.2" cy="50.2" r="1.15"/>
<circle cx="887.0" cy="50.2" r="1.15"/>
<circle cx="896.8" cy="50.2" r="1.15"/>
<circle cx="906.6" cy="50.2" r="1.15"/>
<circle cx="916.4" cy="50.2" r="1.15"/>
<circle cx="926.2" cy="50.2" r="1.15"/>
<circle cx="936.0" cy="50.2" r="1.15"/>
<circle cx="975.2" cy="50.2" r="1.15"/>
<circle cx="985.0" cy="50.2" r="1.15"/>
<circle cx="994.8" cy="50.2" r="1.15"/>
<circle cx="744.9" cy="55.1" r="1.15"/>
<circle cx="784.1" cy="55.1" r="1.15"/>
<circle cx="793.9" cy="55.1" r="1.15"/>
<circle cx="803.7" cy="55.1" r="1.15"/>
<circle cx="842.9" cy="55.1" r="1.15"/>
<circle cx="862.5" cy="55.1" r="1.15"/>
<circle cx="872.3" cy="55.1" r="1.15"/>
<circle cx="882.1" cy="55.1" r="1.15"/>
<circle cx="891.9" cy="55.1" r="1.15"/>
<circle cx="901.7" cy="55.1" r="1.15"/>
<circle cx="911.5" cy="55.1" r="1.15"/>
<circle cx="921.3" cy="55.1" r="1.15"/>
<circle cx="931.1" cy="55.1" r="1.15"/>
<circle cx="940.9" cy="55.1" r="1.15"/>
<circle cx="980.1" cy="55.1" r="1.15"/>
<circle cx="989.9" cy="55.1" r="1.15"/>
<circle cx="740.0" cy="60.0" r="1.15"/>
<circle cx="749.8" cy="60.0" r="1.15"/>
<circle cx="759.6" cy="60.0" r="1.15"/>
<circle cx="779.2" cy="60.0" r="1.15"/>
<circle cx="789.0" cy="60.0" r="1.15"/>
<circle cx="798.8" cy="60.0" r="1.15"/>
<circle cx="838.0" cy="60.0" r="1.15"/>
<circle cx="847.8" cy="60.0" r="1.15"/>
<circle cx="857.6" cy="60.0" r="1.15"/>
<circle cx="867.4" cy="60.0" r="1.15"/>
<circle cx="877.2" cy="60.0" r="1.15"/>
<circle cx="887.0" cy="60.0" r="1.15"/>
<circle cx="896.8" cy="60.0" r="1.15"/>
<circle cx="906.6" cy="60.0" r="1.15"/>
<circle cx="916.4" cy="60.0" r="1.15"/>
<circle cx="926.2" cy="60.0" r="1.15"/>
<circle cx="936.0" cy="60.0" r="1.15"/>
<circle cx="945.8" cy="60.0" r="1.15"/>
<circle cx="975.2" cy="60.0" r="1.15"/>
<circle cx="985.0" cy="60.0" r="1.15"/>
<circle cx="994.8" cy="60.0" r="1.15"/>
<circle cx="735.1" cy="64.9" r="1.15"/>
<circle cx="744.9" cy="64.9" r="1.15"/>
<circle cx="754.7" cy="64.9" r="1.15"/>
<circle cx="764.5" cy="64.9" r="1.15"/>
<circle cx="784.1" cy="64.9" r="1.15"/>
<circle cx="793.9" cy="64.9" r="1.15"/>
<circle cx="803.7" cy="64.9" r="1.15"/>
<circle cx="842.9" cy="64.9" r="1.15"/>
<circle cx="852.7" cy="64.9" r="1.15"/>
<circle cx="862.5" cy="64.9" r="1.15"/>
<circle cx="872.3" cy="64.9" r="1.15"/>
<circle cx="882.1" cy="64.9" r="1.15"/>
<circle cx="891.9" cy="64.9" r="1.15"/>
<circle cx="901.7" cy="64.9" r="1.15"/>
<circle cx="911.5" cy="64.9" r="1.15"/>
<circle cx="921.3" cy="64.9" r="1.15"/>
<circle cx="931.1" cy="64.9" r="1.15"/>
<circle cx="940.9" cy="64.9" r="1.15"/>
<circle cx="950.7" cy="64.9" r="1.15"/>
<circle cx="970.3" cy="64.9" r="1.15"/>
<circle cx="980.1" cy="64.9" r="1.15"/>
<circle cx="989.9" cy="64.9" r="1.15"/>
<circle cx="999.7" cy="64.9" r="1.15"/>
<circle cx="730.2" cy="69.8" r="1.15"/>
<circle cx="740.0" cy="69.8" r="1.15"/>
<circle cx="749.8" cy="69.8" r="1.15"/>
<circle cx="759.6" cy="69.8" r="1.15"/>
<circle cx="779.2" cy="69.8" r="1.15"/>
<circle cx="789.0" cy="69.8" r="1.15"/>
<circle cx="798.8" cy="69.8" r="1.15"/>
<circle cx="847.8" cy="69.8" r="1.15"/>
<circle cx="857.6" cy="69.8" r="1.15"/>
<circle cx="867.4" cy="69.8" r="1.15"/>
<circle cx="877.2" cy="69.8" r="1.15"/>
<circle cx="887.0" cy="69.8" r="1.15"/>
<circle cx="896.8" cy="69.8" r="1.15"/>
<circle cx="906.6" cy="69.8" r="1.15"/>
<circle cx="916.4" cy="69.8" r="1.15"/>
<circle cx="926.2" cy="69.8" r="1.15"/>
<circle cx="936.0" cy="69.8" r="1.15"/>
<circle cx="945.8" cy="69.8" r="1.15"/>
<circle cx="955.6" cy="69.8" r="1.15"/>
<circle cx="965.4" cy="69.8" r="1.15"/>
<circle cx="975.2" cy="69.8" r="1.15"/>
<circle cx="985.0" cy="69.8" r="1.15"/>
<circle cx="994.8" cy="69.8" r="1.15"/>
<circle cx="735.1" cy="74.7" r="1.15"/>
<circle cx="744.9" cy="74.7" r="1.15"/>
<circle cx="754.7" cy="74.7" r="1.15"/>
<circle cx="764.5" cy="74.7" r="1.15"/>
<circle cx="784.1" cy="74.7" r="1.15"/>
<circle cx="793.9" cy="74.7" r="1.15"/>
<circle cx="803.7" cy="74.7" r="1.15"/>
<circle cx="852.7" cy="74.7" r="1.15"/>
<circle cx="862.5" cy="74.7" r="1.15"/>
<circle cx="872.3" cy="74.7" r="1.15"/>
<circle cx="882.1" cy="74.7" r="1.15"/>
<circle cx="891.9" cy="74.7" r="1.15"/>
<circle cx="901.7" cy="74.7" r="1.15"/>
<circle cx="911.5" cy="74.7" r="1.15"/>
<circle cx="921.3" cy="74.7" r="1.15"/>
<circle cx="931.1" cy="74.7" r="1.15"/>
<circle cx="940.9" cy="74.7" r="1.15"/>
<circle cx="950.7" cy="74.7" r="1.15"/>
<circle cx="960.5" cy="74.7" r="1.15"/>
<circle cx="970.3" cy="74.7" r="1.15"/>
<circle cx="980.1" cy="74.7" r="1.15"/>
<circle cx="989.9" cy="74.7" r="1.15"/>
<circle cx="730.2" cy="79.6" r="1.15"/>
<circle cx="740.0" cy="79.6" r="1.15"/>
<circle cx="749.8" cy="79.6" r="1.15"/>
<circle cx="759.6" cy="79.6" r="1.15"/>
<circle cx="769.4" cy="79.6" r="1.15"/>
<circle cx="779.2" cy="79.6" r="1.15"/>
<circle cx="789.0" cy="79.6" r="1.15"/>
<circle cx="798.8" cy="79.6" r="1.15"/>
<circle cx="818.4" cy="79.6" r="1.15"/>
<circle cx="828.2" cy="79.6" r="1.15"/>
<circle cx="857.6" cy="79.6" r="1.15"/>
<circle cx="867.4" cy="79.6" r="1.15"/>
<circle cx="877.2" cy="79.6" r="1.15"/>
<circle cx="887.0" cy="79.6" r="1.15"/>
<circle cx="896.8" cy="79.6" r="1.15"/>
<circle cx="906.6" cy="79.6" r="1.15"/>
<circle cx="916.4" cy="79.6" r="1.15"/>
<circle cx="926.2" cy="79.6" r="1.15"/>
<circle cx="936.0" cy="79.6" r="1.15"/>
<circle cx="945.8" cy="79.6" r="1.15"/>
<circle cx="955.6" cy="79.6" r="1.15"/>
<circle cx="965.4" cy="79.6" r="1.15"/>
<circle cx="975.2" cy="79.6" r="1.15"/>
<circle cx="985.0" cy="79.6" r="1.15"/>
<circle cx="994.8" cy="79.6" r="1.15"/>
<circle cx="725.3" cy="84.5" r="1.15"/>
<circle cx="735.1" cy="84.5" r="1.15"/>
<circle cx="744.9" cy="84.5" r="1.15"/>
<circle cx="754.7" cy="84.5" r="1.15"/>
<circle cx="764.5" cy="84.5" r="1.15"/>
<circle cx="784.1" cy="84.5" r="1.15"/>
<circle cx="793.9" cy="84.5" r="1.15"/>
<circle cx="803.7" cy="84.5" r="1.15"/>
<circle cx="813.5" cy="84.5" r="1.15"/>
<circle cx="823.3" cy="84.5" r="1.15"/>
<circle cx="833.1" cy="84.5" r="1.15"/>
<circle cx="852.7" cy="84.5" r="1.15"/>
<circle cx="862.5" cy="84.5" r="1.15"/>
<circle cx="872.3" cy="84.5" r="1.15"/>
<circle cx="882.1" cy="84.5" r="1.15"/>
<circle cx="891.9" cy="84.5" r="1.15"/>
<circle cx="901.7" cy="84.5" r="1.15"/>
<circle cx="911.5" cy="84.5" r="1.15"/>
<circle cx="921.3" cy="84.5" r="1.15"/>
<circle cx="931.1" cy="84.5" r="1.15"/>
<circle cx="940.9" cy="84.5" r="1.15"/>
<circle cx="950.7" cy="84.5" r="1.15"/>
<circle cx="960.5" cy="84.5" r="1.15"/>
<circle cx="970.3" cy="84.5" r="1.15"/>
<circle cx="980.1" cy="84.5" r="1.15"/>
<circle cx="989.9" cy="84.5" r="1.15"/>
<circle cx="730.2" cy="89.4" r="1.15"/>
<circle cx="740.0" cy="89.4" r="1.15"/>
<circle cx="749.8" cy="89.4" r="1.15"/>
<circle cx="759.6" cy="89.4" r="1.15"/>
<circle cx="769.4" cy="89.4" r="1.15"/>
<circle cx="789.0" cy="89.4" r="1.15"/>
<circle cx="798.8" cy="89.4" r="1.15"/>
<circle cx="808.6" cy="89.4" r="1.15"/>
<circle cx="818.4" cy="89.4" r="1.15"/>
<circle cx="828.2" cy="89.4" r="1.15"/>
<circle cx="838.0" cy="89.4" r="1.15"/>
<circle cx="857.6" cy="89.4" r="1.15"/>
<circle cx="867.4" cy="89.4" r="1.15"/>
<circle cx="877.2" cy="89.4" r="1.15"/>
<circle cx="887.0" cy="89.4" r="1.15"/>
<circle cx="896.8" cy="89.4" r="1.15"/>
<circle cx="906.6" cy="89.4" r="1.15"/>
<circle cx="916.4" cy="89.4" r="1.15"/>
<circle cx="926.2" cy="89.4" r="1.15"/>
<circle cx="936.0" cy="89.4" r="1.15"/>
<circle cx="945.8" cy="89.4" r="1.15"/>
<circle cx="955.6" cy="89.4" r="1.15"/>
<circle cx="965.4" cy="89.4" r="1.15"/>
<circle cx="975.2" cy="89.4" r="1.15"/>
<circle cx="985.0" cy="89.4" r="1.15"/>
<circle cx="725.3" cy="94.3" r="1.15"/>
<circle cx="735.1" cy="94.3" r="1.15"/>
<circle cx="744.9" cy="94.3" r="1.15"/>
<circle cx="754.7" cy="94.3" r="1.15"/>
<circle cx="764.5" cy="94.3" r="1.15"/>
<circle cx="784.1" cy="94.3" r="1.15"/>
<circle cx="793.9" cy="94.3" r="1.15"/>
<circle cx="813.5" cy="94.3" r="1.15"/>
<circle cx="823.3" cy="94.3" r="1.15"/>
<circle cx="833.1" cy="94.3" r="1.15"/>
<circle cx="862.5" cy="94.3" r="1.15"/>
<circle cx="872.3" cy="94.3" r="1.15"/>
<circle cx="882.1" cy="94.3" r="1.15"/>
<circle cx="891.9" cy="94.3" r="1.15"/>
<circle cx="901.7" cy="94.3" r="1.15"/>
<circle cx="911.5" cy="94.3" r="1.15"/>
<circle cx="921.3" cy="94.3" r="1.15"/>
<circle cx="931.1" cy="94.3" r="1.15"/>
<circle cx="940.9" cy="94.3" r="1.15"/>
<circle cx="950.7" cy="94.3" r="1.15"/>
<circle cx="960.5" cy="94.3" r="1.15"/>
<circle cx="970.3" cy="94.3" r="1.15"/>
<circle cx="730.2" cy="99.2" r="1.15"/>
<circle cx="740.0" cy="99.2" r="1.15"/>
<circle cx="749.8" cy="99.2" r="1.15"/>
<circle cx="759.6" cy="99.2" r="1.15"/>
<circle cx="769.4" cy="99.2" r="1.15"/>
<circle cx="808.6" cy="99.2" r="1.15"/>
<circle cx="818.4" cy="99.2" r="1.15"/>
<circle cx="828.2" cy="99.2" r="1.15"/>
<circle cx="838.0" cy="99.2" r="1.15"/>
<circle cx="867.4" cy="99.2" r="1.15"/>
<circle cx="877.2" cy="99.2" r="1.15"/>
<circle cx="887.0" cy="99.2" r="1.15"/>
<circle cx="896.8" cy="99.2" r="1.15"/>
<circle cx="906.6" cy="99.2" r="1.15"/>
<circle cx="916.4" cy="99.2" r="1.15"/>
<circle cx="926.2" cy="99.2" r="1.15"/>
<circle cx="936.0" cy="99.2" r="1.15"/>
<circle cx="945.8" cy="99.2" r="1.15"/>
<circle cx="955.6" cy="99.2" r="1.15"/>
<circle cx="965.4" cy="99.2" r="1.15"/>
<circle cx="975.2" cy="99.2" r="1.15"/>
<circle cx="735.1" cy="104.1" r="1.15"/>
<circle cx="744.9" cy="104.1" r="1.15"/>
<circle cx="754.7" cy="104.1" r="1.15"/>
<circle cx="764.5" cy="104.1" r="1.15"/>
<circle cx="813.5" cy="104.1" r="1.15"/>
<circle cx="823.3" cy="104.1" r="1.15"/>
<circle cx="833.1" cy="104.1" r="1.15"/>
<circle cx="872.3" cy="104.1" r="1.15"/>
<circle cx="882.1" cy="104.1" r="1.15"/>
<circle cx="891.9" cy="104.1" r="1.15"/>
<circle cx="901.7" cy="104.1" r="1.15"/>
<circle cx="911.5" cy="104.1" r="1.15"/>
<circle cx="921.3" cy="104.1" r="1.15"/>
<circle cx="931.1" cy="104.1" r="1.15"/>
<circle cx="940.9" cy="104.1" r="1.15"/>
<circle cx="950.7" cy="104.1" r="1.15"/>
<circle cx="960.5" cy="104.1" r="1.15"/>
<circle cx="970.3" cy="104.1" r="1.15"/>
<circle cx="730.2" cy="109.0" r="1.15"/>
<circle cx="740.0" cy="109.0" r="1.15"/>
<circle cx="749.8" cy="109.0" r="1.15"/>
<circle cx="759.6" cy="109.0" r="1.15"/>
<circle cx="808.6" cy="109.0" r="1.15"/>
<circle cx="818.4" cy="109.0" r="1.15"/>
<circle cx="828.2" cy="109.0" r="1.15"/>
<circle cx="838.0" cy="109.0" r="1.15"/>
<circle cx="887.0" cy="109.0" r="1.15"/>
<circle cx="896.8" cy="109.0" r="1.15"/>
<circle cx="906.6" cy="109.0" r="1.15"/>
<circle cx="916.4" cy="109.0" r="1.15"/>
<circle cx="926.2" cy="109.0" r="1.15"/>
<circle cx="936.0" cy="109.0" r="1.15"/>
<circle cx="945.8" cy="109.0" r="1.15"/>
<circle cx="955.6" cy="109.0" r="1.15"/>
<circle cx="965.4" cy="109.0" r="1.15"/>
<circle cx="735.1" cy="113.9" r="1.15"/>
<circle cx="744.9" cy="113.9" r="1.15"/>
<circle cx="754.7" cy="113.9" r="1.15"/>
<circle cx="764.5" cy="113.9" r="1.15"/>
<circle cx="813.5" cy="113.9" r="1.15"/>
<circle cx="823.3" cy="113.9" r="1.15"/>
<circle cx="833.1" cy="113.9" r="1.15"/>
<circle cx="940.9" cy="113.9" r="1.15"/>
<circle cx="950.7" cy="113.9" r="1.15"/>
<circle cx="960.5" cy="113.9" r="1.15"/>
<circle cx="970.3" cy="113.9" r="1.15"/>
<circle cx="740.0" cy="118.8" r="1.15"/>
<circle cx="749.8" cy="118.8" r="1.15"/>
<circle cx="759.6" cy="118.8" r="1.15"/>
<circle cx="818.4" cy="118.8" r="1.15"/>
<circle cx="828.2" cy="118.8" r="1.15"/>
<circle cx="945.8" cy="118.8" r="1.15"/>
<circle cx="955.6" cy="118.8" r="1.15"/>
<circle cx="965.4" cy="118.8" r="1.15"/>
<circle cx="744.9" cy="123.7" r="1.15"/>
<circle cx="754.7" cy="123.7" r="1.15"/>
<circle cx="823.3" cy="123.7" r="1.15"/>
<circle cx="950.7" cy="123.7" r="1.15"/>
<circle cx="960.5" cy="123.7" r="1.15"/>
</g>
<line x1="718.4" x2="1001.0" y1="70.3" y2="70.3" stroke="#f5221c" stroke-width="2.7" stroke-dasharray="8.8 2.2"/>
<line x1="718.4" x2="1001.0" y1="100.0" y2="100.0" stroke="#1f1fe6" stroke-width="2.7" stroke-dasharray="8.8 2.2"/>
<line x1="718.4" x2="1001.0" y1="129.7" y2="129.7" stroke="#f03cc0" stroke-width="2.7" stroke-dasharray="8.8 2.2"/>
</g>
<text x="723.6" y="37.0" font-family="Liberation Sans, Arial, sans-serif" font-size="18.2" fill="#2222e2">e)d<tspan font-size="11.3" dy="-6.2">18</tspan><tspan dy="6.2">O</tspan>-based PDV reconstruction</text>
<rect x="718.4" y="17.8" width="282.6" height="132.6" fill="none" stroke="#000" stroke-width="2"/>
<rect x="1001.0" y="17.8" width="133.4" height="132.6" fill="#fff" stroke="#000" stroke-width="2"/>
<line x1="718.4" x2="718.4" y1="17.8" y2="12.2" stroke="#000" stroke-width="1.5"/>
<line x1="718.4" x2="718.4" y1="150.4" y2="156.0" stroke="#000" stroke-width="1.5"/>
<line x1="732.5" x2="732.5" y1="17.8" y2="15.0" stroke="#000" stroke-width="1"/>
<line x1="732.5" x2="732.5" y1="150.4" y2="153.2" stroke="#000" stroke-width="1"/>
<line x1="746.7" x2="746.7" y1="17.8" y2="15.0" stroke="#000" stroke-width="1"/>
<line x1="746.7" x2="746.7" y1="150.4" y2="153.2" stroke="#000" stroke-width="1"/>
<line x1="760.8" x2="760.8" y1="17.8" y2="15.0" stroke="#000" stroke-width="1"/>
<line x1="760.8" x2="760.8" y1="150.4" y2="153.2" stroke="#000" stroke-width="1"/>
<line x1="774.9" x2="774.9" y1="17.8" y2="12.2" stroke="#000" stroke-width="1.5"/>
<line x1="774.9" x2="774.9" y1="150.4" y2="156.0" stroke="#000" stroke-width="1.5"/>
<line x1="789.0" x2="789.0" y1="17.8" y2="15.0" stroke="#000" stroke-width="1"/>
<line x1="789.0" x2="789.0" y1="150.4" y2="153.2" stroke="#000" stroke-width="1"/>
<line x1="803.2" x2="803.2" y1="17.8" y2="15.0" stroke="#000" stroke-width="1"/>
<line x1="803.2" x2="803.2" y1="150.4" y2="153.2" stroke="#000" stroke-width="1"/>
<line x1="817.3" x2="817.3" y1="17.8" y2="15.0" stroke="#000" stroke-width="1"/>
<line x1="817.3" x2="817.3" y1="150.4" y2="153.2" stroke="#000" stroke-width="1"/>
<line x1="831.4" x2="831.4" y1="17.8" y2="12.2" stroke="#000" stroke-width="1.5"/>
<line x1="831.4" x2="831.4" y1="150.4" y2="156.0" stroke="#000" stroke-width="1.5"/>
<line x1="845.6" x2="845.6" y1="17.8" y2="15.0" stroke="#000" stroke-width="1"/>
<line x1="845.6" x2="845.6" y1="150.4" y2="153.2" stroke="#000" stroke-width="1"/>
<line x1="859.7" x2="859.7" y1="17.8" y2="15.0" stroke="#000" stroke-width="1"/>
<line x1="859.7" x2="859.7" y1="150.4" y2="153.2" stroke="#000" stroke-width="1"/>
<line x1="873.8" x2="873.8" y1="17.8" y2="15.0" stroke="#000" stroke-width="1"/>
<line x1="873.8" x2="873.8" y1="150.4" y2="153.2" stroke="#000" stroke-width="1"/>
<line x1="888.0" x2="888.0" y1="17.8" y2="12.2" stroke="#000" stroke-width="1.5"/>
<line x1="888.0" x2="888.0" y1="150.4" y2="156.0" stroke="#000" stroke-width="1.5"/>
<line x1="902.1" x2="902.1" y1="17.8" y2="15.0" stroke="#000" stroke-width="1"/>
<line x1="902.1" x2="902.1" y1="150.4" y2="153.2" stroke="#000" stroke-width="1"/>
<line x1="916.2" x2="916.2" y1="17.8" y2="15.0" stroke="#000" stroke-width="1"/>
<line x1="916.2" x2="916.2" y1="150.4" y2="153.2" stroke="#000" stroke-width="1"/>
<line x1="930.4" x2="930.4" y1="17.8" y2="15.0" stroke="#000" stroke-width="1"/>
<line x1="930.4" x2="930.4" y1="150.4" y2="153.2" stroke="#000" stroke-width="1"/>
<line x1="944.5" x2="944.5" y1="17.8" y2="12.2" stroke="#000" stroke-width="1.5"/>
<line x1="944.5" x2="944.5" y1="150.4" y2="156.0" stroke="#000" stroke-width="1.5"/>
<line x1="958.6" x2="958.6" y1="17.8" y2="15.0" stroke="#000" stroke-width="1"/>
<line x1="958.6" x2="958.6" y1="150.4" y2="153.2" stroke="#000" stroke-width="1"/>
<line x1="972.7" x2="972.7" y1="17.8" y2="15.0" stroke="#000" stroke-width="1"/>
<line x1="972.7" x2="972.7" y1="150.4" y2="153.2" stroke="#000" stroke-width="1"/>
<line x1="986.9" x2="986.9" y1="17.8" y2="15.0" stroke="#000" stroke-width="1"/>
<line x1="986.9" x2="986.9" y1="150.4" y2="153.2" stroke="#000" stroke-width="1"/>
<line x1="1001.0" x2="1001.0" y1="17.8" y2="12.2" stroke="#000" stroke-width="1.5"/>
<line x1="1001.0" x2="1001.0" y1="150.4" y2="156.0" stroke="#000" stroke-width="1.5"/>
<line x1="1001.0" x2="1001.0" y1="17.8" y2="12.2" stroke="#000" stroke-width="1.5"/>
<line x1="1001.0" x2="1001.0" y1="150.4" y2="156.0" stroke="#000" stroke-width="1.5"/>
<line x1="1009.9" x2="1009.9" y1="17.8" y2="15.0" stroke="#000" stroke-width="1"/>
<line x1="1009.9" x2="1009.9" y1="150.4" y2="153.2" stroke="#000" stroke-width="1"/>
<line x1="1018.8" x2="1018.8" y1="17.8" y2="15.0" stroke="#000" stroke-width="1"/>
<line x1="1018.8" x2="1018.8" y1="150.4" y2="153.2" stroke="#000" stroke-width="1"/>
<line x1="1027.7" x2="1027.7" y1="17.8" y2="12.2" stroke="#000" stroke-width="1.5"/>
<line x1="1027.7" x2="1027.7" y1="150.4" y2="156.0" stroke="#000" stroke-width="1.5"/>
<line x1="1036.6" x2="1036.6" y1="17.8" y2="15.0" stroke="#000" stroke-width="1"/>
<line x1="1036.6" x2="1036.6" y1="150.4" y2="153.2" stroke="#000" stroke-width="1"/>
<line x1="1045.5" x2="1045.5" y1="17.8" y2="15.0" stroke="#000" stroke-width="1"/>
<line x1="1045.5" x2="1045.5" y1="150.4" y2="153.2" stroke="#000" stroke-width="1"/>
<line x1="1054.4" x2="1054.4" y1="17.8" y2="12.2" stroke="#000" stroke-width="1.5"/>
<line x1="1054.4" x2="1054.4" y1="150.4" y2="156.0" stroke="#000" stroke-width="1.5"/>
<line x1="1063.3" x2="1063.3" y1="17.8" y2="15.0" stroke="#000" stroke-width="1"/>
<line x1="1063.3" x2="1063.3" y1="150.4" y2="153.2" stroke="#000" stroke-width="1"/>
<line x1="1072.1" x2="1072.1" y1="17.8" y2="15.0" stroke="#000" stroke-width="1"/>
<line x1="1072.1" x2="1072.1" y1="150.4" y2="153.2" stroke="#000" stroke-width="1"/>
<line x1="1081.0" x2="1081.0" y1="17.8" y2="12.2" stroke="#000" stroke-width="1.5"/>
<line x1="1081.0" x2="1081.0" y1="150.4" y2="156.0" stroke="#000" stroke-width="1.5"/>
<line x1="1089.9" x2="1089.9" y1="17.8" y2="15.0" stroke="#000" stroke-width="1"/>
<line x1="1089.9" x2="1089.9" y1="150.4" y2="153.2" stroke="#000" stroke-width="1"/>
<line x1="1098.8" x2="1098.8" y1="17.8" y2="15.0" stroke="#000" stroke-width="1"/>
<line x1="1098.8" x2="1098.8" y1="150.4" y2="153.2" stroke="#000" stroke-width="1"/>
<line x1="1107.7" x2="1107.7" y1="17.8" y2="12.2" stroke="#000" stroke-width="1.5"/>
<line x1="1107.7" x2="1107.7" y1="150.4" y2="156.0" stroke="#000" stroke-width="1.5"/>
<line x1="1116.6" x2="1116.6" y1="17.8" y2="15.0" stroke="#000" stroke-width="1"/>
<line x1="1116.6" x2="1116.6" y1="150.4" y2="153.2" stroke="#000" stroke-width="1"/>
<line x1="1125.5" x2="1125.5" y1="17.8" y2="15.0" stroke="#000" stroke-width="1"/>
<line x1="1125.5" x2="1125.5" y1="150.4" y2="153.2" stroke="#000" stroke-width="1"/>
<line x1="1134.4" x2="1134.4" y1="17.8" y2="12.2" stroke="#000" stroke-width="1.5"/>
<line x1="1134.4" x2="1134.4" y1="150.4" y2="156.0" stroke="#000" stroke-width="1.5"/>
<line x1="715.4" x2="718.4" y1="18.7" y2="18.7" stroke="#000" stroke-width="1"/>
<line x1="1001.0" x2="1003.4" y1="18.7" y2="18.7" stroke="#000" stroke-width="1"/>
<line x1="715.4" x2="718.4" y1="25.3" y2="25.3" stroke="#000" stroke-width="1"/>
<line x1="1001.0" x2="1003.4" y1="25.3" y2="25.3" stroke="#000" stroke-width="1"/>
<line x1="715.4" x2="718.4" y1="31.0" y2="31.0" stroke="#000" stroke-width="1"/>
<line x1="1001.0" x2="1003.4" y1="31.0" y2="31.0" stroke="#000" stroke-width="1"/>
<line x1="715.4" x2="718.4" y1="36.1" y2="36.1" stroke="#000" stroke-width="1"/>
<line x1="1001.0" x2="1003.4" y1="36.1" y2="36.1" stroke="#000" stroke-width="1"/>
<line x1="715.4" x2="718.4" y1="40.6" y2="40.6" stroke="#000" stroke-width="1"/>
<line x1="1001.0" x2="1003.4" y1="40.6" y2="40.6" stroke="#000" stroke-width="1"/>
<line x1="712.9" x2="718.4" y1="70.3" y2="70.3" stroke="#000" stroke-width="1.5"/>
<line x1="1001.0" x2="1005.4" y1="70.3" y2="70.3" stroke="#000" stroke-width="1.4"/>
<text x="702.2" y="75.7" font-family="Liberation Sans, Arial, sans-serif" font-size="15.4" fill="#222" text-anchor="end">20</text>
<line x1="715.4" x2="718.4" y1="87.7" y2="87.7" stroke="#000" stroke-width="1"/>
<line x1="1001.0" x2="1003.4" y1="87.7" y2="87.7" stroke="#000" stroke-width="1"/>
<line x1="715.4" x2="718.4" y1="100.0" y2="100.0" stroke="#000" stroke-width="1"/>
<line x1="1001.0" x2="1003.4" y1="100.0" y2="100.0" stroke="#000" stroke-width="1"/>
<line x1="715.4" x2="718.4" y1="109.6" y2="109.6" stroke="#000" stroke-width="1"/>
<line x1="1001.0" x2="1003.4" y1="109.6" y2="109.6" stroke="#000" stroke-width="1"/>
<line x1="712.9" x2="718.4" y1="117.4" y2="117.4" stroke="#000" stroke-width="1.5"/>
<line x1="1001.0" x2="1005.4" y1="117.4" y2="117.4" stroke="#000" stroke-width="1.4"/>
<text x="702.2" y="122.8" font-family="Liberation Sans, Arial, sans-serif" font-size="15.4" fill="#222" text-anchor="end">60</text>
<line x1="715.4" x2="718.4" y1="124.0" y2="124.0" stroke="#000" stroke-width="1"/>
<line x1="1001.0" x2="1003.4" y1="124.0" y2="124.0" stroke="#000" stroke-width="1"/>
<line x1="715.4" x2="718.4" y1="129.7" y2="129.7" stroke="#000" stroke-width="1"/>
<line x1="1001.0" x2="1003.4" y1="129.7" y2="129.7" stroke="#000" stroke-width="1"/>
<line x1="715.4" x2="718.4" y1="134.7" y2="134.7" stroke="#000" stroke-width="1"/>
<line x1="1001.0" x2="1003.4" y1="134.7" y2="134.7" stroke="#000" stroke-width="1"/>
<line x1="712.9" x2="718.4" y1="139.3" y2="139.3" stroke="#000" stroke-width="1.5"/>
<line x1="1001.0" x2="1005.4" y1="139.3" y2="139.3" stroke="#000" stroke-width="1.4"/>
<text x="702.2" y="144.7" font-family="Liberation Sans, Arial, sans-serif" font-size="15.4" fill="#222" text-anchor="end">100</text>
<line x1="715.4" x2="718.4" y1="143.3" y2="143.3" stroke="#000" stroke-width="1"/>
<line x1="1001.0" x2="1003.4" y1="143.3" y2="143.3" stroke="#000" stroke-width="1"/>
<line x1="715.4" x2="718.4" y1="147.1" y2="147.1" stroke="#000" stroke-width="1"/>
<line x1="1001.0" x2="1003.4" y1="147.1" y2="147.1" stroke="#000" stroke-width="1"/>
<text transform="translate(665.0,84.3) rotate(-90)" font-family="Liberation Sans, Arial, sans-serif" font-size="16.7" fill="#1c1c1c" text-anchor="middle">Period(years)</text>
<line x1="1013.0" x2="1130.4" y1="70.3" y2="70.3" stroke="#666" stroke-width="1.2" stroke-dasharray="4.7 6"/>
<line x1="1013.0" x2="1130.4" y1="100.0" y2="100.0" stroke="#666" stroke-width="1.2" stroke-dasharray="4.7 6"/>
<line x1="1013.0" x2="1130.4" y1="129.7" y2="129.7" stroke="#666" stroke-width="1.2" stroke-dasharray="4.7 6"/>
<g clip-path="url(#cse)">
<polyline points="1002.6,19.0 1003.7,30.9 1008.5,47.5 1018.0,64.1 1029.9,78.4 1044.1,90.2 1060.7,99.7 1079.7,106.9 1098.7,112.8 1117.7,116.8 1134.4,119.9" fill="none" stroke="#e8141c" stroke-width="2.6" stroke-dasharray="3.4 1.2"/>
<polyline points="1001.8,19.0 1002.6,35.6 1006.1,42.7 1013.2,49.9 1023.9,62.2 1042.9,68.9 1056.0,77.2 1077.4,84.3 1070.2,91.4 1094.0,99.7 1101.1,106.9 1090.4,114.0 1056.0,122.3 1040.6,129.4 1076.2,136.5 1085.7,143.7 1073.8,150.1" fill="none" stroke="#000" stroke-width="2.7" stroke-linejoin="miter"/>
</g>
<g clip-path="url(#cpf)">
<g filter="url(#cm)">
<rect x="703.4" y="166.5" width="312.8" height="162.9" fill="#000000"/>
<g filter="url(#bl)">
<rect x="703.4" y="166.5" width="312.8" height="162.9" fill="#000000"/>
<ellipse cx="740.0" cy="232.0" rx="22.0" ry="22.0" fill="#212121"/>
<ellipse cx="790.0" cy="218.0" rx="8.0" ry="16.0" fill="#2b2b2b"/>
<ellipse cx="800.0" cy="245.0" rx="14.0" ry="14.0" fill="#212121"/>
<ellipse cx="838.0" cy="228.0" rx="10.0" ry="16.0" fill="#2b2b2b"/>
<ellipse cx="850.0" cy="240.0" rx="14.0" ry="12.0" fill="#212121"/>
<ellipse cx="866.0" cy="222.0" rx="8.0" ry="10.0" fill="#2b2b2b"/>
<ellipse cx="885.0" cy="240.0" rx="16.0" ry="14.0" fill="#212121"/>
<ellipse cx="905.0" cy="232.0" rx="16.0" ry="16.0" fill="#252525"/>
<ellipse cx="835.0" cy="278.0" rx="40.0" ry="8.0" fill="#252525"/>
<ellipse cx="895.0" cy="285.0" rx="22.0" ry="10.0" fill="#212121"/>
<ellipse cx="978.0" cy="228.0" rx="20.0" ry="22.0" fill="#212121"/>
<ellipse cx="985.0" cy="255.0" rx="14.0" ry="12.0" fill="#252525"/>
<ellipse cx="975.0" cy="270.0" rx="20.0" ry="6.0" fill="#212121"/>
<ellipse cx="740.0" cy="292.0" rx="18.0" ry="14.0" fill="#1d1d1d"/>
<ellipse cx="940.0" cy="222.0" rx="14.0" ry="8.0" fill="#252525"/>
<ellipse cx="770.0" cy="280.0" rx="14.0" ry="8.0" fill="#212121"/>
<ellipse cx="832.0" cy="212.0" rx="4.0" ry="8.0" fill="#303030"/>
<ellipse cx="846.0" cy="214.0" rx="3.0" ry="8.0" fill="#303030"/>
<ellipse cx="862.0" cy="212.0" rx="3.0" ry="8.0" fill="#303030"/>
<ellipse cx="975.0" cy="218.0" rx="8.0" ry="6.0" fill="#303030"/>
<ellipse cx="815.0" cy="262.0" rx="16.0" ry="4.0" fill="#000000"/>
<ellipse cx="870.0" cy="262.0" rx="30.0" ry="4.0" fill="#050505"/>
</g>
<g filter="url(#bl2)">
<ellipse cx="721.0" cy="235.0" rx="11.5" ry="15.0" fill="#3e3e3e"/>
<ellipse cx="738.5" cy="261.0" rx="14.5" ry="11.0" fill="#3e3e3e"/>
<ellipse cx="737.0" cy="261.0" rx="12.5" ry="11.5" fill="#3e3e3e"/>
<polyline points="723.0,272.0 730.0,266.0" fill="none" stroke="#3e3e3e" stroke-width="21.0" stroke-linecap="round" stroke-linejoin="round"/>
<ellipse cx="723.0" cy="270.5" rx="11.0" ry="11.0" fill="#3e3e3e"/>
<polyline points="792.5,219.0 792.5,226.0" fill="none" stroke="#3e3e3e" stroke-width="12.0" stroke-linecap="round" stroke-linejoin="round"/>
<polyline points="793.0,228.0 792.0,250.0" fill="none" stroke="#3e3e3e" stroke-width="20.5" stroke-linecap="round" stroke-linejoin="round"/>
<polyline points="790.0,250.0 784.0,252.0 778.0,256.0" fill="none" stroke="#3e3e3e" stroke-width="13.0" stroke-linecap="round" stroke-linejoin="round"/>
<ellipse cx="781.0" cy="264.0" rx="19.5" ry="12.5" fill="#3e3e3e"/>
<ellipse cx="781.0" cy="264.0" rx="20.5" ry="13.5" fill="#3e3e3e"/>
<ellipse cx="820.0" cy="312.0" rx="22.5" ry="8.5" fill="#3e3e3e"/>
<polyline points="761.0,295.0 803.0,296.5 826.0,301.0 842.0,305.0 857.0,306.5 885.0,308.0 905.0,309.0 918.0,303.0 924.0,292.0 958.0,290.0 962.0,300.0 950.0,318.0 838.0,318.0 830.0,313.0 815.0,309.0 803.0,312.5 761.0,313.0 761.0,295.0" fill="none" stroke="#3e3e3e" stroke-width="18.0" stroke-linecap="round" stroke-linejoin="round"/>
<ellipse cx="866.8" cy="236.6" rx="15.0" ry="16.0" fill="#3e3e3e"/>
<ellipse cx="911.0" cy="223.5" rx="10.8" ry="14.0" fill="#3e3e3e"/>
<ellipse cx="985.0" cy="293.0" rx="22.5" ry="8.5" fill="#3e3e3e"/>
<polyline points="922.0,238.0 927.0,235.0 934.0,235.0 941.0,240.0 948.0,235.0 955.0,237.0 957.0,262.0 958.0,280.0 975.0,283.0 975.0,298.0 940.0,300.0 918.0,300.0 924.0,285.0 927.0,270.0 926.0,258.0 922.0,250.0 922.0,238.0" fill="none" stroke="#3e3e3e" stroke-width="18.0" stroke-linecap="round" stroke-linejoin="round"/>
<polyline points="972.0,292.0 985.0,283.0 998.0,270.0" fill="none" stroke="#3e3e3e" stroke-width="22.0" stroke-linecap="round" stroke-linejoin="round"/>
<ellipse cx="721.0" cy="235.0" rx="8.0" ry="11.5" fill="#6b6b6b"/>
<ellipse cx="737.0" cy="261.0" rx="9.0" ry="8.0" fill="#6b6b6b"/>
<polyline points="723.0,272.0 730.0,266.0" fill="none" stroke="#6b6b6b" stroke-width="14.0" stroke-linecap="round" stroke-linejoin="round"/>
<ellipse cx="723.0" cy="270.5" rx="7.5" ry="7.5" fill="#6b6b6b"/>
<polyline points="793.0,228.0 792.0,250.0" fill="none" stroke="#6b6b6b" stroke-width="13.5" stroke-linecap="round" stroke-linejoin="round"/>
<ellipse cx="781.0" cy="264.0" rx="17.0" ry="10.0" fill="#6b6b6b"/>
<polyline points="761.0,295.0 803.0,296.5 826.0,301.0 842.0,305.0 857.0,306.5 885.0,308.0 905.0,309.0 918.0,303.0 924.0,292.0 958.0,290.0 962.0,300.0 950.0,318.0 838.0,318.0 830.0,313.0 815.0,309.0 803.0,312.5 761.0,313.0 761.0,295.0" fill="none" stroke="#6b6b6b" stroke-width="11.0" stroke-linecap="round" stroke-linejoin="round"/>
<ellipse cx="866.8" cy="236.6" rx="11.5" ry="12.5" fill="#6b6b6b"/>
<ellipse cx="911.0" cy="223.5" rx="7.3" ry="10.5" fill="#6b6b6b"/>
<polyline points="922.0,238.0 927.0,235.0 934.0,235.0 941.0,240.0 948.0,235.0 955.0,237.0 957.0,262.0 958.0,280.0 975.0,283.0 975.0,298.0 940.0,300.0 918.0,300.0 924.0,285.0 927.0,270.0 926.0,258.0 922.0,250.0 922.0,238.0" fill="none" stroke="#6b6b6b" stroke-width="11.0" stroke-linecap="round" stroke-linejoin="round"/>
<polyline points="972.0,292.0 985.0,283.0 998.0,270.0" fill="none" stroke="#6b6b6b" stroke-width="15.0" stroke-linecap="round" stroke-linejoin="round"/>
</g>
<ellipse cx="722.0" cy="240.0" rx="6.0" ry="12.0" fill="#636363"/>
<ellipse cx="721.0" cy="235.0" rx="3.5" ry="7.0" fill="#ffffff"/>
<ellipse cx="738.5" cy="261.0" rx="10.0" ry="6.5" fill="#999999"/>
<ellipse cx="737.0" cy="261.0" rx="4.5" ry="3.5" fill="#ffffff"/>
<polyline points="723.0,272.0 730.0,266.0" fill="none" stroke="#ededed" stroke-width="5.0" stroke-linecap="round" stroke-linejoin="round"/>
<ellipse cx="723.0" cy="270.5" rx="3.0" ry="3.0" fill="#ffffff"/>
<ellipse cx="793.0" cy="210.0" rx="2.5" ry="6.0" fill="#8a8a8a"/>
<polyline points="792.5,219.0 792.5,226.0" fill="none" stroke="#d9d9d9" stroke-width="3.0" stroke-linecap="round" stroke-linejoin="round"/>
<polyline points="793.0,228.0 792.0,250.0" fill="none" stroke="#ffffff" stroke-width="4.5" stroke-linecap="round" stroke-linejoin="round"/>
<polyline points="790.0,250.0 784.0,252.0 778.0,256.0" fill="none" stroke="#c5c5c5" stroke-width="4.0" stroke-linecap="round" stroke-linejoin="round"/>
<ellipse cx="795.0" cy="273.0" rx="8.0" ry="5.0" fill="#797979"/>
<ellipse cx="781.0" cy="264.0" rx="15.0" ry="8.0" fill="#959595"/>
<ellipse cx="781.0" cy="264.0" rx="12.5" ry="5.5" fill="#ffffff"/>
<ellipse cx="800.0" cy="293.0" rx="38.0" ry="4.0" fill="#868686"/>
<ellipse cx="820.0" cy="312.0" rx="18.0" ry="4.0" fill="#979797"/>
<polygon points="761.0,295.0 803.0,296.5 826.0,301.0 842.0,305.0 857.0,306.5 885.0,308.0 905.0,309.0 918.0,303.0 924.0,292.0 958.0,290.0 962.0,300.0 950.0,318.0 838.0,318.0 830.0,313.0 815.0,309.0 803.0,312.5 761.0,313.0" fill="#ffffff"/>
<ellipse cx="866.8" cy="236.6" rx="7.0" ry="8.0" fill="#ffffff"/>
<ellipse cx="841.5" cy="249.0" rx="4.5" ry="3.5" fill="#9e9e9e"/>
<ellipse cx="910.0" cy="222.0" rx="5.0" ry="12.0" fill="#696969"/>
<ellipse cx="911.0" cy="223.5" rx="2.8" ry="6.0" fill="#ffffff"/>
<ellipse cx="896.0" cy="238.0" rx="6.0" ry="5.0" fill="#5f5f5f"/>
<ellipse cx="985.0" cy="293.0" rx="18.0" ry="4.0" fill="#979797"/>
<polygon points="922.0,238.0 927.0,235.0 934.0,235.0 941.0,240.0 948.0,235.0 955.0,237.0 957.0,262.0 958.0,280.0 975.0,283.0 975.0,298.0 940.0,300.0 918.0,300.0 924.0,285.0 927.0,270.0 926.0,258.0 922.0,250.0" fill="#ffffff"/>
<ellipse cx="938.0" cy="256.0" rx="8.0" ry="4.0" fill="#000000"/>
<polyline points="972.0,292.0 985.0,283.0 998.0,270.0" fill="none" stroke="#ffffff" stroke-width="6.0" stroke-linecap="round" stroke-linejoin="round"/>
</g>
<g stroke="#1a1a1a" stroke-width="0.9">
<line x1="760.8" x2="760.8" y1="181.5" y2="314.4"/>
<line x1="803.2" x2="803.2" y1="181.5" y2="314.4"/>
<line x1="760.8" y1="168.4" x2="803.2" y2="185.8"/>
<line x1="760.8" y1="182.3" x2="803.2" y2="199.7"/>
<line x1="760.8" y1="196.2" x2="803.2" y2="213.6"/>
<line x1="760.8" y1="210.1" x2="803.2" y2="227.5"/>
<line x1="760.8" y1="224.0" x2="803.2" y2="241.4"/>
<line x1="760.8" y1="237.9" x2="803.2" y2="255.3"/>
<line x1="760.8" y1="251.8" x2="803.2" y2="269.2"/>
<line x1="760.8" y1="265.8" x2="803.2" y2="283.2"/>
<line x1="760.8" y1="279.7" x2="803.2" y2="297.1"/>
<line x1="760.8" y1="293.6" x2="803.2" y2="311.0"/>
<line x1="760.8" y1="307.5" x2="803.2" y2="324.9"/>
</g>
<g stroke="#1a1a1a" stroke-width="0.9">
<line x1="873.9" x2="873.9" y1="181.5" y2="314.4"/>
<line x1="958.8" x2="958.8" y1="181.5" y2="314.4"/>
<line x1="873.9" y1="158.4" x2="958.8" y2="193.2"/>
<line x1="873.9" y1="172.3" x2="958.8" y2="207.1"/>
<line x1="873.9" y1="186.2" x2="958.8" y2="221.0"/>
<line x1="873.9" y1="200.1" x2="958.8" y2="234.9"/>
<line x1="873.9" y1="214.0" x2="958.8" y2="248.8"/>
<line x1="873.9" y1="227.9" x2="958.8" y2="262.7"/>
<line x1="873.9" y1="241.8" x2="958.8" y2="276.6"/>
<line x1="873.9" y1="255.7" x2="958.8" y2="290.5"/>
<line x1="873.9" y1="269.7" x2="958.8" y2="304.4"/>
<line x1="873.9" y1="283.6" x2="958.8" y2="318.4"/>
<line x1="873.9" y1="297.5" x2="958.8" y2="332.3"/>
<line x1="873.9" y1="311.4" x2="958.8" y2="346.2"/>
</g>
<polyline points="718.9,181.5 720.0,191.5 721.2,201.1 722.6,212.5 724.2,223.6 726.5,235.5 729.3,246.0 732.2,256.6 735.5,266.5 739.2,276.6 743.6,286.9 747.9,295.1 752.8,303.2 756.7,309.1 761.0,314.6 762.4,316.6" fill="none" stroke="#5a5a5a" stroke-width="1.9"/>
<polyline points="1000.7,181.5 999.6,191.5 998.4,201.1 997.0,212.5 995.4,223.6 993.1,235.5 990.3,246.0 987.4,256.6 984.1,266.5 980.4,276.6 976.0,286.9 971.7,295.1 966.8,303.2 962.9,309.1 958.6,314.6 957.2,316.6" fill="none" stroke="#5a5a5a" stroke-width="1.9"/>
<line x1="719.1" y1="248.0" x2="733.4" y2="273.0" stroke="#555" stroke-width="1.1"/>
<line x1="719.1" y1="282.8" x2="733.4" y2="273.0" stroke="#555" stroke-width="1.1"/>
<line x1="719.1" y1="304.2" x2="728.3" y2="317.5" stroke="#555" stroke-width="1.1"/>
<line x1="750.8" y1="317.5" x2="760.6" y2="304.2" stroke="#555" stroke-width="1.1"/>
<line x1="733.4" y1="273.0" x2="740.4" y2="280.6" stroke="#555" stroke-width="1.1"/>
<line x1="1000.5" y1="248.0" x2="986.2" y2="273.0" stroke="#555" stroke-width="1.1"/>
<line x1="1000.5" y1="282.8" x2="986.2" y2="273.0" stroke="#555" stroke-width="1.1"/>
<line x1="1000.5" y1="304.2" x2="991.3" y2="317.5" stroke="#555" stroke-width="1.1"/>
<line x1="968.8" y1="317.5" x2="959.0" y2="304.2" stroke="#555" stroke-width="1.1"/>
<line x1="986.2" y1="273.0" x2="979.2" y2="280.6" stroke="#555" stroke-width="1.1"/>
<g fill="#111">
<circle cx="784.1" cy="209.0" r="1.15"/>
<circle cx="892.0" cy="209.0" r="1.15"/>
<circle cx="901.8" cy="209.0" r="1.15"/>
<circle cx="911.6" cy="209.0" r="1.15"/>
<circle cx="740.0" cy="213.9" r="1.15"/>
<circle cx="749.8" cy="213.9" r="1.15"/>
<circle cx="779.2" cy="213.9" r="1.15"/>
<circle cx="789.0" cy="213.9" r="1.15"/>
<circle cx="838.1" cy="213.9" r="1.15"/>
<circle cx="847.9" cy="213.9" r="1.15"/>
<circle cx="887.1" cy="213.9" r="1.15"/>
<circle cx="896.9" cy="213.9" r="1.15"/>
<circle cx="906.7" cy="213.9" r="1.15"/>
<circle cx="916.5" cy="213.9" r="1.15"/>
<circle cx="985.2" cy="213.9" r="1.15"/>
<circle cx="735.1" cy="218.8" r="1.15"/>
<circle cx="744.9" cy="218.8" r="1.15"/>
<circle cx="754.7" cy="218.8" r="1.15"/>
<circle cx="784.1" cy="218.8" r="1.15"/>
<circle cx="794.0" cy="218.8" r="1.15"/>
<circle cx="833.2" cy="218.8" r="1.15"/>
<circle cx="843.0" cy="218.8" r="1.15"/>
<circle cx="892.0" cy="218.8" r="1.15"/>
<circle cx="901.8" cy="218.8" r="1.15"/>
<circle cx="911.6" cy="218.8" r="1.15"/>
<circle cx="921.4" cy="218.8" r="1.15"/>
<circle cx="980.3" cy="218.8" r="1.15"/>
<circle cx="990.1" cy="218.8" r="1.15"/>
<circle cx="730.2" cy="223.7" r="1.15"/>
<circle cx="740.0" cy="223.7" r="1.15"/>
<circle cx="749.8" cy="223.7" r="1.15"/>
<circle cx="779.2" cy="223.7" r="1.15"/>
<circle cx="789.0" cy="223.7" r="1.15"/>
<circle cx="828.3" cy="223.7" r="1.15"/>
<circle cx="838.1" cy="223.7" r="1.15"/>
<circle cx="847.9" cy="223.7" r="1.15"/>
<circle cx="867.5" cy="223.7" r="1.15"/>
<circle cx="887.1" cy="223.7" r="1.15"/>
<circle cx="896.9" cy="223.7" r="1.15"/>
<circle cx="906.7" cy="223.7" r="1.15"/>
<circle cx="916.5" cy="223.7" r="1.15"/>
<circle cx="926.3" cy="223.7" r="1.15"/>
<circle cx="985.2" cy="223.7" r="1.15"/>
<circle cx="735.1" cy="228.6" r="1.15"/>
<circle cx="744.9" cy="228.6" r="1.15"/>
<circle cx="774.3" cy="228.6" r="1.15"/>
<circle cx="784.1" cy="228.6" r="1.15"/>
<circle cx="794.0" cy="228.6" r="1.15"/>
<circle cx="833.2" cy="228.6" r="1.15"/>
<circle cx="843.0" cy="228.6" r="1.15"/>
<circle cx="852.8" cy="228.6" r="1.15"/>
<circle cx="862.6" cy="228.6" r="1.15"/>
<circle cx="872.4" cy="228.6" r="1.15"/>
<circle cx="892.0" cy="228.6" r="1.15"/>
<circle cx="901.8" cy="228.6" r="1.15"/>
<circle cx="911.6" cy="228.6" r="1.15"/>
<circle cx="921.4" cy="228.6" r="1.15"/>
<circle cx="941.1" cy="228.6" r="1.15"/>
<circle cx="980.3" cy="228.6" r="1.15"/>
<circle cx="740.0" cy="233.5" r="1.15"/>
<circle cx="779.2" cy="233.5" r="1.15"/>
<circle cx="789.0" cy="233.5" r="1.15"/>
<circle cx="798.9" cy="233.5" r="1.15"/>
<circle cx="828.3" cy="233.5" r="1.15"/>
<circle cx="838.1" cy="233.5" r="1.15"/>
<circle cx="847.9" cy="233.5" r="1.15"/>
<circle cx="857.7" cy="233.5" r="1.15"/>
<circle cx="867.5" cy="233.5" r="1.15"/>
<circle cx="887.1" cy="233.5" r="1.15"/>
<circle cx="896.9" cy="233.5" r="1.15"/>
<circle cx="906.7" cy="233.5" r="1.15"/>
<circle cx="916.5" cy="233.5" r="1.15"/>
<circle cx="936.2" cy="233.5" r="1.15"/>
<circle cx="946.0" cy="233.5" r="1.15"/>
<circle cx="774.3" cy="238.4" r="1.15"/>
<circle cx="784.1" cy="238.4" r="1.15"/>
<circle cx="794.0" cy="238.4" r="1.15"/>
<circle cx="833.2" cy="238.4" r="1.15"/>
<circle cx="843.0" cy="238.4" r="1.15"/>
<circle cx="852.8" cy="238.4" r="1.15"/>
<circle cx="862.6" cy="238.4" r="1.15"/>
<circle cx="872.4" cy="238.4" r="1.15"/>
<circle cx="892.0" cy="238.4" r="1.15"/>
<circle cx="901.8" cy="238.4" r="1.15"/>
<circle cx="911.6" cy="238.4" r="1.15"/>
<circle cx="931.2" cy="238.4" r="1.15"/>
<circle cx="941.1" cy="238.4" r="1.15"/>
<circle cx="950.9" cy="238.4" r="1.15"/>
<circle cx="779.2" cy="243.3" r="1.15"/>
<circle cx="789.0" cy="243.3" r="1.15"/>
<circle cx="798.9" cy="243.3" r="1.15"/>
<circle cx="828.3" cy="243.3" r="1.15"/>
<circle cx="838.1" cy="243.3" r="1.15"/>
<circle cx="847.9" cy="243.3" r="1.15"/>
<circle cx="857.7" cy="243.3" r="1.15"/>
<circle cx="867.5" cy="243.3" r="1.15"/>
<circle cx="896.9" cy="243.3" r="1.15"/>
<circle cx="906.7" cy="243.3" r="1.15"/>
<circle cx="926.3" cy="243.3" r="1.15"/>
<circle cx="936.2" cy="243.3" r="1.15"/>
<circle cx="946.0" cy="243.3" r="1.15"/>
<circle cx="955.8" cy="243.3" r="1.15"/>
<circle cx="774.3" cy="248.2" r="1.15"/>
<circle cx="784.1" cy="248.2" r="1.15"/>
<circle cx="794.0" cy="248.2" r="1.15"/>
<circle cx="833.2" cy="248.2" r="1.15"/>
<circle cx="843.0" cy="248.2" r="1.15"/>
<circle cx="862.6" cy="248.2" r="1.15"/>
<circle cx="872.4" cy="248.2" r="1.15"/>
<circle cx="931.2" cy="248.2" r="1.15"/>
<circle cx="941.1" cy="248.2" r="1.15"/>
<circle cx="950.9" cy="248.2" r="1.15"/>
<circle cx="779.2" cy="253.1" r="1.15"/>
<circle cx="789.0" cy="253.1" r="1.15"/>
<circle cx="798.9" cy="253.1" r="1.15"/>
<circle cx="838.1" cy="253.1" r="1.15"/>
<circle cx="867.5" cy="253.1" r="1.15"/>
<circle cx="926.3" cy="253.1" r="1.15"/>
<circle cx="936.2" cy="253.1" r="1.15"/>
<circle cx="946.0" cy="253.1" r="1.15"/>
<circle cx="955.8" cy="253.1" r="1.15"/>
<circle cx="735.1" cy="258.1" r="1.15"/>
<circle cx="744.9" cy="258.1" r="1.15"/>
<circle cx="774.3" cy="258.1" r="1.15"/>
<circle cx="784.1" cy="258.1" r="1.15"/>
<circle cx="794.0" cy="258.1" r="1.15"/>
<circle cx="921.4" cy="258.1" r="1.15"/>
<circle cx="931.2" cy="258.1" r="1.15"/>
<circle cx="941.1" cy="258.1" r="1.15"/>
<circle cx="950.9" cy="258.1" r="1.15"/>
<circle cx="730.2" cy="263.0" r="1.15"/>
<circle cx="740.0" cy="263.0" r="1.15"/>
<circle cx="749.8" cy="263.0" r="1.15"/>
<circle cx="779.2" cy="263.0" r="1.15"/>
<circle cx="789.0" cy="263.0" r="1.15"/>
<circle cx="926.3" cy="263.0" r="1.15"/>
<circle cx="936.2" cy="263.0" r="1.15"/>
<circle cx="946.0" cy="263.0" r="1.15"/>
<circle cx="955.8" cy="263.0" r="1.15"/>
<circle cx="735.1" cy="267.9" r="1.15"/>
<circle cx="744.9" cy="267.9" r="1.15"/>
<circle cx="784.1" cy="267.9" r="1.15"/>
<circle cx="794.0" cy="267.9" r="1.15"/>
<circle cx="921.4" cy="267.9" r="1.15"/>
<circle cx="931.2" cy="267.9" r="1.15"/>
<circle cx="941.1" cy="267.9" r="1.15"/>
<circle cx="950.9" cy="267.9" r="1.15"/>
<circle cx="789.0" cy="272.8" r="1.15"/>
<circle cx="926.3" cy="272.8" r="1.15"/>
<circle cx="936.2" cy="272.8" r="1.15"/>
<circle cx="946.0" cy="272.8" r="1.15"/>
<circle cx="955.8" cy="272.8" r="1.15"/>
<circle cx="921.4" cy="277.7" r="1.15"/>
<circle cx="931.2" cy="277.7" r="1.15"/>
<circle cx="941.1" cy="277.7" r="1.15"/>
<circle cx="950.9" cy="277.7" r="1.15"/>
<circle cx="926.3" cy="282.6" r="1.15"/>
<circle cx="936.2" cy="282.6" r="1.15"/>
<circle cx="946.0" cy="282.6" r="1.15"/>
<circle cx="955.8" cy="282.6" r="1.15"/>
<circle cx="931.2" cy="287.5" r="1.15"/>
<circle cx="941.1" cy="287.5" r="1.15"/>
<circle cx="950.9" cy="287.5" r="1.15"/>
<circle cx="926.3" cy="292.4" r="1.15"/>
<circle cx="936.2" cy="292.4" r="1.15"/>
<circle cx="946.0" cy="292.4" r="1.15"/>
<circle cx="784.1" cy="297.3" r="1.15"/>
<circle cx="794.0" cy="297.3" r="1.15"/>
<circle cx="931.2" cy="297.3" r="1.15"/>
<circle cx="941.1" cy="297.3" r="1.15"/>
<circle cx="950.9" cy="297.3" r="1.15"/>
<circle cx="789.0" cy="302.2" r="1.15"/>
<circle cx="798.9" cy="302.2" r="1.15"/>
<circle cx="936.2" cy="302.2" r="1.15"/>
<circle cx="946.0" cy="302.2" r="1.15"/>
</g>
<line x1="718.4" x2="1001.2" y1="234.0" y2="234.0" stroke="#f5221c" stroke-width="2.7" stroke-dasharray="8.8 2.2"/>
<line x1="718.4" x2="1001.2" y1="263.8" y2="263.8" stroke="#1f1fe6" stroke-width="2.7" stroke-dasharray="8.8 2.2"/>
<line x1="718.4" x2="1001.2" y1="293.1" y2="293.1" stroke="#f03cc0" stroke-width="2.7" stroke-dasharray="8.8 2.2"/>
</g>
<text x="723.6" y="199.0" font-family="Liberation Sans, Arial, sans-serif" font-size="18.2" fill="#2222e2">f)d<tspan font-size="11.3" dy="-6.2">18</tspan><tspan dy="6.2">O</tspan><tspan font-size="11.3" dy="3.5">vp</tspan><tspan dy="-3.5">-based PDV (iCESM 001)</tspan></text>
<rect x="718.4" y="181.5" width="282.8" height="132.9" fill="none" stroke="#000" stroke-width="2"/>
<rect x="1001.2" y="181.5" width="133.2" height="132.9" fill="#fff" stroke="#000" stroke-width="2"/>
<line x1="718.4" x2="718.4" y1="181.5" y2="175.9" stroke="#000" stroke-width="1.5"/>
<line x1="718.4" x2="718.4" y1="314.4" y2="320.0" stroke="#000" stroke-width="1.5"/>
<line x1="732.5" x2="732.5" y1="181.5" y2="178.7" stroke="#000" stroke-width="1"/>
<line x1="732.5" x2="732.5" y1="314.4" y2="317.2" stroke="#000" stroke-width="1"/>
<line x1="746.7" x2="746.7" y1="181.5" y2="178.7" stroke="#000" stroke-width="1"/>
<line x1="746.7" x2="746.7" y1="314.4" y2="317.2" stroke="#000" stroke-width="1"/>
<line x1="760.8" x2="760.8" y1="181.5" y2="178.7" stroke="#000" stroke-width="1"/>
<line x1="760.8" x2="760.8" y1="314.4" y2="317.2" stroke="#000" stroke-width="1"/>
<line x1="775.0" x2="775.0" y1="181.5" y2="175.9" stroke="#000" stroke-width="1.5"/>
<line x1="775.0" x2="775.0" y1="314.4" y2="320.0" stroke="#000" stroke-width="1.5"/>
<line x1="789.1" x2="789.1" y1="181.5" y2="178.7" stroke="#000" stroke-width="1"/>
<line x1="789.1" x2="789.1" y1="314.4" y2="317.2" stroke="#000" stroke-width="1"/>
<line x1="803.2" x2="803.2" y1="181.5" y2="178.7" stroke="#000" stroke-width="1"/>
<line x1="803.2" x2="803.2" y1="314.4" y2="317.2" stroke="#000" stroke-width="1"/>
<line x1="817.4" x2="817.4" y1="181.5" y2="178.7" stroke="#000" stroke-width="1"/>
<line x1="817.4" x2="817.4" y1="314.4" y2="317.2" stroke="#000" stroke-width="1"/>
<line x1="831.5" x2="831.5" y1="181.5" y2="175.9" stroke="#000" stroke-width="1.5"/>
<line x1="831.5" x2="831.5" y1="314.4" y2="320.0" stroke="#000" stroke-width="1.5"/>
<line x1="845.7" x2="845.7" y1="181.5" y2="178.7" stroke="#000" stroke-width="1"/>
<line x1="845.7" x2="845.7" y1="314.4" y2="317.2" stroke="#000" stroke-width="1"/>
<line x1="859.8" x2="859.8" y1="181.5" y2="178.7" stroke="#000" stroke-width="1"/>
<line x1="859.8" x2="859.8" y1="314.4" y2="317.2" stroke="#000" stroke-width="1"/>
<line x1="873.9" x2="873.9" y1="181.5" y2="178.7" stroke="#000" stroke-width="1"/>
<line x1="873.9" x2="873.9" y1="314.4" y2="317.2" stroke="#000" stroke-width="1"/>
<line x1="888.1" x2="888.1" y1="181.5" y2="175.9" stroke="#000" stroke-width="1.5"/>
<line x1="888.1" x2="888.1" y1="314.4" y2="320.0" stroke="#000" stroke-width="1.5"/>
<line x1="902.2" x2="902.2" y1="181.5" y2="178.7" stroke="#000" stroke-width="1"/>
<line x1="902.2" x2="902.2" y1="314.4" y2="317.2" stroke="#000" stroke-width="1"/>
<line x1="916.4" x2="916.4" y1="181.5" y2="178.7" stroke="#000" stroke-width="1"/>
<line x1="916.4" x2="916.4" y1="314.4" y2="317.2" stroke="#000" stroke-width="1"/>
<line x1="930.5" x2="930.5" y1="181.5" y2="178.7" stroke="#000" stroke-width="1"/>
<line x1="930.5" x2="930.5" y1="314.4" y2="317.2" stroke="#000" stroke-width="1"/>
<line x1="944.6" x2="944.6" y1="181.5" y2="175.9" stroke="#000" stroke-width="1.5"/>
<line x1="944.6" x2="944.6" y1="314.4" y2="320.0" stroke="#000" stroke-width="1.5"/>
<line x1="958.8" x2="958.8" y1="181.5" y2="178.7" stroke="#000" stroke-width="1"/>
<line x1="958.8" x2="958.8" y1="314.4" y2="317.2" stroke="#000" stroke-width="1"/>
<line x1="972.9" x2="972.9" y1="181.5" y2="178.7" stroke="#000" stroke-width="1"/>
<line x1="972.9" x2="972.9" y1="314.4" y2="317.2" stroke="#000" stroke-width="1"/>
<line x1="987.1" x2="987.1" y1="181.5" y2="178.7" stroke="#000" stroke-width="1"/>
<line x1="987.1" x2="987.1" y1="314.4" y2="317.2" stroke="#000" stroke-width="1"/>
<line x1="1001.2" x2="1001.2" y1="181.5" y2="175.9" stroke="#000" stroke-width="1.5"/>
<line x1="1001.2" x2="1001.2" y1="314.4" y2="320.0" stroke="#000" stroke-width="1.5"/>
<line x1="1001.2" x2="1001.2" y1="181.5" y2="175.9" stroke="#000" stroke-width="1.5"/>
<line x1="1001.2" x2="1001.2" y1="314.4" y2="320.0" stroke="#000" stroke-width="1.5"/>
<line x1="1010.1" x2="1010.1" y1="181.5" y2="178.7" stroke="#000" stroke-width="1"/>
<line x1="1010.1" x2="1010.1" y1="314.4" y2="317.2" stroke="#000" stroke-width="1"/>
<line x1="1019.0" x2="1019.0" y1="181.5" y2="178.7" stroke="#000" stroke-width="1"/>
<line x1="1019.0" x2="1019.0" y1="314.4" y2="317.2" stroke="#000" stroke-width="1"/>
<line x1="1027.8" x2="1027.8" y1="181.5" y2="175.9" stroke="#000" stroke-width="1.5"/>
<line x1="1027.8" x2="1027.8" y1="314.4" y2="320.0" stroke="#000" stroke-width="1.5"/>
<line x1="1036.7" x2="1036.7" y1="181.5" y2="178.7" stroke="#000" stroke-width="1"/>
<line x1="1036.7" x2="1036.7" y1="314.4" y2="317.2" stroke="#000" stroke-width="1"/>
<line x1="1045.6" x2="1045.6" y1="181.5" y2="178.7" stroke="#000" stroke-width="1"/>
<line x1="1045.6" x2="1045.6" y1="314.4" y2="317.2" stroke="#000" stroke-width="1"/>
<line x1="1054.5" x2="1054.5" y1="181.5" y2="175.9" stroke="#000" stroke-width="1.5"/>
<line x1="1054.5" x2="1054.5" y1="314.4" y2="320.0" stroke="#000" stroke-width="1.5"/>
<line x1="1063.4" x2="1063.4" y1="181.5" y2="178.7" stroke="#000" stroke-width="1"/>
<line x1="1063.4" x2="1063.4" y1="314.4" y2="317.2" stroke="#000" stroke-width="1"/>
<line x1="1072.2" x2="1072.2" y1="181.5" y2="178.7" stroke="#000" stroke-width="1"/>
<line x1="1072.2" x2="1072.2" y1="314.4" y2="317.2" stroke="#000" stroke-width="1"/>
<line x1="1081.1" x2="1081.1" y1="181.5" y2="175.9" stroke="#000" stroke-width="1.5"/>
<line x1="1081.1" x2="1081.1" y1="314.4" y2="320.0" stroke="#000" stroke-width="1.5"/>
<line x1="1090.0" x2="1090.0" y1="181.5" y2="178.7" stroke="#000" stroke-width="1"/>
<line x1="1090.0" x2="1090.0" y1="314.4" y2="317.2" stroke="#000" stroke-width="1"/>
<line x1="1098.9" x2="1098.9" y1="181.5" y2="178.7" stroke="#000" stroke-width="1"/>
<line x1="1098.9" x2="1098.9" y1="314.4" y2="317.2" stroke="#000" stroke-width="1"/>
<line x1="1107.8" x2="1107.8" y1="181.5" y2="175.9" stroke="#000" stroke-width="1.5"/>
<line x1="1107.8" x2="1107.8" y1="314.4" y2="320.0" stroke="#000" stroke-width="1.5"/>
<line x1="1116.6" x2="1116.6" y1="181.5" y2="178.7" stroke="#000" stroke-width="1"/>
<line x1="1116.6" x2="1116.6" y1="314.4" y2="317.2" stroke="#000" stroke-width="1"/>
<line x1="1125.5" x2="1125.5" y1="181.5" y2="178.7" stroke="#000" stroke-width="1"/>
<line x1="1125.5" x2="1125.5" y1="314.4" y2="317.2" stroke="#000" stroke-width="1"/>
<line x1="1134.4" x2="1134.4" y1="181.5" y2="175.9" stroke="#000" stroke-width="1.5"/>
<line x1="1134.4" x2="1134.4" y1="314.4" y2="320.0" stroke="#000" stroke-width="1.5"/>
<line x1="715.4" x2="718.4" y1="182.2" y2="182.2" stroke="#000" stroke-width="1"/>
<line x1="1001.2" x2="1003.6" y1="182.2" y2="182.2" stroke="#000" stroke-width="1"/>
<line x1="715.4" x2="718.4" y1="188.9" y2="188.9" stroke="#000" stroke-width="1"/>
<line x1="1001.2" x2="1003.6" y1="188.9" y2="188.9" stroke="#000" stroke-width="1"/>
<line x1="715.4" x2="718.4" y1="194.6" y2="194.6" stroke="#000" stroke-width="1"/>
<line x1="1001.2" x2="1003.6" y1="194.6" y2="194.6" stroke="#000" stroke-width="1"/>
<line x1="715.4" x2="718.4" y1="199.7" y2="199.7" stroke="#000" stroke-width="1"/>
<line x1="1001.2" x2="1003.6" y1="199.7" y2="199.7" stroke="#000" stroke-width="1"/>
<line x1="715.4" x2="718.4" y1="204.2" y2="204.2" stroke="#000" stroke-width="1"/>
<line x1="1001.2" x2="1003.6" y1="204.2" y2="204.2" stroke="#000" stroke-width="1"/>
<line x1="712.9" x2="718.4" y1="234.0" y2="234.0" stroke="#000" stroke-width="1.5"/>
<line x1="1001.2" x2="1005.6" y1="234.0" y2="234.0" stroke="#000" stroke-width="1.4"/>
<text x="702.2" y="239.4" font-family="Liberation Sans, Arial, sans-serif" font-size="15.4" fill="#222" text-anchor="end">20</text>
<line x1="715.4" x2="718.4" y1="251.4" y2="251.4" stroke="#000" stroke-width="1"/>
<line x1="1001.2" x2="1003.6" y1="251.4" y2="251.4" stroke="#000" stroke-width="1"/>
<line x1="715.4" x2="718.4" y1="263.8" y2="263.8" stroke="#000" stroke-width="1"/>
<line x1="1001.2" x2="1003.6" y1="263.8" y2="263.8" stroke="#000" stroke-width="1"/>
<line x1="715.4" x2="718.4" y1="273.4" y2="273.4" stroke="#000" stroke-width="1"/>
<line x1="1001.2" x2="1003.6" y1="273.4" y2="273.4" stroke="#000" stroke-width="1"/>
<line x1="712.9" x2="718.4" y1="281.2" y2="281.2" stroke="#000" stroke-width="1.5"/>
<line x1="1001.2" x2="1005.6" y1="281.2" y2="281.2" stroke="#000" stroke-width="1.4"/>
<text x="702.2" y="286.6" font-family="Liberation Sans, Arial, sans-serif" font-size="15.4" fill="#222" text-anchor="end">60</text>
<line x1="715.4" x2="718.4" y1="287.9" y2="287.9" stroke="#000" stroke-width="1"/>
<line x1="1001.2" x2="1003.6" y1="287.9" y2="287.9" stroke="#000" stroke-width="1"/>
<line x1="715.4" x2="718.4" y1="293.6" y2="293.6" stroke="#000" stroke-width="1"/>
<line x1="1001.2" x2="1003.6" y1="293.6" y2="293.6" stroke="#000" stroke-width="1"/>
<line x1="715.4" x2="718.4" y1="298.7" y2="298.7" stroke="#000" stroke-width="1"/>
<line x1="1001.2" x2="1003.6" y1="298.7" y2="298.7" stroke="#000" stroke-width="1"/>
<line x1="712.9" x2="718.4" y1="303.2" y2="303.2" stroke="#000" stroke-width="1.5"/>
<line x1="1001.2" x2="1005.6" y1="303.2" y2="303.2" stroke="#000" stroke-width="1.4"/>
<text x="702.2" y="308.6" font-family="Liberation Sans, Arial, sans-serif" font-size="15.4" fill="#222" text-anchor="end">100</text>
<line x1="715.4" x2="718.4" y1="307.3" y2="307.3" stroke="#000" stroke-width="1"/>
<line x1="1001.2" x2="1003.6" y1="307.3" y2="307.3" stroke="#000" stroke-width="1"/>
<line x1="715.4" x2="718.4" y1="311.0" y2="311.0" stroke="#000" stroke-width="1"/>
<line x1="1001.2" x2="1003.6" y1="311.0" y2="311.0" stroke="#000" stroke-width="1"/>
<text transform="translate(665.0,248.1) rotate(-90)" font-family="Liberation Sans, Arial, sans-serif" font-size="16.7" fill="#1c1c1c" text-anchor="middle">Period(years)</text>
<line x1="1013.2" x2="1130.4" y1="234.0" y2="234.0" stroke="#666" stroke-width="1.2" stroke-dasharray="4.7 6"/>
<line x1="1013.2" x2="1130.4" y1="263.8" y2="263.8" stroke="#666" stroke-width="1.2" stroke-dasharray="4.7 6"/>
<line x1="1013.2" x2="1130.4" y1="293.1" y2="293.1" stroke="#666" stroke-width="1.2" stroke-dasharray="4.7 6"/>
<g clip-path="url(#csf)">
<polyline points="1003.7,182.6 1005.2,196.2 1011.3,214.3 1023.3,229.3 1038.4,241.4 1056.5,252.0 1080.6,262.5 1104.7,270.0 1128.8,277.6 1134.3,279.7" fill="none" stroke="#e8141c" stroke-width="2.6" stroke-dasharray="3.4 1.2"/>
<polyline points="1002.2,182.6 1002.8,202.2 1005.2,209.7 1015.8,218.8 1032.4,227.8 1055.0,239.9 1055.0,247.4 1041.4,255.0 1064.0,264.0 1067.0,270.0 1052.0,276.1 1054.1,283.6 1080.6,292.6 1101.1,299.3 1086.0,307.7 1091.1,313.8" fill="none" stroke="#000" stroke-width="2.7" stroke-linejoin="miter"/>
</g>
<g clip-path="url(#cpg)">
<g filter="url(#cm)">
<rect x="703.4" y="329.9" width="312.8" height="162.9" fill="#000000"/>
<g filter="url(#bl)">
<rect x="703.4" y="329.9" width="312.8" height="162.9" fill="#000000"/>
<ellipse cx="732.0" cy="415.0" rx="14.0" ry="22.0" fill="#212121"/>
<ellipse cx="745.0" cy="392.0" rx="10.0" ry="8.0" fill="#1d1d1d"/>
<ellipse cx="791.0" cy="395.0" rx="7.0" ry="20.0" fill="#303030"/>
<ellipse cx="772.0" cy="425.0" rx="16.0" ry="8.0" fill="#212121"/>
<ellipse cx="812.0" cy="385.0" rx="22.0" ry="10.0" fill="#1d1d1d"/>
<ellipse cx="852.0" cy="396.0" rx="9.0" ry="16.0" fill="#2b2b2b"/>
<ellipse cx="869.0" cy="384.0" rx="4.0" ry="10.0" fill="#2b2b2b"/>
<ellipse cx="900.0" cy="402.0" rx="14.0" ry="10.0" fill="#1d1d1d"/>
<ellipse cx="928.0" cy="396.0" rx="7.0" ry="20.0" fill="#303030"/>
<ellipse cx="950.0" cy="386.0" rx="6.0" ry="14.0" fill="#2b2b2b"/>
<ellipse cx="985.0" cy="380.0" rx="12.0" ry="7.0" fill="#1d1d1d"/>
<ellipse cx="990.0" cy="412.0" rx="10.0" ry="16.0" fill="#2b2b2b"/>
<ellipse cx="842.0" cy="436.0" rx="32.0" ry="8.0" fill="#252525"/>
<ellipse cx="800.0" cy="457.0" rx="22.0" ry="6.0" fill="#252525"/>
<ellipse cx="884.0" cy="442.0" rx="22.0" ry="8.0" fill="#2b2b2b"/>
<ellipse cx="832.0" cy="412.0" rx="18.0" ry="8.0" fill="#252525"/>
<ellipse cx="940.0" cy="420.0" rx="22.0" ry="12.0" fill="#252525"/>
<ellipse cx="745.0" cy="455.0" rx="20.0" ry="8.0" fill="#1d1d1d"/>
<ellipse cx="970.0" cy="395.0" rx="10.0" ry="12.0" fill="#1d1d1d"/>
</g>
<g filter="url(#bl2)">
<ellipse cx="719.5" cy="431.0" rx="11.0" ry="13.0" fill="#3e3e3e"/>
<ellipse cx="775.0" cy="473.0" rx="30.0" ry="12.5" fill="#3e3e3e"/>
<ellipse cx="789.0" cy="443.0" rx="34.5" ry="14.5" fill="#3e3e3e"/>
<ellipse cx="789.0" cy="443.0" rx="33.0" ry="15.0" fill="#3e3e3e" transform="rotate(6 789.0 443.0)"/>
<ellipse cx="796.0" cy="442.5" rx="22.0" ry="12.0" fill="#3e3e3e" transform="rotate(8 796.0 442.5)"/>
<ellipse cx="905.0" cy="466.0" rx="34.5" ry="8.5" fill="#3e3e3e"/>
<ellipse cx="862.0" cy="462.5" rx="42.0" ry="13.0" fill="#3e3e3e"/>
<ellipse cx="866.0" cy="463.0" rx="30.0" ry="11.0" fill="#3e3e3e"/>
<ellipse cx="841.0" cy="408.5" rx="16.0" ry="13.5" fill="#3e3e3e" transform="rotate(-30 841.0 408.5)"/>
<ellipse cx="841.5" cy="408.5" rx="12.0" ry="11.0" fill="#3e3e3e" transform="rotate(-30 841.5 408.5)"/>
<ellipse cx="928.5" cy="408.0" rx="8.0" ry="14.5" fill="#3e3e3e"/>
<ellipse cx="953.5" cy="408.0" rx="12.0" ry="16.0" fill="#3e3e3e"/>
<ellipse cx="889.0" cy="433.5" rx="11.5" ry="8.5" fill="#3e3e3e"/>
<ellipse cx="957.0" cy="444.0" rx="25.0" ry="17.0" fill="#3e3e3e"/>
<ellipse cx="954.0" cy="444.0" rx="19.0" ry="14.0" fill="#3e3e3e"/>
<polyline points="950.0,452.0 957.0,465.0 966.0,478.0" fill="none" stroke="#3e3e3e" stroke-width="25.0" stroke-linecap="round" stroke-linejoin="round"/>
<polyline points="972.0,446.0 988.0,441.0 998.0,432.0" fill="none" stroke="#3e3e3e" stroke-width="25.0" stroke-linecap="round" stroke-linejoin="round"/>
<ellipse cx="996.0" cy="428.0" rx="11.5" ry="16.0" fill="#3e3e3e"/>
<ellipse cx="985.0" cy="468.0" rx="18.5" ry="12.5" fill="#3e3e3e"/>
<ellipse cx="719.5" cy="431.0" rx="7.5" ry="9.5" fill="#6b6b6b"/>
<ellipse cx="775.0" cy="473.0" rx="26.5" ry="9.0" fill="#6b6b6b"/>
<ellipse cx="789.0" cy="443.0" rx="29.5" ry="11.5" fill="#6b6b6b" transform="rotate(6 789.0 443.0)"/>
<ellipse cx="796.0" cy="442.5" rx="18.5" ry="8.5" fill="#6b6b6b" transform="rotate(8 796.0 442.5)"/>
<ellipse cx="862.0" cy="462.5" rx="38.5" ry="9.5" fill="#6b6b6b"/>
<ellipse cx="866.0" cy="463.0" rx="26.5" ry="7.5" fill="#6b6b6b"/>
<ellipse cx="841.0" cy="408.5" rx="12.5" ry="10.0" fill="#6b6b6b" transform="rotate(-30 841.0 408.5)"/>
<ellipse cx="841.5" cy="408.5" rx="8.5" ry="7.5" fill="#6b6b6b" transform="rotate(-30 841.5 408.5)"/>
<ellipse cx="953.5" cy="408.0" rx="8.5" ry="12.5" fill="#6b6b6b"/>
<ellipse cx="957.0" cy="444.0" rx="21.5" ry="13.5" fill="#6b6b6b"/>
<ellipse cx="954.0" cy="444.0" rx="15.5" ry="10.5" fill="#6b6b6b"/>
<polyline points="950.0,452.0 957.0,465.0 966.0,478.0" fill="none" stroke="#6b6b6b" stroke-width="18.0" stroke-linecap="round" stroke-linejoin="round"/>
<polyline points="972.0,446.0 988.0,441.0 998.0,432.0" fill="none" stroke="#6b6b6b" stroke-width="18.0" stroke-linecap="round" stroke-linejoin="round"/>
<ellipse cx="996.0" cy="428.0" rx="8.0" ry="12.5" fill="#6b6b6b"/>
</g>
<polyline points="712.0,471.0 1008.0,471.0" fill="none" stroke="#676767" stroke-width="13.0" stroke-linecap="round" stroke-linejoin="round"/>
<ellipse cx="722.0" cy="431.0" rx="7.0" ry="10.0" fill="#606060"/>
<ellipse cx="719.5" cy="431.0" rx="3.0" ry="5.0" fill="#ffffff"/>
<ellipse cx="775.0" cy="473.0" rx="22.0" ry="4.5" fill="#c5c5c5"/>
<ellipse cx="789.0" cy="443.0" rx="30.0" ry="10.0" fill="#727272"/>
<ellipse cx="789.0" cy="443.0" rx="25.0" ry="7.0" fill="#acacac" transform="rotate(6 789.0 443.0)"/>
<ellipse cx="796.0" cy="442.5" rx="14.0" ry="4.0" fill="#ffffff" transform="rotate(8 796.0 442.5)"/>
<ellipse cx="905.0" cy="466.0" rx="30.0" ry="4.0" fill="#a8a8a8"/>
<ellipse cx="862.0" cy="462.5" rx="34.0" ry="5.0" fill="#c3c3c3"/>
<ellipse cx="866.0" cy="463.0" rx="22.0" ry="3.0" fill="#ffffff"/>
<ellipse cx="793.0" cy="412.0" rx="3.5" ry="5.0" fill="#949494"/>
<polyline points="816.0,415.0 834.0,411.0" fill="none" stroke="#9e9e9e" stroke-width="5.0" stroke-linecap="round" stroke-linejoin="round"/>
<polyline points="848.0,400.0 855.0,386.0" fill="none" stroke="#595959" stroke-width="5.0" stroke-linecap="round" stroke-linejoin="round"/>
<ellipse cx="841.0" cy="408.5" rx="8.0" ry="5.5" fill="#b7b7b7" transform="rotate(-30 841.0 408.5)"/>
<ellipse cx="841.5" cy="408.5" rx="4.0" ry="3.0" fill="#ffffff" transform="rotate(-30 841.5 408.5)"/>
<ellipse cx="928.5" cy="408.0" rx="3.5" ry="10.0" fill="#9b9b9b"/>
<ellipse cx="951.0" cy="388.0" rx="3.0" ry="10.0" fill="#595959"/>
<ellipse cx="953.5" cy="408.0" rx="4.0" ry="8.0" fill="#ededed"/>
<ellipse cx="889.0" cy="433.5" rx="7.0" ry="4.0" fill="#bdbdbd"/>
<polyline points="877.0,432.0 910.0,436.0 938.0,442.0" fill="none" stroke="#7f7f7f" stroke-width="8.0" stroke-linecap="round" stroke-linejoin="round"/>
<ellipse cx="957.0" cy="444.0" rx="17.0" ry="9.0" fill="#bcbcbc"/>
<ellipse cx="954.0" cy="444.0" rx="11.0" ry="6.0" fill="#ffffff"/>
<polyline points="950.0,452.0 957.0,465.0 966.0,478.0" fill="none" stroke="#cbcbcb" stroke-width="9.0" stroke-linecap="round" stroke-linejoin="round"/>
<polyline points="972.0,446.0 988.0,441.0 998.0,432.0" fill="none" stroke="#bcbcbc" stroke-width="9.0" stroke-linecap="round" stroke-linejoin="round"/>
<ellipse cx="996.0" cy="428.0" rx="3.5" ry="8.0" fill="#f8f8f8"/>
<ellipse cx="985.0" cy="468.0" rx="14.0" ry="8.0" fill="#959595"/>
</g>
<g stroke="#1a1a1a" stroke-width="0.9">
<line x1="760.8" x2="760.8" y1="344.9" y2="477.8"/>
<line x1="803.2" x2="803.2" y1="344.9" y2="477.8"/>
<line x1="760.8" y1="331.8" x2="803.2" y2="349.2"/>
<line x1="760.8" y1="345.7" x2="803.2" y2="363.1"/>
<line x1="760.8" y1="359.6" x2="803.2" y2="377.0"/>
<line x1="760.8" y1="373.5" x2="803.2" y2="390.9"/>
<line x1="760.8" y1="387.4" x2="803.2" y2="404.8"/>
<line x1="760.8" y1="401.3" x2="803.2" y2="418.7"/>
<line x1="760.8" y1="415.2" x2="803.2" y2="432.6"/>
<line x1="760.8" y1="429.2" x2="803.2" y2="446.6"/>
<line x1="760.8" y1="443.1" x2="803.2" y2="460.5"/>
<line x1="760.8" y1="457.0" x2="803.2" y2="474.4"/>
<line x1="760.8" y1="470.9" x2="803.2" y2="488.3"/>
</g>
<g stroke="#1a1a1a" stroke-width="0.9">
<line x1="873.9" x2="873.9" y1="344.9" y2="477.8"/>
<line x1="958.8" x2="958.8" y1="344.9" y2="477.8"/>
<line x1="873.9" y1="321.8" x2="958.8" y2="356.6"/>
<line x1="873.9" y1="335.7" x2="958.8" y2="370.5"/>
<line x1="873.9" y1="349.6" x2="958.8" y2="384.4"/>
<line x1="873.9" y1="363.5" x2="958.8" y2="398.3"/>
<line x1="873.9" y1="377.4" x2="958.8" y2="412.2"/>
<line x1="873.9" y1="391.3" x2="958.8" y2="426.1"/>
<line x1="873.9" y1="405.2" x2="958.8" y2="440.0"/>
<line x1="873.9" y1="419.1" x2="958.8" y2="453.9"/>
<line x1="873.9" y1="433.1" x2="958.8" y2="467.8"/>
<line x1="873.9" y1="447.0" x2="958.8" y2="481.8"/>
<line x1="873.9" y1="460.9" x2="958.8" y2="495.7"/>
<line x1="873.9" y1="474.8" x2="958.8" y2="509.6"/>
</g>
<polyline points="718.9,344.9 720.0,354.9 721.2,364.5 722.6,375.9 724.2,387.0 726.5,398.9 729.3,409.4 732.2,420.0 735.5,429.9 739.2,440.0 743.6,450.3 747.9,458.5 752.8,466.6 756.7,472.5 761.0,478.0 762.4,480.0" fill="none" stroke="#5a5a5a" stroke-width="1.9"/>
<polyline points="1000.7,344.9 999.6,354.9 998.4,364.5 997.0,375.9 995.4,387.0 993.1,398.9 990.3,409.4 987.4,420.0 984.1,429.9 980.4,440.0 976.0,450.3 971.7,458.5 966.8,466.6 962.9,472.5 958.6,478.0 957.2,480.0" fill="none" stroke="#5a5a5a" stroke-width="1.9"/>
<line x1="719.1" y1="411.4" x2="733.4" y2="436.4" stroke="#555" stroke-width="1.1"/>
<line x1="719.1" y1="446.2" x2="733.4" y2="436.4" stroke="#555" stroke-width="1.1"/>
<line x1="719.1" y1="467.6" x2="728.3" y2="480.9" stroke="#555" stroke-width="1.1"/>
<line x1="750.8" y1="480.9" x2="760.6" y2="467.6" stroke="#555" stroke-width="1.1"/>
<line x1="733.4" y1="436.4" x2="740.4" y2="444.0" stroke="#555" stroke-width="1.1"/>
<line x1="1000.5" y1="411.4" x2="986.2" y2="436.4" stroke="#555" stroke-width="1.1"/>
<line x1="1000.5" y1="446.2" x2="986.2" y2="436.4" stroke="#555" stroke-width="1.1"/>
<line x1="1000.5" y1="467.6" x2="991.3" y2="480.9" stroke="#555" stroke-width="1.1"/>
<line x1="968.8" y1="480.9" x2="959.0" y2="467.6" stroke="#555" stroke-width="1.1"/>
<line x1="986.2" y1="436.4" x2="979.2" y2="444.0" stroke="#555" stroke-width="1.1"/>
<g fill="#111">
<circle cx="852.8" cy="372.4" r="1.15"/>
<circle cx="730.2" cy="377.3" r="1.15"/>
<circle cx="740.0" cy="377.3" r="1.15"/>
<circle cx="789.0" cy="377.3" r="1.15"/>
<circle cx="798.9" cy="377.3" r="1.15"/>
<circle cx="808.7" cy="377.3" r="1.15"/>
<circle cx="818.5" cy="377.3" r="1.15"/>
<circle cx="847.9" cy="377.3" r="1.15"/>
<circle cx="857.7" cy="377.3" r="1.15"/>
<circle cx="946.0" cy="377.3" r="1.15"/>
<circle cx="975.4" cy="377.3" r="1.15"/>
<circle cx="985.2" cy="377.3" r="1.15"/>
<circle cx="995.0" cy="377.3" r="1.15"/>
<circle cx="735.1" cy="382.2" r="1.15"/>
<circle cx="794.0" cy="382.2" r="1.15"/>
<circle cx="803.8" cy="382.2" r="1.15"/>
<circle cx="813.6" cy="382.2" r="1.15"/>
<circle cx="823.4" cy="382.2" r="1.15"/>
<circle cx="852.8" cy="382.2" r="1.15"/>
<circle cx="862.6" cy="382.2" r="1.15"/>
<circle cx="950.9" cy="382.2" r="1.15"/>
<circle cx="980.3" cy="382.2" r="1.15"/>
<circle cx="990.1" cy="382.2" r="1.15"/>
<circle cx="730.2" cy="387.1" r="1.15"/>
<circle cx="740.0" cy="387.1" r="1.15"/>
<circle cx="789.0" cy="387.1" r="1.15"/>
<circle cx="798.9" cy="387.1" r="1.15"/>
<circle cx="808.7" cy="387.1" r="1.15"/>
<circle cx="818.5" cy="387.1" r="1.15"/>
<circle cx="828.3" cy="387.1" r="1.15"/>
<circle cx="857.7" cy="387.1" r="1.15"/>
<circle cx="926.3" cy="387.1" r="1.15"/>
<circle cx="946.0" cy="387.1" r="1.15"/>
<circle cx="955.8" cy="387.1" r="1.15"/>
<circle cx="985.2" cy="387.1" r="1.15"/>
<circle cx="725.3" cy="392.0" r="1.15"/>
<circle cx="735.1" cy="392.0" r="1.15"/>
<circle cx="744.9" cy="392.0" r="1.15"/>
<circle cx="784.1" cy="392.0" r="1.15"/>
<circle cx="794.0" cy="392.0" r="1.15"/>
<circle cx="803.8" cy="392.0" r="1.15"/>
<circle cx="813.6" cy="392.0" r="1.15"/>
<circle cx="823.4" cy="392.0" r="1.15"/>
<circle cx="843.0" cy="392.0" r="1.15"/>
<circle cx="931.2" cy="392.0" r="1.15"/>
<circle cx="941.1" cy="392.0" r="1.15"/>
<circle cx="950.9" cy="392.0" r="1.15"/>
<circle cx="730.2" cy="396.9" r="1.15"/>
<circle cx="740.0" cy="396.9" r="1.15"/>
<circle cx="789.0" cy="396.9" r="1.15"/>
<circle cx="798.9" cy="396.9" r="1.15"/>
<circle cx="808.7" cy="396.9" r="1.15"/>
<circle cx="828.3" cy="396.9" r="1.15"/>
<circle cx="838.1" cy="396.9" r="1.15"/>
<circle cx="847.9" cy="396.9" r="1.15"/>
<circle cx="857.7" cy="396.9" r="1.15"/>
<circle cx="926.3" cy="396.9" r="1.15"/>
<circle cx="946.0" cy="396.9" r="1.15"/>
<circle cx="955.8" cy="396.9" r="1.15"/>
<circle cx="725.3" cy="401.8" r="1.15"/>
<circle cx="735.1" cy="401.8" r="1.15"/>
<circle cx="744.9" cy="401.8" r="1.15"/>
<circle cx="784.1" cy="401.8" r="1.15"/>
<circle cx="794.0" cy="401.8" r="1.15"/>
<circle cx="823.4" cy="401.8" r="1.15"/>
<circle cx="833.2" cy="401.8" r="1.15"/>
<circle cx="843.0" cy="401.8" r="1.15"/>
<circle cx="852.8" cy="401.8" r="1.15"/>
<circle cx="862.6" cy="401.8" r="1.15"/>
<circle cx="931.2" cy="401.8" r="1.15"/>
<circle cx="941.1" cy="401.8" r="1.15"/>
<circle cx="950.9" cy="401.8" r="1.15"/>
<circle cx="960.7" cy="401.8" r="1.15"/>
<circle cx="730.2" cy="406.7" r="1.15"/>
<circle cx="740.0" cy="406.7" r="1.15"/>
<circle cx="789.0" cy="406.7" r="1.15"/>
<circle cx="828.3" cy="406.7" r="1.15"/>
<circle cx="838.1" cy="406.7" r="1.15"/>
<circle cx="847.9" cy="406.7" r="1.15"/>
<circle cx="857.7" cy="406.7" r="1.15"/>
<circle cx="926.3" cy="406.7" r="1.15"/>
<circle cx="946.0" cy="406.7" r="1.15"/>
<circle cx="955.8" cy="406.7" r="1.15"/>
<circle cx="735.1" cy="411.6" r="1.15"/>
<circle cx="784.1" cy="411.6" r="1.15"/>
<circle cx="794.0" cy="411.6" r="1.15"/>
<circle cx="823.4" cy="411.6" r="1.15"/>
<circle cx="833.2" cy="411.6" r="1.15"/>
<circle cx="843.0" cy="411.6" r="1.15"/>
<circle cx="852.8" cy="411.6" r="1.15"/>
<circle cx="931.2" cy="411.6" r="1.15"/>
<circle cx="941.1" cy="411.6" r="1.15"/>
<circle cx="950.9" cy="411.6" r="1.15"/>
<circle cx="960.7" cy="411.6" r="1.15"/>
<circle cx="789.0" cy="416.5" r="1.15"/>
<circle cx="838.1" cy="416.5" r="1.15"/>
<circle cx="847.9" cy="416.5" r="1.15"/>
<circle cx="946.0" cy="416.5" r="1.15"/>
<circle cx="955.8" cy="416.5" r="1.15"/>
<circle cx="794.0" cy="421.5" r="1.15"/>
<circle cx="941.1" cy="421.5" r="1.15"/>
<circle cx="950.9" cy="421.5" r="1.15"/>
<circle cx="960.7" cy="421.5" r="1.15"/>
<circle cx="946.0" cy="426.4" r="1.15"/>
<circle cx="955.8" cy="426.4" r="1.15"/>
<circle cx="941.1" cy="431.3" r="1.15"/>
<circle cx="950.9" cy="431.3" r="1.15"/>
<circle cx="946.0" cy="436.2" r="1.15"/>
<circle cx="955.8" cy="436.2" r="1.15"/>
<circle cx="784.1" cy="441.1" r="1.15"/>
<circle cx="794.0" cy="441.1" r="1.15"/>
<circle cx="803.8" cy="441.1" r="1.15"/>
<circle cx="941.1" cy="441.1" r="1.15"/>
<circle cx="950.9" cy="441.1" r="1.15"/>
<circle cx="960.7" cy="441.1" r="1.15"/>
<circle cx="789.0" cy="446.0" r="1.15"/>
<circle cx="798.9" cy="446.0" r="1.15"/>
<circle cx="936.2" cy="446.0" r="1.15"/>
<circle cx="946.0" cy="446.0" r="1.15"/>
<circle cx="955.8" cy="446.0" r="1.15"/>
<circle cx="965.6" cy="446.0" r="1.15"/>
<circle cx="950.9" cy="450.9" r="1.15"/>
</g>
<line x1="718.4" x2="1001.2" y1="397.3" y2="397.3" stroke="#f5221c" stroke-width="2.7" stroke-dasharray="8.8 2.2"/>
<line x1="718.4" x2="1001.2" y1="426.8" y2="426.8" stroke="#1f1fe6" stroke-width="2.7" stroke-dasharray="8.8 2.2"/>
<line x1="718.4" x2="1001.2" y1="456.4" y2="456.4" stroke="#f03cc0" stroke-width="2.7" stroke-dasharray="8.8 2.2"/>
</g>
<text x="723.6" y="363.4" font-family="Liberation Sans, Arial, sans-serif" font-size="18.2" fill="#2222e2">g)d<tspan font-size="11.3" dy="-6.2">18</tspan><tspan dy="6.2">O</tspan><tspan font-size="11.3" dy="3.5">vp</tspan><tspan dy="-3.5">-based PDV (iCESM 002)</tspan></text>
<rect x="718.4" y="344.9" width="282.8" height="132.9" fill="none" stroke="#000" stroke-width="2"/>
<rect x="1001.2" y="344.9" width="133.4" height="132.9" fill="#fff" stroke="#000" stroke-width="2"/>
<line x1="718.4" x2="718.4" y1="344.9" y2="339.3" stroke="#000" stroke-width="1.5"/>
<line x1="718.4" x2="718.4" y1="477.8" y2="483.4" stroke="#000" stroke-width="1.5"/>
<line x1="732.5" x2="732.5" y1="344.9" y2="342.1" stroke="#000" stroke-width="1"/>
<line x1="732.5" x2="732.5" y1="477.8" y2="480.6" stroke="#000" stroke-width="1"/>
<line x1="746.7" x2="746.7" y1="344.9" y2="342.1" stroke="#000" stroke-width="1"/>
<line x1="746.7" x2="746.7" y1="477.8" y2="480.6" stroke="#000" stroke-width="1"/>
<line x1="760.8" x2="760.8" y1="344.9" y2="342.1" stroke="#000" stroke-width="1"/>
<line x1="760.8" x2="760.8" y1="477.8" y2="480.6" stroke="#000" stroke-width="1"/>
<line x1="775.0" x2="775.0" y1="344.9" y2="339.3" stroke="#000" stroke-width="1.5"/>
<line x1="775.0" x2="775.0" y1="477.8" y2="483.4" stroke="#000" stroke-width="1.5"/>
<line x1="789.1" x2="789.1" y1="344.9" y2="342.1" stroke="#000" stroke-width="1"/>
<line x1="789.1" x2="789.1" y1="477.8" y2="480.6" stroke="#000" stroke-width="1"/>
<line x1="803.2" x2="803.2" y1="344.9" y2="342.1" stroke="#000" stroke-width="1"/>
<line x1="803.2" x2="803.2" y1="477.8" y2="480.6" stroke="#000" stroke-width="1"/>
<line x1="817.4" x2="817.4" y1="344.9" y2="342.1" stroke="#000" stroke-width="1"/>
<line x1="817.4" x2="817.4" y1="477.8" y2="480.6" stroke="#000" stroke-width="1"/>
<line x1="831.5" x2="831.5" y1="344.9" y2="339.3" stroke="#000" stroke-width="1.5"/>
<line x1="831.5" x2="831.5" y1="477.8" y2="483.4" stroke="#000" stroke-width="1.5"/>
<line x1="845.7" x2="845.7" y1="344.9" y2="342.1" stroke="#000" stroke-width="1"/>
<line x1="845.7" x2="845.7" y1="477.8" y2="480.6" stroke="#000" stroke-width="1"/>
<line x1="859.8" x2="859.8" y1="344.9" y2="342.1" stroke="#000" stroke-width="1"/>
<line x1="859.8" x2="859.8" y1="477.8" y2="480.6" stroke="#000" stroke-width="1"/>
<line x1="873.9" x2="873.9" y1="344.9" y2="342.1" stroke="#000" stroke-width="1"/>
<line x1="873.9" x2="873.9" y1="477.8" y2="480.6" stroke="#000" stroke-width="1"/>
<line x1="888.1" x2="888.1" y1="344.9" y2="339.3" stroke="#000" stroke-width="1.5"/>
<line x1="888.1" x2="888.1" y1="477.8" y2="483.4" stroke="#000" stroke-width="1.5"/>
<line x1="902.2" x2="902.2" y1="344.9" y2="342.1" stroke="#000" stroke-width="1"/>
<line x1="902.2" x2="902.2" y1="477.8" y2="480.6" stroke="#000" stroke-width="1"/>
<line x1="916.4" x2="916.4" y1="344.9" y2="342.1" stroke="#000" stroke-width="1"/>
<line x1="916.4" x2="916.4" y1="477.8" y2="480.6" stroke="#000" stroke-width="1"/>
<line x1="930.5" x2="930.5" y1="344.9" y2="342.1" stroke="#000" stroke-width="1"/>
<line x1="930.5" x2="930.5" y1="477.8" y2="480.6" stroke="#000" stroke-width="1"/>
<line x1="944.6" x2="944.6" y1="344.9" y2="339.3" stroke="#000" stroke-width="1.5"/>
<line x1="944.6" x2="944.6" y1="477.8" y2="483.4" stroke="#000" stroke-width="1.5"/>
<line x1="958.8" x2="958.8" y1="344.9" y2="342.1" stroke="#000" stroke-width="1"/>
<line x1="958.8" x2="958.8" y1="477.8" y2="480.6" stroke="#000" stroke-width="1"/>
<line x1="972.9" x2="972.9" y1="344.9" y2="342.1" stroke="#000" stroke-width="1"/>
<line x1="972.9" x2="972.9" y1="477.8" y2="480.6" stroke="#000" stroke-width="1"/>
<line x1="987.1" x2="987.1" y1="344.9" y2="342.1" stroke="#000" stroke-width="1"/>
<line x1="987.1" x2="987.1" y1="477.8" y2="480.6" stroke="#000" stroke-width="1"/>
<line x1="1001.2" x2="1001.2" y1="344.9" y2="339.3" stroke="#000" stroke-width="1.5"/>
<line x1="1001.2" x2="1001.2" y1="477.8" y2="483.4" stroke="#000" stroke-width="1.5"/>
<line x1="1001.2" x2="1001.2" y1="344.9" y2="339.3" stroke="#000" stroke-width="1.5"/>
<line x1="1001.2" x2="1001.2" y1="477.8" y2="483.4" stroke="#000" stroke-width="1.5"/>
<line x1="1010.1" x2="1010.1" y1="344.9" y2="342.1" stroke="#000" stroke-width="1"/>
<line x1="1010.1" x2="1010.1" y1="477.8" y2="480.6" stroke="#000" stroke-width="1"/>
<line x1="1019.0" x2="1019.0" y1="344.9" y2="342.1" stroke="#000" stroke-width="1"/>
<line x1="1019.0" x2="1019.0" y1="477.8" y2="480.6" stroke="#000" stroke-width="1"/>
<line x1="1027.9" x2="1027.9" y1="344.9" y2="339.3" stroke="#000" stroke-width="1.5"/>
<line x1="1027.9" x2="1027.9" y1="477.8" y2="483.4" stroke="#000" stroke-width="1.5"/>
<line x1="1036.8" x2="1036.8" y1="344.9" y2="342.1" stroke="#000" stroke-width="1"/>
<line x1="1036.8" x2="1036.8" y1="477.8" y2="480.6" stroke="#000" stroke-width="1"/>
<line x1="1045.7" x2="1045.7" y1="344.9" y2="342.1" stroke="#000" stroke-width="1"/>
<line x1="1045.7" x2="1045.7" y1="477.8" y2="480.6" stroke="#000" stroke-width="1"/>
<line x1="1054.6" x2="1054.6" y1="344.9" y2="339.3" stroke="#000" stroke-width="1.5"/>
<line x1="1054.6" x2="1054.6" y1="477.8" y2="483.4" stroke="#000" stroke-width="1.5"/>
<line x1="1063.5" x2="1063.5" y1="344.9" y2="342.1" stroke="#000" stroke-width="1"/>
<line x1="1063.5" x2="1063.5" y1="477.8" y2="480.6" stroke="#000" stroke-width="1"/>
<line x1="1072.3" x2="1072.3" y1="344.9" y2="342.1" stroke="#000" stroke-width="1"/>
<line x1="1072.3" x2="1072.3" y1="477.8" y2="480.6" stroke="#000" stroke-width="1"/>
<line x1="1081.2" x2="1081.2" y1="344.9" y2="339.3" stroke="#000" stroke-width="1.5"/>
<line x1="1081.2" x2="1081.2" y1="477.8" y2="483.4" stroke="#000" stroke-width="1.5"/>
<line x1="1090.1" x2="1090.1" y1="344.9" y2="342.1" stroke="#000" stroke-width="1"/>
<line x1="1090.1" x2="1090.1" y1="477.8" y2="480.6" stroke="#000" stroke-width="1"/>
<line x1="1099.0" x2="1099.0" y1="344.9" y2="342.1" stroke="#000" stroke-width="1"/>
<line x1="1099.0" x2="1099.0" y1="477.8" y2="480.6" stroke="#000" stroke-width="1"/>
<line x1="1107.9" x2="1107.9" y1="344.9" y2="339.3" stroke="#000" stroke-width="1.5"/>
<line x1="1107.9" x2="1107.9" y1="477.8" y2="483.4" stroke="#000" stroke-width="1.5"/>
<line x1="1116.8" x2="1116.8" y1="344.9" y2="342.1" stroke="#000" stroke-width="1"/>
<line x1="1116.8" x2="1116.8" y1="477.8" y2="480.6" stroke="#000" stroke-width="1"/>
<line x1="1125.7" x2="1125.7" y1="344.9" y2="342.1" stroke="#000" stroke-width="1"/>
<line x1="1125.7" x2="1125.7" y1="477.8" y2="480.6" stroke="#000" stroke-width="1"/>
<line x1="1134.6" x2="1134.6" y1="344.9" y2="339.3" stroke="#000" stroke-width="1.5"/>
<line x1="1134.6" x2="1134.6" y1="477.8" y2="483.4" stroke="#000" stroke-width="1.5"/>
<line x1="715.4" x2="718.4" y1="346.1" y2="346.1" stroke="#000" stroke-width="1"/>
<line x1="1001.2" x2="1003.6" y1="346.1" y2="346.1" stroke="#000" stroke-width="1"/>
<line x1="715.4" x2="718.4" y1="352.6" y2="352.6" stroke="#000" stroke-width="1"/>
<line x1="1001.2" x2="1003.6" y1="352.6" y2="352.6" stroke="#000" stroke-width="1"/>
<line x1="715.4" x2="718.4" y1="358.3" y2="358.3" stroke="#000" stroke-width="1"/>
<line x1="1001.2" x2="1003.6" y1="358.3" y2="358.3" stroke="#000" stroke-width="1"/>
<line x1="715.4" x2="718.4" y1="363.3" y2="363.3" stroke="#000" stroke-width="1"/>
<line x1="1001.2" x2="1003.6" y1="363.3" y2="363.3" stroke="#000" stroke-width="1"/>
<line x1="715.4" x2="718.4" y1="367.8" y2="367.8" stroke="#000" stroke-width="1"/>
<line x1="1001.2" x2="1003.6" y1="367.8" y2="367.8" stroke="#000" stroke-width="1"/>
<line x1="712.9" x2="718.4" y1="397.3" y2="397.3" stroke="#000" stroke-width="1.5"/>
<line x1="1001.2" x2="1005.6" y1="397.3" y2="397.3" stroke="#000" stroke-width="1.4"/>
<text x="702.2" y="402.7" font-family="Liberation Sans, Arial, sans-serif" font-size="15.4" fill="#222" text-anchor="end">20</text>
<line x1="715.4" x2="718.4" y1="414.6" y2="414.6" stroke="#000" stroke-width="1"/>
<line x1="1001.2" x2="1003.6" y1="414.6" y2="414.6" stroke="#000" stroke-width="1"/>
<line x1="715.4" x2="718.4" y1="426.8" y2="426.8" stroke="#000" stroke-width="1"/>
<line x1="1001.2" x2="1003.6" y1="426.8" y2="426.8" stroke="#000" stroke-width="1"/>
<line x1="715.4" x2="718.4" y1="436.3" y2="436.3" stroke="#000" stroke-width="1"/>
<line x1="1001.2" x2="1003.6" y1="436.3" y2="436.3" stroke="#000" stroke-width="1"/>
<line x1="712.9" x2="718.4" y1="444.1" y2="444.1" stroke="#000" stroke-width="1.5"/>
<line x1="1001.2" x2="1005.6" y1="444.1" y2="444.1" stroke="#000" stroke-width="1.4"/>
<text x="702.2" y="449.5" font-family="Liberation Sans, Arial, sans-serif" font-size="15.4" fill="#222" text-anchor="end">60</text>
<line x1="715.4" x2="718.4" y1="450.6" y2="450.6" stroke="#000" stroke-width="1"/>
<line x1="1001.2" x2="1003.6" y1="450.6" y2="450.6" stroke="#000" stroke-width="1"/>
<line x1="715.4" x2="718.4" y1="456.3" y2="456.3" stroke="#000" stroke-width="1"/>
<line x1="1001.2" x2="1003.6" y1="456.3" y2="456.3" stroke="#000" stroke-width="1"/>
<line x1="715.4" x2="718.4" y1="461.3" y2="461.3" stroke="#000" stroke-width="1"/>
<line x1="1001.2" x2="1003.6" y1="461.3" y2="461.3" stroke="#000" stroke-width="1"/>
<line x1="712.9" x2="718.4" y1="465.8" y2="465.8" stroke="#000" stroke-width="1.5"/>
<line x1="1001.2" x2="1005.6" y1="465.8" y2="465.8" stroke="#000" stroke-width="1.4"/>
<text x="702.2" y="471.2" font-family="Liberation Sans, Arial, sans-serif" font-size="15.4" fill="#222" text-anchor="end">100</text>
<line x1="715.4" x2="718.4" y1="469.9" y2="469.9" stroke="#000" stroke-width="1"/>
<line x1="1001.2" x2="1003.6" y1="469.9" y2="469.9" stroke="#000" stroke-width="1"/>
<line x1="715.4" x2="718.4" y1="473.6" y2="473.6" stroke="#000" stroke-width="1"/>
<line x1="1001.2" x2="1003.6" y1="473.6" y2="473.6" stroke="#000" stroke-width="1"/>
<text transform="translate(665.0,411.6) rotate(-90)" font-family="Liberation Sans, Arial, sans-serif" font-size="16.7" fill="#1c1c1c" text-anchor="middle">Period(years)</text>
<line x1="1013.2" x2="1130.6" y1="397.3" y2="397.3" stroke="#666" stroke-width="1.2" stroke-dasharray="4.7 6"/>
<line x1="1013.2" x2="1130.6" y1="426.8" y2="426.8" stroke="#666" stroke-width="1.2" stroke-dasharray="4.7 6"/>
<line x1="1013.2" x2="1130.6" y1="456.4" y2="456.4" stroke="#666" stroke-width="1.2" stroke-dasharray="4.7 6"/>
<g clip-path="url(#csg)">
<polyline points="1003.7,345.6 1005.2,365.2 1009.7,380.3 1018.8,398.4 1032.4,410.4 1050.4,422.5 1071.5,431.5 1095.7,439.1 1119.8,445.1 1134.3,448.7" fill="none" stroke="#e8141c" stroke-width="2.6" stroke-dasharray="3.4 1.2"/>
<polyline points="1002.2,345.6 1002.8,368.2 1006.7,380.3 1014.3,395.4 1024.8,404.4 1032.4,410.4 1027.8,418.0 1033.9,425.5 1050.4,434.0 1071.5,440.6 1071.5,448.1 1052.9,455.7 1077.6,464.1 1064.0,470.1 1076.1,477.4" fill="none" stroke="#000" stroke-width="2.7" stroke-linejoin="miter"/>
</g>
<g clip-path="url(#cph)">
<g filter="url(#cm)">
<rect x="702.8" y="492.8" width="308.8" height="161.0" fill="#000000"/>
<g filter="url(#bl)">
<rect x="702.8" y="492.8" width="308.8" height="161.0" fill="#000000"/>
<ellipse cx="740.0" cy="562.0" rx="22.0" ry="24.0" fill="#252525"/>
<ellipse cx="782.0" cy="552.0" rx="16.0" ry="14.0" fill="#272727"/>
<ellipse cx="826.0" cy="546.0" rx="7.0" ry="12.0" fill="#2b2b2b"/>
<ellipse cx="858.0" cy="550.0" rx="9.0" ry="14.0" fill="#2b2b2b"/>
<ellipse cx="845.0" cy="572.0" rx="32.0" ry="9.0" fill="#252525"/>
<ellipse cx="905.0" cy="546.0" rx="11.0" ry="9.0" fill="#252525"/>
<ellipse cx="925.0" cy="548.0" rx="9.0" ry="14.0" fill="#2b2b2b"/>
<ellipse cx="917.0" cy="576.0" rx="14.0" ry="12.0" fill="#272727"/>
<ellipse cx="976.0" cy="552.0" rx="7.0" ry="14.0" fill="#2b2b2b"/>
<ellipse cx="985.0" cy="576.0" rx="10.0" ry="9.0" fill="#252525"/>
<ellipse cx="772.0" cy="612.0" rx="32.0" ry="9.0" fill="#212121"/>
<ellipse cx="832.0" cy="612.0" rx="26.0" ry="8.0" fill="#212121"/>
<ellipse cx="800.0" cy="582.0" rx="16.0" ry="9.0" fill="#1d1d1d"/>
<ellipse cx="950.0" cy="572.0" rx="18.0" ry="10.0" fill="#252525"/>
<ellipse cx="760.0" cy="632.0" rx="30.0" ry="5.0" fill="#1d1d1d"/>
<ellipse cx="840.0" cy="634.0" rx="30.0" ry="4.0" fill="#1d1d1d"/>
</g>
<g filter="url(#bl2)">
<ellipse cx="737.0" cy="577.4" rx="8.0" ry="8.0" fill="#3e3e3e"/>
<ellipse cx="730.0" cy="606.0" rx="17.5" ry="13.5" fill="#3e3e3e" transform="rotate(38 730.0 606.0)"/>
<ellipse cx="725.5" cy="603.0" rx="16.0" ry="14.5" fill="#3e3e3e" transform="rotate(38 725.5 603.0)"/>
<ellipse cx="791.0" cy="562.0" rx="14.5" ry="21.0" fill="#3e3e3e" transform="rotate(-14 791.0 562.0)"/>
<ellipse cx="791.0" cy="562.0" rx="11.8" ry="18.0" fill="#3e3e3e" transform="rotate(-14 791.0 562.0)"/>
<ellipse cx="787.0" cy="596.0" rx="20.5" ry="10.5" fill="#3e3e3e"/>
<ellipse cx="788.0" cy="596.0" rx="19.5" ry="11.6" fill="#3e3e3e"/>
<polyline points="805.0,587.0 822.0,583.0 838.0,581.0" fill="none" stroke="#3e3e3e" stroke-width="14.0" stroke-linecap="round" stroke-linejoin="round"/>
<ellipse cx="845.0" cy="581.0" rx="16.5" ry="14.5" fill="#3e3e3e" transform="rotate(25 845.0 581.0)"/>
<ellipse cx="845.0" cy="581.0" rx="13.0" ry="12.0" fill="#3e3e3e" transform="rotate(25 845.0 581.0)"/>
<polyline points="849.0,584.0 858.0,593.0" fill="none" stroke="#3e3e3e" stroke-width="23.0" stroke-linecap="round" stroke-linejoin="round"/>
<ellipse cx="880.0" cy="586.0" rx="9.5" ry="7.0" fill="#3e3e3e"/>
<ellipse cx="984.0" cy="633.0" rx="16.5" ry="11.5" fill="#3e3e3e"/>
<polyline points="902.0,621.0 956.0,622.0 972.0,629.0 978.0,642.0 898.0,642.0 902.0,621.0" fill="none" stroke="#3e3e3e" stroke-width="18.0" stroke-linecap="round" stroke-linejoin="round"/>
<polyline points="906.0,625.0 948.0,626.0 960.0,632.0 965.0,642.0 904.0,642.0 906.0,625.0" fill="none" stroke="#3e3e3e" stroke-width="18.0" stroke-linecap="round" stroke-linejoin="round"/>
<polyline points="896.0,606.0 920.0,617.0 945.0,630.0 958.0,638.0" fill="none" stroke="#3e3e3e" stroke-width="23.0" stroke-linecap="round" stroke-linejoin="round"/>
<polyline points="852.0,592.0 880.0,592.0 897.0,595.0 901.0,601.0 893.0,606.0 870.0,607.0 857.0,603.0 852.0,592.0" fill="none" stroke="#3e3e3e" stroke-width="18.0" stroke-linecap="round" stroke-linejoin="round"/>
<polyline points="924.0,598.0 932.0,593.5 998.0,593.5 998.0,606.0 960.0,606.0 934.0,604.0 924.0,598.0" fill="none" stroke="#3e3e3e" stroke-width="18.0" stroke-linecap="round" stroke-linejoin="round"/>
<ellipse cx="921.0" cy="583.5" rx="7.5" ry="9.0" fill="#3e3e3e"/>
<ellipse cx="919.0" cy="571.0" rx="8.5" ry="12.0" fill="#3e3e3e"/>
<ellipse cx="918.5" cy="570.0" rx="10.5" ry="12.5" fill="#3e3e3e"/>
<ellipse cx="929.0" cy="556.5" rx="11.0" ry="13.0" fill="#3e3e3e"/>
<ellipse cx="976.5" cy="566.0" rx="7.0" ry="8.5" fill="#3e3e3e"/>
<ellipse cx="725.5" cy="603.0" rx="12.5" ry="11.0" fill="#6b6b6b" transform="rotate(38 725.5 603.0)"/>
<ellipse cx="791.0" cy="562.0" rx="11.0" ry="17.5" fill="#6b6b6b" transform="rotate(-14 791.0 562.0)"/>
<ellipse cx="791.0" cy="562.0" rx="8.3" ry="14.5" fill="#6b6b6b" transform="rotate(-14 791.0 562.0)"/>
<ellipse cx="788.0" cy="596.0" rx="16.0" ry="8.1" fill="#6b6b6b"/>
<ellipse cx="845.0" cy="581.0" rx="13.0" ry="11.0" fill="#6b6b6b" transform="rotate(25 845.0 581.0)"/>
<ellipse cx="845.0" cy="581.0" rx="9.5" ry="8.5" fill="#6b6b6b" transform="rotate(25 845.0 581.0)"/>
<polyline points="849.0,584.0 858.0,593.0" fill="none" stroke="#6b6b6b" stroke-width="16.0" stroke-linecap="round" stroke-linejoin="round"/>
<polyline points="902.0,621.0 956.0,622.0 972.0,629.0 978.0,642.0 898.0,642.0 902.0,621.0" fill="none" stroke="#6b6b6b" stroke-width="11.0" stroke-linecap="round" stroke-linejoin="round"/>
<polyline points="906.0,625.0 948.0,626.0 960.0,632.0 965.0,642.0 904.0,642.0 906.0,625.0" fill="none" stroke="#6b6b6b" stroke-width="11.0" stroke-linecap="round" stroke-linejoin="round"/>
<polyline points="896.0,606.0 920.0,617.0 945.0,630.0 958.0,638.0" fill="none" stroke="#6b6b6b" stroke-width="16.0" stroke-linecap="round" stroke-linejoin="round"/>
<polyline points="852.0,592.0 880.0,592.0 897.0,595.0 901.0,601.0 893.0,606.0 870.0,607.0 857.0,603.0 852.0,592.0" fill="none" stroke="#6b6b6b" stroke-width="11.0" stroke-linecap="round" stroke-linejoin="round"/>
<polyline points="924.0,598.0 932.0,593.5 998.0,593.5 998.0,606.0 960.0,606.0 934.0,604.0 924.0,598.0" fill="none" stroke="#6b6b6b" stroke-width="11.0" stroke-linecap="round" stroke-linejoin="round"/>
<ellipse cx="918.5" cy="570.0" rx="7.0" ry="9.0" fill="#6b6b6b"/>
<ellipse cx="929.0" cy="556.5" rx="7.5" ry="9.5" fill="#6b6b6b"/>
</g>
<polyline points="712.0,623.0 800.0,623.5 880.0,624.5" fill="none" stroke="#6b6b6b" stroke-width="5.0" stroke-linecap="round" stroke-linejoin="round"/>
<polyline points="802.0,623.0 866.0,623.5" fill="none" stroke="#949494" stroke-width="4.5" stroke-linecap="round" stroke-linejoin="round"/>
<ellipse cx="726.0" cy="632.0" rx="9.0" ry="4.0" fill="#656565"/>
<ellipse cx="721.0" cy="571.5" rx="4.0" ry="6.0" fill="#8e8e8e"/>
<ellipse cx="745.0" cy="576.0" rx="4.0" ry="3.0" fill="#808080"/>
<ellipse cx="738.0" cy="577.4" rx="7.0" ry="6.0" fill="#656565"/>
<ellipse cx="737.0" cy="577.4" rx="3.5" ry="3.5" fill="#bbbbbb"/>
<ellipse cx="730.0" cy="606.0" rx="13.0" ry="9.0" fill="#878787" transform="rotate(38 730.0 606.0)"/>
<ellipse cx="725.5" cy="603.0" rx="8.0" ry="6.5" fill="#ffffff" transform="rotate(38 725.5 603.0)"/>
<ellipse cx="775.0" cy="556.0" rx="8.0" ry="6.0" fill="#727272"/>
<ellipse cx="791.0" cy="562.0" rx="6.5" ry="13.0" fill="#c3c3c3" transform="rotate(-14 791.0 562.0)"/>
<ellipse cx="791.0" cy="562.0" rx="3.8" ry="10.0" fill="#ffffff" transform="rotate(-14 791.0 562.0)"/>
<ellipse cx="787.0" cy="596.0" rx="16.0" ry="6.0" fill="#7f7f7f"/>
<ellipse cx="788.0" cy="596.0" rx="11.5" ry="3.6" fill="#ffffff"/>
<ellipse cx="859.5" cy="550.5" rx="3.5" ry="6.0" fill="#9a9a9a"/>
<polyline points="805.0,587.0 822.0,583.0 838.0,581.0" fill="none" stroke="#a8a8a8" stroke-width="5.0" stroke-linecap="round" stroke-linejoin="round"/>
<ellipse cx="845.0" cy="581.0" rx="8.5" ry="6.5" fill="#afafaf" transform="rotate(25 845.0 581.0)"/>
<ellipse cx="845.0" cy="581.0" rx="5.0" ry="4.0" fill="#ffffff" transform="rotate(25 845.0 581.0)"/>
<polyline points="849.0,584.0 858.0,593.0" fill="none" stroke="#f7f7f7" stroke-width="7.0" stroke-linecap="round" stroke-linejoin="round"/>
<ellipse cx="880.0" cy="586.0" rx="5.0" ry="2.5" fill="#c5c5c5"/>
<ellipse cx="984.0" cy="633.0" rx="12.0" ry="7.0" fill="#909090"/>
<polygon points="902.0,621.0 956.0,622.0 972.0,629.0 978.0,642.0 898.0,642.0" fill="#b5b5b5"/>
<polygon points="906.0,625.0 948.0,626.0 960.0,632.0 965.0,642.0 904.0,642.0" fill="#ffffff"/>
<polyline points="896.0,606.0 920.0,617.0 945.0,630.0 958.0,638.0" fill="none" stroke="#ffffff" stroke-width="7.0" stroke-linecap="round" stroke-linejoin="round"/>
<polygon points="852.0,592.0 880.0,592.0 897.0,595.0 901.0,601.0 893.0,606.0 870.0,607.0 857.0,603.0" fill="#ffffff"/>
<polygon points="924.0,598.0 932.0,593.5 998.0,593.5 998.0,606.0 960.0,606.0 934.0,604.0" fill="#ffffff"/>
<ellipse cx="921.0" cy="583.5" rx="3.0" ry="4.5" fill="#bbbbbb"/>
<ellipse cx="919.0" cy="571.0" rx="4.0" ry="7.5" fill="#bbbbbb"/>
<ellipse cx="918.5" cy="570.0" rx="2.5" ry="4.5" fill="#ffffff"/>
<ellipse cx="929.0" cy="556.5" rx="3.0" ry="5.0" fill="#f7f7f7"/>
<ellipse cx="976.0" cy="569.0" rx="4.5" ry="8.0" fill="#7f7f7f"/>
<ellipse cx="976.5" cy="566.0" rx="2.5" ry="4.0" fill="#c1c1c1"/>
</g>
<g stroke="#1a1a1a" stroke-width="0.9">
<line x1="759.6" x2="759.6" y1="507.8" y2="638.8"/>
<line x1="801.4" x2="801.4" y1="507.8" y2="638.8"/>
<line x1="759.6" y1="494.9" x2="801.4" y2="512.0"/>
<line x1="759.6" y1="508.6" x2="801.4" y2="525.7"/>
<line x1="759.6" y1="522.3" x2="801.4" y2="539.5"/>
<line x1="759.6" y1="536.0" x2="801.4" y2="553.2"/>
<line x1="759.6" y1="549.7" x2="801.4" y2="566.9"/>
<line x1="759.6" y1="563.5" x2="801.4" y2="580.6"/>
<line x1="759.6" y1="577.2" x2="801.4" y2="594.3"/>
<line x1="759.6" y1="590.9" x2="801.4" y2="608.0"/>
<line x1="759.6" y1="604.6" x2="801.4" y2="621.7"/>
<line x1="759.6" y1="618.3" x2="801.4" y2="635.5"/>
<line x1="759.6" y1="632.0" x2="801.4" y2="649.2"/>
</g>
<g stroke="#1a1a1a" stroke-width="0.9">
<line x1="871.1" x2="871.1" y1="507.8" y2="638.8"/>
<line x1="954.8" x2="954.8" y1="507.8" y2="638.8"/>
<line x1="871.1" y1="485.1" x2="954.8" y2="519.4"/>
<line x1="871.1" y1="498.8" x2="954.8" y2="533.1"/>
<line x1="871.1" y1="512.5" x2="954.8" y2="546.8"/>
<line x1="871.1" y1="526.2" x2="954.8" y2="560.5"/>
<line x1="871.1" y1="539.9" x2="954.8" y2="574.2"/>
<line x1="871.1" y1="553.6" x2="954.8" y2="587.9"/>
<line x1="871.1" y1="567.4" x2="954.8" y2="601.6"/>
<line x1="871.1" y1="581.1" x2="954.8" y2="615.4"/>
<line x1="871.1" y1="594.8" x2="954.8" y2="629.1"/>
<line x1="871.1" y1="608.5" x2="954.8" y2="642.8"/>
<line x1="871.1" y1="622.2" x2="954.8" y2="656.5"/>
<line x1="871.1" y1="635.9" x2="954.8" y2="670.2"/>
</g>
<polyline points="718.3,507.8 719.4,517.7 720.6,527.1 721.9,538.4 723.5,549.3 725.8,561.1 728.6,571.4 731.4,581.8 734.7,591.6 738.3,601.5 742.7,611.7 746.9,619.8 751.7,627.8 755.6,633.6 759.8,639.0 761.2,641.0" fill="none" stroke="#5a5a5a" stroke-width="1.9"/>
<polyline points="996.1,507.8 995.0,517.7 993.8,527.1 992.5,538.4 990.9,549.3 988.6,561.1 985.8,571.4 983.0,581.8 979.7,591.6 976.1,601.5 971.7,611.7 967.5,619.8 962.7,627.8 958.8,633.6 954.6,639.0 953.2,641.0" fill="none" stroke="#5a5a5a" stroke-width="1.9"/>
<line x1="718.5" y1="573.4" x2="732.6" y2="598.0" stroke="#555" stroke-width="1.1"/>
<line x1="718.5" y1="607.6" x2="732.6" y2="598.0" stroke="#555" stroke-width="1.1"/>
<line x1="718.5" y1="628.8" x2="727.6" y2="641.9" stroke="#555" stroke-width="1.1"/>
<line x1="749.8" y1="641.9" x2="759.4" y2="628.8" stroke="#555" stroke-width="1.1"/>
<line x1="732.6" y1="598.0" x2="739.5" y2="605.5" stroke="#555" stroke-width="1.1"/>
<line x1="995.9" y1="573.4" x2="981.8" y2="598.0" stroke="#555" stroke-width="1.1"/>
<line x1="995.9" y1="607.6" x2="981.8" y2="598.0" stroke="#555" stroke-width="1.1"/>
<line x1="995.9" y1="628.8" x2="986.8" y2="641.9" stroke="#555" stroke-width="1.1"/>
<line x1="964.6" y1="641.9" x2="955.0" y2="628.8" stroke="#555" stroke-width="1.1"/>
<line x1="981.8" y1="598.0" x2="974.9" y2="605.5" stroke="#555" stroke-width="1.1"/>
<g fill="#111">
<circle cx="782.6" cy="535.0" r="1.15"/>
<circle cx="792.3" cy="535.0" r="1.15"/>
<circle cx="729.5" cy="539.8" r="1.15"/>
<circle cx="739.1" cy="539.8" r="1.15"/>
<circle cx="777.8" cy="539.8" r="1.15"/>
<circle cx="787.5" cy="539.8" r="1.15"/>
<circle cx="797.1" cy="539.8" r="1.15"/>
<circle cx="826.2" cy="539.8" r="1.15"/>
<circle cx="855.2" cy="539.8" r="1.15"/>
<circle cx="864.8" cy="539.8" r="1.15"/>
<circle cx="913.2" cy="539.8" r="1.15"/>
<circle cx="922.8" cy="539.8" r="1.15"/>
<circle cx="724.6" cy="544.6" r="1.15"/>
<circle cx="734.3" cy="544.6" r="1.15"/>
<circle cx="744.0" cy="544.6" r="1.15"/>
<circle cx="773.0" cy="544.6" r="1.15"/>
<circle cx="782.6" cy="544.6" r="1.15"/>
<circle cx="792.3" cy="544.6" r="1.15"/>
<circle cx="802.0" cy="544.6" r="1.15"/>
<circle cx="821.3" cy="544.6" r="1.15"/>
<circle cx="831.0" cy="544.6" r="1.15"/>
<circle cx="860.0" cy="544.6" r="1.15"/>
<circle cx="908.3" cy="544.6" r="1.15"/>
<circle cx="918.0" cy="544.6" r="1.15"/>
<circle cx="927.7" cy="544.6" r="1.15"/>
<circle cx="976.0" cy="544.6" r="1.15"/>
<circle cx="719.8" cy="549.5" r="1.15"/>
<circle cx="729.5" cy="549.5" r="1.15"/>
<circle cx="739.1" cy="549.5" r="1.15"/>
<circle cx="748.8" cy="549.5" r="1.15"/>
<circle cx="768.1" cy="549.5" r="1.15"/>
<circle cx="777.8" cy="549.5" r="1.15"/>
<circle cx="787.5" cy="549.5" r="1.15"/>
<circle cx="797.1" cy="549.5" r="1.15"/>
<circle cx="826.2" cy="549.5" r="1.15"/>
<circle cx="855.2" cy="549.5" r="1.15"/>
<circle cx="864.8" cy="549.5" r="1.15"/>
<circle cx="903.5" cy="549.5" r="1.15"/>
<circle cx="913.2" cy="549.5" r="1.15"/>
<circle cx="922.8" cy="549.5" r="1.15"/>
<circle cx="932.5" cy="549.5" r="1.15"/>
<circle cx="980.8" cy="549.5" r="1.15"/>
<circle cx="724.6" cy="554.3" r="1.15"/>
<circle cx="734.3" cy="554.3" r="1.15"/>
<circle cx="744.0" cy="554.3" r="1.15"/>
<circle cx="773.0" cy="554.3" r="1.15"/>
<circle cx="782.6" cy="554.3" r="1.15"/>
<circle cx="792.3" cy="554.3" r="1.15"/>
<circle cx="802.0" cy="554.3" r="1.15"/>
<circle cx="860.0" cy="554.3" r="1.15"/>
<circle cx="908.3" cy="554.3" r="1.15"/>
<circle cx="918.0" cy="554.3" r="1.15"/>
<circle cx="927.7" cy="554.3" r="1.15"/>
<circle cx="937.3" cy="554.3" r="1.15"/>
<circle cx="976.0" cy="554.3" r="1.15"/>
<circle cx="719.8" cy="559.1" r="1.15"/>
<circle cx="729.5" cy="559.1" r="1.15"/>
<circle cx="739.1" cy="559.1" r="1.15"/>
<circle cx="748.8" cy="559.1" r="1.15"/>
<circle cx="768.1" cy="559.1" r="1.15"/>
<circle cx="777.8" cy="559.1" r="1.15"/>
<circle cx="787.5" cy="559.1" r="1.15"/>
<circle cx="797.1" cy="559.1" r="1.15"/>
<circle cx="903.5" cy="559.1" r="1.15"/>
<circle cx="913.2" cy="559.1" r="1.15"/>
<circle cx="922.8" cy="559.1" r="1.15"/>
<circle cx="932.5" cy="559.1" r="1.15"/>
<circle cx="971.2" cy="559.1" r="1.15"/>
<circle cx="980.8" cy="559.1" r="1.15"/>
<circle cx="724.6" cy="564.0" r="1.15"/>
<circle cx="734.3" cy="564.0" r="1.15"/>
<circle cx="744.0" cy="564.0" r="1.15"/>
<circle cx="753.6" cy="564.0" r="1.15"/>
<circle cx="763.3" cy="564.0" r="1.15"/>
<circle cx="773.0" cy="564.0" r="1.15"/>
<circle cx="782.6" cy="564.0" r="1.15"/>
<circle cx="792.3" cy="564.0" r="1.15"/>
<circle cx="802.0" cy="564.0" r="1.15"/>
<circle cx="908.3" cy="564.0" r="1.15"/>
<circle cx="918.0" cy="564.0" r="1.15"/>
<circle cx="927.7" cy="564.0" r="1.15"/>
<circle cx="937.3" cy="564.0" r="1.15"/>
<circle cx="976.0" cy="564.0" r="1.15"/>
<circle cx="985.7" cy="564.0" r="1.15"/>
<circle cx="719.8" cy="568.8" r="1.15"/>
<circle cx="729.5" cy="568.8" r="1.15"/>
<circle cx="739.1" cy="568.8" r="1.15"/>
<circle cx="748.8" cy="568.8" r="1.15"/>
<circle cx="768.1" cy="568.8" r="1.15"/>
<circle cx="777.8" cy="568.8" r="1.15"/>
<circle cx="787.5" cy="568.8" r="1.15"/>
<circle cx="797.1" cy="568.8" r="1.15"/>
<circle cx="806.8" cy="568.8" r="1.15"/>
<circle cx="903.5" cy="568.8" r="1.15"/>
<circle cx="913.2" cy="568.8" r="1.15"/>
<circle cx="922.8" cy="568.8" r="1.15"/>
<circle cx="932.5" cy="568.8" r="1.15"/>
<circle cx="971.2" cy="568.8" r="1.15"/>
<circle cx="980.8" cy="568.8" r="1.15"/>
<circle cx="724.6" cy="573.6" r="1.15"/>
<circle cx="734.3" cy="573.6" r="1.15"/>
<circle cx="744.0" cy="573.6" r="1.15"/>
<circle cx="753.6" cy="573.6" r="1.15"/>
<circle cx="773.0" cy="573.6" r="1.15"/>
<circle cx="782.6" cy="573.6" r="1.15"/>
<circle cx="792.3" cy="573.6" r="1.15"/>
<circle cx="802.0" cy="573.6" r="1.15"/>
<circle cx="831.0" cy="573.6" r="1.15"/>
<circle cx="840.7" cy="573.6" r="1.15"/>
<circle cx="850.3" cy="573.6" r="1.15"/>
<circle cx="908.3" cy="573.6" r="1.15"/>
<circle cx="918.0" cy="573.6" r="1.15"/>
<circle cx="927.7" cy="573.6" r="1.15"/>
<circle cx="976.0" cy="573.6" r="1.15"/>
<circle cx="719.8" cy="578.5" r="1.15"/>
<circle cx="729.5" cy="578.5" r="1.15"/>
<circle cx="739.1" cy="578.5" r="1.15"/>
<circle cx="748.8" cy="578.5" r="1.15"/>
<circle cx="768.1" cy="578.5" r="1.15"/>
<circle cx="777.8" cy="578.5" r="1.15"/>
<circle cx="787.5" cy="578.5" r="1.15"/>
<circle cx="797.1" cy="578.5" r="1.15"/>
<circle cx="816.5" cy="578.5" r="1.15"/>
<circle cx="826.2" cy="578.5" r="1.15"/>
<circle cx="835.8" cy="578.5" r="1.15"/>
<circle cx="845.5" cy="578.5" r="1.15"/>
<circle cx="855.2" cy="578.5" r="1.15"/>
<circle cx="864.8" cy="578.5" r="1.15"/>
<circle cx="913.2" cy="578.5" r="1.15"/>
<circle cx="922.8" cy="578.5" r="1.15"/>
<circle cx="932.5" cy="578.5" r="1.15"/>
<circle cx="724.6" cy="583.3" r="1.15"/>
<circle cx="734.3" cy="583.3" r="1.15"/>
<circle cx="744.0" cy="583.3" r="1.15"/>
<circle cx="773.0" cy="583.3" r="1.15"/>
<circle cx="782.6" cy="583.3" r="1.15"/>
<circle cx="792.3" cy="583.3" r="1.15"/>
<circle cx="802.0" cy="583.3" r="1.15"/>
<circle cx="821.3" cy="583.3" r="1.15"/>
<circle cx="831.0" cy="583.3" r="1.15"/>
<circle cx="840.7" cy="583.3" r="1.15"/>
<circle cx="850.3" cy="583.3" r="1.15"/>
<circle cx="860.0" cy="583.3" r="1.15"/>
<circle cx="918.0" cy="583.3" r="1.15"/>
<circle cx="729.5" cy="588.1" r="1.15"/>
<circle cx="739.1" cy="588.1" r="1.15"/>
<circle cx="777.8" cy="588.1" r="1.15"/>
<circle cx="787.5" cy="588.1" r="1.15"/>
<circle cx="797.1" cy="588.1" r="1.15"/>
<circle cx="734.3" cy="593.0" r="1.15"/>
<circle cx="773.0" cy="593.0" r="1.15"/>
<circle cx="782.6" cy="593.0" r="1.15"/>
<circle cx="792.3" cy="593.0" r="1.15"/>
<circle cx="860.0" cy="593.0" r="1.15"/>
<circle cx="869.7" cy="593.0" r="1.15"/>
<circle cx="879.3" cy="593.0" r="1.15"/>
<circle cx="889.0" cy="593.0" r="1.15"/>
<circle cx="898.7" cy="593.0" r="1.15"/>
<circle cx="937.3" cy="593.0" r="1.15"/>
<circle cx="947.0" cy="593.0" r="1.15"/>
<circle cx="956.7" cy="593.0" r="1.15"/>
<circle cx="966.3" cy="593.0" r="1.15"/>
<circle cx="976.0" cy="593.0" r="1.15"/>
<circle cx="985.7" cy="593.0" r="1.15"/>
<circle cx="787.5" cy="597.8" r="1.15"/>
<circle cx="855.2" cy="597.8" r="1.15"/>
<circle cx="864.8" cy="597.8" r="1.15"/>
<circle cx="874.5" cy="597.8" r="1.15"/>
<circle cx="884.2" cy="597.8" r="1.15"/>
<circle cx="893.8" cy="597.8" r="1.15"/>
<circle cx="903.5" cy="597.8" r="1.15"/>
<circle cx="922.8" cy="597.8" r="1.15"/>
<circle cx="932.5" cy="597.8" r="1.15"/>
<circle cx="942.2" cy="597.8" r="1.15"/>
<circle cx="951.8" cy="597.8" r="1.15"/>
<circle cx="961.5" cy="597.8" r="1.15"/>
<circle cx="971.2" cy="597.8" r="1.15"/>
<circle cx="980.8" cy="597.8" r="1.15"/>
<circle cx="990.5" cy="597.8" r="1.15"/>
<circle cx="860.0" cy="602.6" r="1.15"/>
<circle cx="869.7" cy="602.6" r="1.15"/>
<circle cx="879.3" cy="602.6" r="1.15"/>
<circle cx="889.0" cy="602.6" r="1.15"/>
<circle cx="898.7" cy="602.6" r="1.15"/>
<circle cx="927.7" cy="602.6" r="1.15"/>
<circle cx="937.3" cy="602.6" r="1.15"/>
<circle cx="947.0" cy="602.6" r="1.15"/>
<circle cx="956.7" cy="602.6" r="1.15"/>
<circle cx="966.3" cy="602.6" r="1.15"/>
<circle cx="976.0" cy="602.6" r="1.15"/>
<circle cx="985.7" cy="602.6" r="1.15"/>
</g>
<line x1="717.8" x2="996.6" y1="560.2" y2="560.2" stroke="#f5221c" stroke-width="2.7" stroke-dasharray="8.8 2.2"/>
<line x1="717.8" x2="996.6" y1="589.5" y2="589.5" stroke="#1f1fe6" stroke-width="2.7" stroke-dasharray="8.8 2.2"/>
<line x1="717.8" x2="996.6" y1="618.4" y2="618.4" stroke="#f03cc0" stroke-width="2.7" stroke-dasharray="8.8 2.2"/>
</g>
<text x="723.0" y="526.1" font-family="Liberation Sans, Arial, sans-serif" font-size="18.0" fill="#2222e2">h)d<tspan font-size="11.1" dy="-6.1">18</tspan><tspan dy="6.1">O</tspan><tspan font-size="11.1" dy="3.5">vp</tspan><tspan dy="-3.5">-based PDV (iCESM 003)</tspan></text>
<rect x="717.8" y="507.8" width="278.8" height="131.0" fill="none" stroke="#000" stroke-width="2"/>
<rect x="996.6" y="507.8" width="131.3" height="131.0" fill="#fff" stroke="#000" stroke-width="2"/>
<line x1="717.8" x2="717.8" y1="507.8" y2="502.2" stroke="#000" stroke-width="1.5"/>
<line x1="717.8" x2="717.8" y1="638.8" y2="644.4" stroke="#000" stroke-width="1.5"/>
<line x1="731.7" x2="731.7" y1="507.8" y2="505.0" stroke="#000" stroke-width="1"/>
<line x1="731.7" x2="731.7" y1="638.8" y2="641.6" stroke="#000" stroke-width="1"/>
<line x1="745.7" x2="745.7" y1="507.8" y2="505.0" stroke="#000" stroke-width="1"/>
<line x1="745.7" x2="745.7" y1="638.8" y2="641.6" stroke="#000" stroke-width="1"/>
<line x1="759.6" x2="759.6" y1="507.8" y2="505.0" stroke="#000" stroke-width="1"/>
<line x1="759.6" x2="759.6" y1="638.8" y2="641.6" stroke="#000" stroke-width="1"/>
<line x1="773.6" x2="773.6" y1="507.8" y2="502.2" stroke="#000" stroke-width="1.5"/>
<line x1="773.6" x2="773.6" y1="638.8" y2="644.4" stroke="#000" stroke-width="1.5"/>
<line x1="787.5" x2="787.5" y1="507.8" y2="505.0" stroke="#000" stroke-width="1"/>
<line x1="787.5" x2="787.5" y1="638.8" y2="641.6" stroke="#000" stroke-width="1"/>
<line x1="801.4" x2="801.4" y1="507.8" y2="505.0" stroke="#000" stroke-width="1"/>
<line x1="801.4" x2="801.4" y1="638.8" y2="641.6" stroke="#000" stroke-width="1"/>
<line x1="815.4" x2="815.4" y1="507.8" y2="505.0" stroke="#000" stroke-width="1"/>
<line x1="815.4" x2="815.4" y1="638.8" y2="641.6" stroke="#000" stroke-width="1"/>
<line x1="829.3" x2="829.3" y1="507.8" y2="502.2" stroke="#000" stroke-width="1.5"/>
<line x1="829.3" x2="829.3" y1="638.8" y2="644.4" stroke="#000" stroke-width="1.5"/>
<line x1="843.3" x2="843.3" y1="507.8" y2="505.0" stroke="#000" stroke-width="1"/>
<line x1="843.3" x2="843.3" y1="638.8" y2="641.6" stroke="#000" stroke-width="1"/>
<line x1="857.2" x2="857.2" y1="507.8" y2="505.0" stroke="#000" stroke-width="1"/>
<line x1="857.2" x2="857.2" y1="638.8" y2="641.6" stroke="#000" stroke-width="1"/>
<line x1="871.1" x2="871.1" y1="507.8" y2="505.0" stroke="#000" stroke-width="1"/>
<line x1="871.1" x2="871.1" y1="638.8" y2="641.6" stroke="#000" stroke-width="1"/>
<line x1="885.1" x2="885.1" y1="507.8" y2="502.2" stroke="#000" stroke-width="1.5"/>
<line x1="885.1" x2="885.1" y1="638.8" y2="644.4" stroke="#000" stroke-width="1.5"/>
<line x1="899.0" x2="899.0" y1="507.8" y2="505.0" stroke="#000" stroke-width="1"/>
<line x1="899.0" x2="899.0" y1="638.8" y2="641.6" stroke="#000" stroke-width="1"/>
<line x1="913.0" x2="913.0" y1="507.8" y2="505.0" stroke="#000" stroke-width="1"/>
<line x1="913.0" x2="913.0" y1="638.8" y2="641.6" stroke="#000" stroke-width="1"/>
<line x1="926.9" x2="926.9" y1="507.8" y2="505.0" stroke="#000" stroke-width="1"/>
<line x1="926.9" x2="926.9" y1="638.8" y2="641.6" stroke="#000" stroke-width="1"/>
<line x1="940.8" x2="940.8" y1="507.8" y2="502.2" stroke="#000" stroke-width="1.5"/>
<line x1="940.8" x2="940.8" y1="638.8" y2="644.4" stroke="#000" stroke-width="1.5"/>
<line x1="954.8" x2="954.8" y1="507.8" y2="505.0" stroke="#000" stroke-width="1"/>
<line x1="954.8" x2="954.8" y1="638.8" y2="641.6" stroke="#000" stroke-width="1"/>
<line x1="968.7" x2="968.7" y1="507.8" y2="505.0" stroke="#000" stroke-width="1"/>
<line x1="968.7" x2="968.7" y1="638.8" y2="641.6" stroke="#000" stroke-width="1"/>
<line x1="982.7" x2="982.7" y1="507.8" y2="505.0" stroke="#000" stroke-width="1"/>
<line x1="982.7" x2="982.7" y1="638.8" y2="641.6" stroke="#000" stroke-width="1"/>
<line x1="996.6" x2="996.6" y1="507.8" y2="502.2" stroke="#000" stroke-width="1.5"/>
<line x1="996.6" x2="996.6" y1="638.8" y2="644.4" stroke="#000" stroke-width="1.5"/>
<line x1="996.6" x2="996.6" y1="507.8" y2="502.2" stroke="#000" stroke-width="1.5"/>
<line x1="996.6" x2="996.6" y1="638.8" y2="644.4" stroke="#000" stroke-width="1.5"/>
<line x1="1005.4" x2="1005.4" y1="507.8" y2="505.0" stroke="#000" stroke-width="1"/>
<line x1="1005.4" x2="1005.4" y1="638.8" y2="641.6" stroke="#000" stroke-width="1"/>
<line x1="1014.1" x2="1014.1" y1="507.8" y2="505.0" stroke="#000" stroke-width="1"/>
<line x1="1014.1" x2="1014.1" y1="638.8" y2="641.6" stroke="#000" stroke-width="1"/>
<line x1="1022.9" x2="1022.9" y1="507.8" y2="502.2" stroke="#000" stroke-width="1.5"/>
<line x1="1022.9" x2="1022.9" y1="638.8" y2="644.4" stroke="#000" stroke-width="1.5"/>
<line x1="1031.6" x2="1031.6" y1="507.8" y2="505.0" stroke="#000" stroke-width="1"/>
<line x1="1031.6" x2="1031.6" y1="638.8" y2="641.6" stroke="#000" stroke-width="1"/>
<line x1="1040.4" x2="1040.4" y1="507.8" y2="505.0" stroke="#000" stroke-width="1"/>
<line x1="1040.4" x2="1040.4" y1="638.8" y2="641.6" stroke="#000" stroke-width="1"/>
<line x1="1049.1" x2="1049.1" y1="507.8" y2="502.2" stroke="#000" stroke-width="1.5"/>
<line x1="1049.1" x2="1049.1" y1="638.8" y2="644.4" stroke="#000" stroke-width="1.5"/>
<line x1="1057.9" x2="1057.9" y1="507.8" y2="505.0" stroke="#000" stroke-width="1"/>
<line x1="1057.9" x2="1057.9" y1="638.8" y2="641.6" stroke="#000" stroke-width="1"/>
<line x1="1066.6" x2="1066.6" y1="507.8" y2="505.0" stroke="#000" stroke-width="1"/>
<line x1="1066.6" x2="1066.6" y1="638.8" y2="641.6" stroke="#000" stroke-width="1"/>
<line x1="1075.4" x2="1075.4" y1="507.8" y2="502.2" stroke="#000" stroke-width="1.5"/>
<line x1="1075.4" x2="1075.4" y1="638.8" y2="644.4" stroke="#000" stroke-width="1.5"/>
<line x1="1084.1" x2="1084.1" y1="507.8" y2="505.0" stroke="#000" stroke-width="1"/>
<line x1="1084.1" x2="1084.1" y1="638.8" y2="641.6" stroke="#000" stroke-width="1"/>
<line x1="1092.9" x2="1092.9" y1="507.8" y2="505.0" stroke="#000" stroke-width="1"/>
<line x1="1092.9" x2="1092.9" y1="638.8" y2="641.6" stroke="#000" stroke-width="1"/>
<line x1="1101.6" x2="1101.6" y1="507.8" y2="502.2" stroke="#000" stroke-width="1.5"/>
<line x1="1101.6" x2="1101.6" y1="638.8" y2="644.4" stroke="#000" stroke-width="1.5"/>
<line x1="1110.4" x2="1110.4" y1="507.8" y2="505.0" stroke="#000" stroke-width="1"/>
<line x1="1110.4" x2="1110.4" y1="638.8" y2="641.6" stroke="#000" stroke-width="1"/>
<line x1="1119.1" x2="1119.1" y1="507.8" y2="505.0" stroke="#000" stroke-width="1"/>
<line x1="1119.1" x2="1119.1" y1="638.8" y2="641.6" stroke="#000" stroke-width="1"/>
<line x1="1127.9" x2="1127.9" y1="507.8" y2="502.2" stroke="#000" stroke-width="1.5"/>
<line x1="1127.9" x2="1127.9" y1="638.8" y2="644.4" stroke="#000" stroke-width="1.5"/>
<line x1="714.8" x2="717.8" y1="509.3" y2="509.3" stroke="#000" stroke-width="1"/>
<line x1="996.6" x2="999.0" y1="509.3" y2="509.3" stroke="#000" stroke-width="1"/>
<line x1="714.8" x2="717.8" y1="515.8" y2="515.8" stroke="#000" stroke-width="1"/>
<line x1="996.6" x2="999.0" y1="515.8" y2="515.8" stroke="#000" stroke-width="1"/>
<line x1="714.8" x2="717.8" y1="521.5" y2="521.5" stroke="#000" stroke-width="1"/>
<line x1="996.6" x2="999.0" y1="521.5" y2="521.5" stroke="#000" stroke-width="1"/>
<line x1="714.8" x2="717.8" y1="526.4" y2="526.4" stroke="#000" stroke-width="1"/>
<line x1="996.6" x2="999.0" y1="526.4" y2="526.4" stroke="#000" stroke-width="1"/>
<line x1="714.8" x2="717.8" y1="530.9" y2="530.9" stroke="#000" stroke-width="1"/>
<line x1="996.6" x2="999.0" y1="530.9" y2="530.9" stroke="#000" stroke-width="1"/>
<line x1="712.3" x2="717.8" y1="560.2" y2="560.2" stroke="#000" stroke-width="1.5"/>
<line x1="996.6" x2="1001.0" y1="560.2" y2="560.2" stroke="#000" stroke-width="1.4"/>
<text x="701.6" y="565.6" font-family="Liberation Sans, Arial, sans-serif" font-size="15.4" fill="#222" text-anchor="end">20</text>
<line x1="714.8" x2="717.8" y1="577.3" y2="577.3" stroke="#000" stroke-width="1"/>
<line x1="996.6" x2="999.0" y1="577.3" y2="577.3" stroke="#000" stroke-width="1"/>
<line x1="714.8" x2="717.8" y1="589.5" y2="589.5" stroke="#000" stroke-width="1"/>
<line x1="996.6" x2="999.0" y1="589.5" y2="589.5" stroke="#000" stroke-width="1"/>
<line x1="714.8" x2="717.8" y1="598.9" y2="598.9" stroke="#000" stroke-width="1"/>
<line x1="996.6" x2="999.0" y1="598.9" y2="598.9" stroke="#000" stroke-width="1"/>
<line x1="712.3" x2="717.8" y1="606.6" y2="606.6" stroke="#000" stroke-width="1.5"/>
<line x1="996.6" x2="1001.0" y1="606.6" y2="606.6" stroke="#000" stroke-width="1.4"/>
<text x="701.6" y="612.0" font-family="Liberation Sans, Arial, sans-serif" font-size="15.4" fill="#222" text-anchor="end">60</text>
<line x1="714.8" x2="717.8" y1="613.2" y2="613.2" stroke="#000" stroke-width="1"/>
<line x1="996.6" x2="999.0" y1="613.2" y2="613.2" stroke="#000" stroke-width="1"/>
<line x1="714.8" x2="717.8" y1="618.8" y2="618.8" stroke="#000" stroke-width="1"/>
<line x1="996.6" x2="999.0" y1="618.8" y2="618.8" stroke="#000" stroke-width="1"/>
<line x1="714.8" x2="717.8" y1="623.8" y2="623.8" stroke="#000" stroke-width="1"/>
<line x1="996.6" x2="999.0" y1="623.8" y2="623.8" stroke="#000" stroke-width="1"/>
<line x1="712.3" x2="717.8" y1="628.2" y2="628.2" stroke="#000" stroke-width="1.5"/>
<line x1="996.6" x2="1001.0" y1="628.2" y2="628.2" stroke="#000" stroke-width="1.4"/>
<text x="701.6" y="633.6" font-family="Liberation Sans, Arial, sans-serif" font-size="15.4" fill="#222" text-anchor="end">100</text>
<line x1="714.8" x2="717.8" y1="632.3" y2="632.3" stroke="#000" stroke-width="1"/>
<line x1="996.6" x2="999.0" y1="632.3" y2="632.3" stroke="#000" stroke-width="1"/>
<line x1="714.8" x2="717.8" y1="635.9" y2="635.9" stroke="#000" stroke-width="1"/>
<line x1="996.6" x2="999.0" y1="635.9" y2="635.9" stroke="#000" stroke-width="1"/>
<text transform="translate(665.0,573.5) rotate(-90)" font-family="Liberation Sans, Arial, sans-serif" font-size="16.7" fill="#1c1c1c" text-anchor="middle">Period(years)</text>
<line x1="1008.6" x2="1123.9" y1="560.2" y2="560.2" stroke="#666" stroke-width="1.2" stroke-dasharray="4.7 6"/>
<line x1="1008.6" x2="1123.9" y1="589.5" y2="589.5" stroke="#666" stroke-width="1.2" stroke-dasharray="4.7 6"/>
<line x1="1008.6" x2="1123.9" y1="618.4" y2="618.4" stroke="#666" stroke-width="1.2" stroke-dasharray="4.7 6"/>
<g clip-path="url(#csh)">
<polyline points="998.3,508.6 999.8,522.2 1005.2,540.3 1017.3,558.4 1035.4,575.0 1059.5,587.0 1086.6,596.1 1110.7,602.1 1127.9,606.6" fill="none" stroke="#e8141c" stroke-width="2.6" stroke-dasharray="3.4 1.2"/>
<polyline points="997.1,508.6 997.7,525.2 1000.7,534.3 1009.7,543.3 1024.8,552.4 1029.9,559.9 1029.9,567.4 1035.4,575.0 1035.4,582.5 1050.4,588.5 1086.6,592.1 1117.4,596.1 1092.6,602.1 1041.4,610.2 1050.4,615.7 1083.6,625.3 1062.5,632.2 1048.9,638.3" fill="none" stroke="#000" stroke-width="2.7" stroke-linejoin="miter"/>
</g>
<text x="717.8" y="666.5" font-family="Liberation Sans, Arial, sans-serif" font-size="14.4" fill="#222" text-anchor="middle">1000</text>
<text x="773.6" y="666.5" font-family="Liberation Sans, Arial, sans-serif" font-size="14.4" fill="#222" text-anchor="middle">1200</text>
<text x="829.3" y="666.5" font-family="Liberation Sans, Arial, sans-serif" font-size="14.4" fill="#222" text-anchor="middle">1400</text>
<text x="885.1" y="666.5" font-family="Liberation Sans, Arial, sans-serif" font-size="14.4" fill="#222" text-anchor="middle">1600</text>
<text x="940.8" y="666.5" font-family="Liberation Sans, Arial, sans-serif" font-size="14.4" fill="#222" text-anchor="middle">1800</text>
<text x="996.6" y="666.5" font-family="Liberation Sans, Arial, sans-serif" font-size="14.4" fill="#222" text-anchor="middle">2000</text>
<text x="1022.9" y="666.5" font-family="Liberation Sans, Arial, sans-serif" font-size="14.4" fill="#222" text-anchor="middle">3</text>
<text x="1049.1" y="666.5" font-family="Liberation Sans, Arial, sans-serif" font-size="14.4" fill="#222" text-anchor="middle">6</text>
<text x="1075.4" y="666.5" font-family="Liberation Sans, Arial, sans-serif" font-size="14.4" fill="#222" text-anchor="middle">9</text>
<text x="1101.6" y="666.5" font-family="Liberation Sans, Arial, sans-serif" font-size="14.4" fill="#222" text-anchor="middle">12</text>
<text x="1127.9" y="666.5" font-family="Liberation Sans, Arial, sans-serif" font-size="14.4" fill="#222" text-anchor="middle">15</text>
<polygon points="742.7,673.2 727.5,679.1 742.7,685.0" fill="#ffffff" stroke="#222" stroke-width="0.9"/>
<rect x="742.7" y="673.2" width="15.3" height="11.8" fill="#d9ecf9" stroke="#222" stroke-width="0.9"/>
<rect x="758.0" y="673.2" width="15.3" height="11.8" fill="#b0d9f5" stroke="#222" stroke-width="0.9"/>
<rect x="773.3" y="673.2" width="15.3" height="11.8" fill="#89c0ec" stroke="#222" stroke-width="0.9"/>
<rect x="788.6" y="673.2" width="15.3" height="11.8" fill="#5f9fd6" stroke="#222" stroke-width="0.9"/>
<rect x="803.9" y="673.2" width="15.3" height="11.8" fill="#4189ba" stroke="#222" stroke-width="0.9"/>
<rect x="819.2" y="673.2" width="15.3" height="11.8" fill="#3a9e76" stroke="#222" stroke-width="0.9"/>
<rect x="834.5" y="673.2" width="15.3" height="11.8" fill="#4fae4a" stroke="#222" stroke-width="0.9"/>
<rect x="849.8" y="673.2" width="15.3" height="11.8" fill="#9bcb49" stroke="#222" stroke-width="0.9"/>
<rect x="865.2" y="673.2" width="15.3" height="11.8" fill="#efe34f" stroke="#222" stroke-width="0.9"/>
<rect x="880.5" y="673.2" width="15.3" height="11.8" fill="#f8ba4b" stroke="#222" stroke-width="0.9"/>
<rect x="895.8" y="673.2" width="15.3" height="11.8" fill="#f68c30" stroke="#222" stroke-width="0.9"/>
<rect x="911.1" y="673.2" width="15.3" height="11.8" fill="#ec612b" stroke="#222" stroke-width="0.9"/>
<rect x="926.4" y="673.2" width="15.3" height="11.8" fill="#e23c2b" stroke="#222" stroke-width="0.9"/>
<rect x="941.7" y="673.2" width="15.3" height="11.8" fill="#d42027" stroke="#222" stroke-width="0.9"/>
<rect x="957.0" y="673.2" width="15.3" height="11.8" fill="#bb1c23" stroke="#222" stroke-width="0.9"/>
<polygon points="972.3,673.2 985.9,679.1 972.3,685.0" fill="#a31419" stroke="#222" stroke-width="0.9"/>
<text x="758.0" y="700.3" font-family="Liberation Sans, Arial, sans-serif" font-size="13.6" fill="#222" text-anchor="middle">2</text>
<text x="788.6" y="700.3" font-family="Liberation Sans, Arial, sans-serif" font-size="13.6" fill="#222" text-anchor="middle">4</text>
<text x="819.2" y="700.3" font-family="Liberation Sans, Arial, sans-serif" font-size="13.6" fill="#222" text-anchor="middle">6</text>
<text x="849.8" y="700.3" font-family="Liberation Sans, Arial, sans-serif" font-size="13.6" fill="#222" text-anchor="middle">8</text>
<text x="880.5" y="700.3" font-family="Liberation Sans, Arial, sans-serif" font-size="13.6" fill="#222" text-anchor="middle">10</text>
<text x="911.1" y="700.3" font-family="Liberation Sans, Arial, sans-serif" font-size="13.6" fill="#222" text-anchor="middle">12</text>
<text x="941.7" y="700.3" font-family="Liberation Sans, Arial, sans-serif" font-size="13.6" fill="#222" text-anchor="middle">14</text>
<text x="972.3" y="700.3" font-family="Liberation Sans, Arial, sans-serif" font-size="13.6" fill="#222" text-anchor="middle">16</text>
</svg>
</body></html>
